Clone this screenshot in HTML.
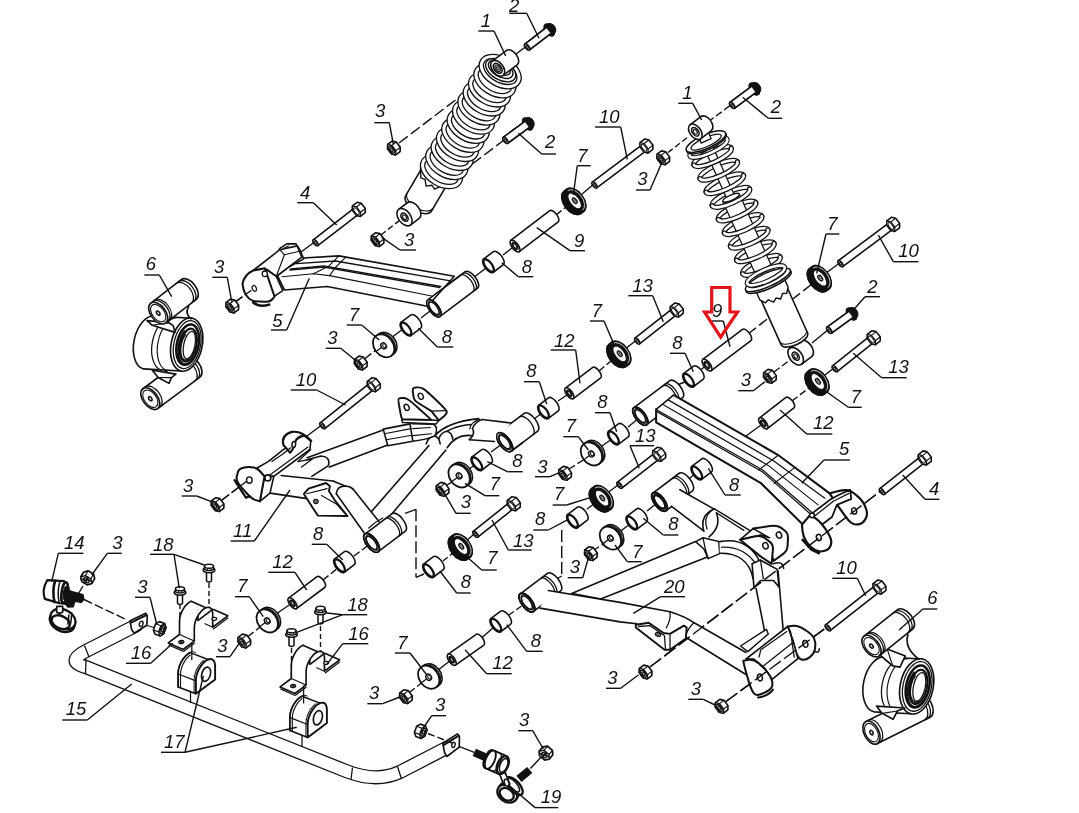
<!DOCTYPE html>
<html><head><meta charset="utf-8"><title>Suspension parts diagram</title>
<style>
html,body{margin:0;padding:0;background:#fff;}
svg{display:block;will-change:transform;}
text{font-family:"Liberation Sans",sans-serif;font-style:italic;fill:#111;}
</style></head><body>
<svg width="1079" height="813" viewBox="0 0 1079 813">
<rect width="1079" height="813" fill="#fff"/>
<line x1="399" y1="143" x2="462" y2="95" stroke="#111" stroke-width="1.4" stroke-dasharray="11 4"/>
<line x1="526" y1="46.5" x2="507" y2="61" stroke="#111" stroke-width="1.4"/>
<line x1="505" y1="139.3" x2="463" y2="171" stroke="#111" stroke-width="1.4" stroke-dasharray="11 4"/>
<line x1="381" y1="235" x2="400" y2="220" stroke="#111" stroke-width="1.4" stroke-dasharray="6 3"/>
<line x1="236" y1="301.5" x2="254" y2="288" stroke="#111" stroke-width="1.4" stroke-dasharray="8 3"/>
<line x1="297" y1="255" x2="315" y2="241.7" stroke="#111" stroke-width="1.4"/>
<line x1="365" y1="358.5" x2="376" y2="350" stroke="#111" stroke-width="1.4" stroke-dasharray="8 3"/>
<line x1="391" y1="338" x2="403" y2="329" stroke="#111" stroke-width="1.4"/>
<line x1="421" y1="318" x2="430" y2="311" stroke="#111" stroke-width="1.4"/>
<line x1="473" y1="278" x2="486" y2="268" stroke="#111" stroke-width="1.4"/>
<line x1="503" y1="255" x2="512" y2="248" stroke="#111" stroke-width="1.4"/>
<line x1="556" y1="215" x2="566" y2="207" stroke="#111" stroke-width="1.4" stroke-dasharray="7 3"/>
<line x1="582" y1="194" x2="594" y2="184" stroke="#111" stroke-width="1.4"/>
<line x1="222" y1="500" x2="247" y2="481" stroke="#111" stroke-width="1.4" stroke-dasharray="9 3"/>
<line x1="284" y1="453" x2="300" y2="441" stroke="#111" stroke-width="1.4" stroke-dasharray="9 3"/>
<line x1="305" y1="437.5" x2="322" y2="424.7" stroke="#111" stroke-width="1.4"/>
<line x1="248" y1="636.5" x2="262" y2="625.5" stroke="#111" stroke-width="1.4" stroke-dasharray="7 3"/>
<line x1="276" y1="614" x2="290" y2="604.5" stroke="#111" stroke-width="1.4"/>
<line x1="323" y1="580" x2="338" y2="568" stroke="#111" stroke-width="1.4" stroke-dasharray="7 3"/>
<line x1="354" y1="556" x2="368" y2="545.5" stroke="#111" stroke-width="1.4" stroke-dasharray="7 3"/>
<line x1="405" y1="513.3" x2="416" y2="509.3" stroke="#111" stroke-width="1.4"/>
<line x1="416" y1="509.3" x2="416" y2="577.3" stroke="#111" stroke-width="1.4" stroke-dasharray="12 4"/>
<line x1="416" y1="577.3" x2="424" y2="574" stroke="#111" stroke-width="1.4"/>
<line x1="443" y1="561" x2="453" y2="553" stroke="#111" stroke-width="1.4" stroke-dasharray="6 3"/>
<line x1="466" y1="541" x2="475" y2="533.3" stroke="#111" stroke-width="1.4"/>
<line x1="447" y1="485" x2="455" y2="480" stroke="#111" stroke-width="1.4" stroke-dasharray="6 3"/>
<line x1="466" y1="471" x2="475" y2="465" stroke="#111" stroke-width="1.4"/>
<line x1="491" y1="452" x2="502" y2="444" stroke="#111" stroke-width="1.4"/>
<line x1="534" y1="419" x2="542" y2="413" stroke="#111" stroke-width="1.4"/>
<line x1="558" y1="401" x2="567" y2="395" stroke="#111" stroke-width="1.4"/>
<line x1="599" y1="371" x2="611" y2="361" stroke="#111" stroke-width="1.4" stroke-dasharray="7 3"/>
<line x1="625" y1="349" x2="636.7" y2="340" stroke="#111" stroke-width="1.4"/>
<line x1="569" y1="469" x2="585" y2="459" stroke="#111" stroke-width="1.4" stroke-dasharray="7 3"/>
<line x1="599" y1="448" x2="612" y2="439" stroke="#111" stroke-width="1.4"/>
<line x1="628" y1="427" x2="636" y2="420.5" stroke="#111" stroke-width="1.4"/>
<line x1="676" y1="385.5" x2="686" y2="381.5" stroke="#111" stroke-width="1.4"/>
<line x1="701" y1="369.5" x2="705" y2="366.5" stroke="#111" stroke-width="1.4"/>
<line x1="748" y1="334" x2="812" y2="284" stroke="#111" stroke-width="1.4" stroke-dasharray="10 4"/>
<line x1="826" y1="273" x2="840" y2="262.7" stroke="#111" stroke-width="1.4"/>
<line x1="774" y1="372" x2="790" y2="360" stroke="#111" stroke-width="1.4" stroke-dasharray="7 3"/>
<line x1="812" y1="343" x2="829" y2="329" stroke="#111" stroke-width="1.4"/>
<line x1="746" y1="436" x2="761" y2="425" stroke="#111" stroke-width="1.4"/>
<line x1="792" y1="401" x2="809" y2="388" stroke="#111" stroke-width="1.4" stroke-dasharray="7 3"/>
<line x1="823" y1="376.5" x2="834.3" y2="367.7" stroke="#111" stroke-width="1.4"/>
<line x1="594" y1="550" x2="605" y2="543" stroke="#111" stroke-width="1.4" stroke-dasharray="6 3"/>
<line x1="618" y1="533" x2="630" y2="524" stroke="#111" stroke-width="1.4"/>
<line x1="647" y1="511" x2="657" y2="503" stroke="#111" stroke-width="1.4"/>
<line x1="687" y1="480" x2="695" y2="474" stroke="#111" stroke-width="1.4"/>
<line x1="587" y1="509" x2="596" y2="502.5" stroke="#111" stroke-width="1.4"/>
<line x1="608" y1="492.5" x2="619" y2="484.3" stroke="#111" stroke-width="1.4"/>
<line x1="561.7" y1="530" x2="561.7" y2="576" stroke="#111" stroke-width="1.4" stroke-dasharray="12 4"/>
<line x1="553" y1="581" x2="561.7" y2="576" stroke="#111" stroke-width="1.4"/>
<line x1="410" y1="692" x2="424" y2="681" stroke="#111" stroke-width="1.4" stroke-dasharray="6 3"/>
<line x1="437" y1="671" x2="449" y2="661.5" stroke="#111" stroke-width="1.4"/>
<line x1="481" y1="638.5" x2="494" y2="627" stroke="#111" stroke-width="1.4"/>
<line x1="509" y1="615" x2="523" y2="605" stroke="#111" stroke-width="1.4" stroke-dasharray="6 3"/>
<line x1="650" y1="667" x2="880" y2="491.5" stroke="#111" stroke-width="1.4" stroke-dasharray="14 4"/>
<line x1="726" y1="701.5" x2="827" y2="627" stroke="#111" stroke-width="1.4" stroke-dasharray="14 4"/>
<g transform="translate(488.4 265.7) rotate(-37)">
<path d="M0,-8.2 L12.5,-8.2 A3.8,8.2 0 0 1 12.5,8.2 L0,8.2 Z" fill="#fff" stroke="#111" stroke-width="1.59" stroke-linejoin="round" stroke-linecap="round" />
<ellipse cx="0" cy="0" rx="3.8" ry="8.2" fill="#fff" stroke="#111" stroke-width="1.65"/>
<ellipse cx="0.3" cy="0" rx="3.2" ry="7.2" fill="#fff" stroke="#111" stroke-width="1.91"/>
</g>
<g transform="translate(405.9 329) rotate(-37)">
<path d="M0,-8.2 L12.5,-8.2 A3.8,8.2 0 0 1 12.5,8.2 L0,8.2 Z" fill="#fff" stroke="#111" stroke-width="1.59" stroke-linejoin="round" stroke-linecap="round" />
<ellipse cx="0" cy="0" rx="3.8" ry="8.2" fill="#fff" stroke="#111" stroke-width="1.65"/>
<ellipse cx="0.3" cy="0" rx="3.2" ry="7.2" fill="#fff" stroke="#111" stroke-width="1.91"/>
</g>
<g transform="translate(543.4 411.9) rotate(-37)">
<path d="M0,-8.2 L12.5,-8.2 A3.8,8.2 0 0 1 12.5,8.2 L0,8.2 Z" fill="#fff" stroke="#111" stroke-width="1.59" stroke-linejoin="round" stroke-linecap="round" />
<ellipse cx="0" cy="0" rx="3.8" ry="8.2" fill="#fff" stroke="#111" stroke-width="1.65"/>
<ellipse cx="0.3" cy="0" rx="3.2" ry="7.2" fill="#fff" stroke="#111" stroke-width="1.91"/>
</g>
<g transform="translate(476.7 463.7) rotate(-37)">
<path d="M0,-8.2 L12.5,-8.2 A3.8,8.2 0 0 1 12.5,8.2 L0,8.2 Z" fill="#fff" stroke="#111" stroke-width="1.59" stroke-linejoin="round" stroke-linecap="round" />
<ellipse cx="0" cy="0" rx="3.8" ry="8.2" fill="#fff" stroke="#111" stroke-width="1.65"/>
<ellipse cx="0.3" cy="0" rx="3.2" ry="7.2" fill="#fff" stroke="#111" stroke-width="1.91"/>
</g>
<g transform="translate(613.4 437.9) rotate(-37)">
<path d="M0,-8.2 L12.5,-8.2 A3.8,8.2 0 0 1 12.5,8.2 L0,8.2 Z" fill="#fff" stroke="#111" stroke-width="1.59" stroke-linejoin="round" stroke-linecap="round" />
<ellipse cx="0" cy="0" rx="3.8" ry="8.2" fill="#fff" stroke="#111" stroke-width="1.65"/>
<ellipse cx="0.3" cy="0" rx="3.2" ry="7.2" fill="#fff" stroke="#111" stroke-width="1.91"/>
</g>
<g transform="translate(688.4 380.2) rotate(-37)">
<path d="M0,-8.2 L12.5,-8.2 A3.8,8.2 0 0 1 12.5,8.2 L0,8.2 Z" fill="#fff" stroke="#111" stroke-width="1.59" stroke-linejoin="round" stroke-linecap="round" />
<ellipse cx="0" cy="0" rx="3.8" ry="8.2" fill="#fff" stroke="#111" stroke-width="1.65"/>
<ellipse cx="0.3" cy="0" rx="3.2" ry="7.2" fill="#fff" stroke="#111" stroke-width="1.91"/>
</g>
<g transform="translate(696.7 472.9) rotate(-37)">
<path d="M0,-8.2 L12.5,-8.2 A3.8,8.2 0 0 1 12.5,8.2 L0,8.2 Z" fill="#fff" stroke="#111" stroke-width="1.59" stroke-linejoin="round" stroke-linecap="round" />
<ellipse cx="0" cy="0" rx="3.8" ry="8.2" fill="#fff" stroke="#111" stroke-width="1.65"/>
<ellipse cx="0.3" cy="0" rx="3.2" ry="7.2" fill="#fff" stroke="#111" stroke-width="1.91"/>
</g>
<g transform="translate(631.7 522.9) rotate(-37)">
<path d="M0,-8.2 L12.5,-8.2 A3.8,8.2 0 0 1 12.5,8.2 L0,8.2 Z" fill="#fff" stroke="#111" stroke-width="1.59" stroke-linejoin="round" stroke-linecap="round" />
<ellipse cx="0" cy="0" rx="3.8" ry="8.2" fill="#fff" stroke="#111" stroke-width="1.65"/>
<ellipse cx="0.3" cy="0" rx="3.2" ry="7.2" fill="#fff" stroke="#111" stroke-width="1.91"/>
</g>
<g transform="translate(572.4 521.2) rotate(-37)">
<path d="M0,-8.2 L12.5,-8.2 A3.8,8.2 0 0 1 12.5,8.2 L0,8.2 Z" fill="#fff" stroke="#111" stroke-width="1.59" stroke-linejoin="round" stroke-linecap="round" />
<ellipse cx="0" cy="0" rx="3.8" ry="8.2" fill="#fff" stroke="#111" stroke-width="1.65"/>
<ellipse cx="0.3" cy="0" rx="3.2" ry="7.2" fill="#fff" stroke="#111" stroke-width="1.91"/>
</g>
<g transform="translate(339.4 565.7) rotate(-37)">
<path d="M0,-8.2 L12.5,-8.2 A3.8,8.2 0 0 1 12.5,8.2 L0,8.2 Z" fill="#fff" stroke="#111" stroke-width="1.59" stroke-linejoin="round" stroke-linecap="round" />
<ellipse cx="0" cy="0" rx="3.8" ry="8.2" fill="#fff" stroke="#111" stroke-width="1.65"/>
<ellipse cx="0.3" cy="0" rx="3.2" ry="7.2" fill="#fff" stroke="#111" stroke-width="1.91"/>
</g>
<g transform="translate(428.4 570.7) rotate(-37)">
<path d="M0,-8.2 L12.5,-8.2 A3.8,8.2 0 0 1 12.5,8.2 L0,8.2 Z" fill="#fff" stroke="#111" stroke-width="1.59" stroke-linejoin="round" stroke-linecap="round" />
<ellipse cx="0" cy="0" rx="3.8" ry="8.2" fill="#fff" stroke="#111" stroke-width="1.65"/>
<ellipse cx="0.3" cy="0" rx="3.2" ry="7.2" fill="#fff" stroke="#111" stroke-width="1.91"/>
</g>
<g transform="translate(495.7 625.2) rotate(-37)">
<path d="M0,-8.2 L12.5,-8.2 A3.8,8.2 0 0 1 12.5,8.2 L0,8.2 Z" fill="#fff" stroke="#111" stroke-width="1.59" stroke-linejoin="round" stroke-linecap="round" />
<ellipse cx="0" cy="0" rx="3.8" ry="8.2" fill="#fff" stroke="#111" stroke-width="1.65"/>
<ellipse cx="0.3" cy="0" rx="3.2" ry="7.2" fill="#fff" stroke="#111" stroke-width="1.91"/>
</g>
<g transform="translate(292.5 603.3) rotate(-36.8)">
<path d="M0,-6.6 L35.6,-6.6 A3,6.6 0 0 1 35.6,6.6 L0,6.6 Z" fill="#fff" stroke="#111" stroke-width="1.59" stroke-linejoin="round" stroke-linecap="round" />
<ellipse cx="0" cy="0" rx="3" ry="6.6" fill="#fff" stroke="#111" stroke-width="1.59"/>
<ellipse cx="0" cy="0" rx="1.7" ry="3.6" fill="#fff" stroke="#111" stroke-width="1.59"/>
<ellipse cx="0" cy="0" rx="1.1" ry="2.4" fill="#fff" stroke="#111" stroke-width="1.14"/>
</g>
<g transform="translate(451.7 659.7) rotate(-35.2)">
<path d="M0,-6.6 L34.7,-6.6 A3,6.6 0 0 1 34.7,6.6 L0,6.6 Z" fill="#fff" stroke="#111" stroke-width="1.59" stroke-linejoin="round" stroke-linecap="round" />
<ellipse cx="0" cy="0" rx="3" ry="6.6" fill="#fff" stroke="#111" stroke-width="1.59"/>
<ellipse cx="0" cy="0" rx="1.7" ry="3.6" fill="#fff" stroke="#111" stroke-width="1.59"/>
<ellipse cx="0" cy="0" rx="1.1" ry="2.4" fill="#fff" stroke="#111" stroke-width="1.14"/>
</g>
<g transform="translate(569.3 393.3) rotate(-36.9)">
<path d="M0,-6.6 L34.3,-6.6 A3,6.6 0 0 1 34.3,6.6 L0,6.6 Z" fill="#fff" stroke="#111" stroke-width="1.59" stroke-linejoin="round" stroke-linecap="round" />
<ellipse cx="0" cy="0" rx="3" ry="6.6" fill="#fff" stroke="#111" stroke-width="1.59"/>
<ellipse cx="0" cy="0" rx="1.7" ry="3.6" fill="#fff" stroke="#111" stroke-width="1.59"/>
<ellipse cx="0" cy="0" rx="1.1" ry="2.4" fill="#fff" stroke="#111" stroke-width="1.14"/>
</g>
<g transform="translate(763.3 423.3) rotate(-37.7)">
<path d="M0,-6.6 L33.7,-6.6 A3,6.6 0 0 1 33.7,6.6 L0,6.6 Z" fill="#fff" stroke="#111" stroke-width="1.59" stroke-linejoin="round" stroke-linecap="round" />
<ellipse cx="0" cy="0" rx="3" ry="6.6" fill="#fff" stroke="#111" stroke-width="1.59"/>
<ellipse cx="0" cy="0" rx="1.7" ry="3.6" fill="#fff" stroke="#111" stroke-width="1.59"/>
<ellipse cx="0" cy="0" rx="1.1" ry="2.4" fill="#fff" stroke="#111" stroke-width="1.14"/>
</g>
<g transform="translate(515 246) rotate(-37.3)">
<path d="M0,-7 L49,-7 A3.2,7 0 0 1 49,7 L0,7 Z" fill="#fff" stroke="#111" stroke-width="1.59" stroke-linejoin="round" stroke-linecap="round" />
<ellipse cx="0" cy="0" rx="3.2" ry="7" fill="#fff" stroke="#111" stroke-width="1.59"/>
<ellipse cx="0" cy="0" rx="1.8" ry="4" fill="#fff" stroke="#111" stroke-width="1.59"/>
<ellipse cx="0" cy="0" rx="1.2" ry="2.6" fill="#fff" stroke="#111" stroke-width="1.14"/>
</g>
<g transform="translate(707 365) rotate(-37.1)">
<path d="M0,-7 L49.8,-7 A3.2,7 0 0 1 49.8,7 L0,7 Z" fill="#fff" stroke="#111" stroke-width="1.59" stroke-linejoin="round" stroke-linecap="round" />
<ellipse cx="0" cy="0" rx="3.2" ry="7" fill="#fff" stroke="#111" stroke-width="1.59"/>
<ellipse cx="0" cy="0" rx="1.8" ry="4" fill="#fff" stroke="#111" stroke-width="1.59"/>
<ellipse cx="0" cy="0" rx="1.2" ry="2.6" fill="#fff" stroke="#111" stroke-width="1.14"/>
</g>
<g transform="translate(574.9 200.6) rotate(-37)">
<path d="M-2.8,-13.9 L0,-13.9 A8.6,13.9 0 0 1 0,13.9 L-2.8,13.9 A8.6,13.9 0 0 1 -2.8,-13.9 Z" fill="#111" stroke="#111" stroke-width="1.59" stroke-linejoin="round" stroke-linecap="round" />
<ellipse cx="-2.8" cy="0" rx="8.6" ry="13.9" fill="#111" stroke="#111" stroke-width="1.59"/>
<ellipse cx="0" cy="0" rx="8.6" ry="13.9" fill="#111" stroke="#111" stroke-width="1.59"/>
<path d="M0.6,-12.3 A7.1,12.3 0 0 1 0.6,12.3" fill="none" stroke="#fff" stroke-width="0.7" stroke-linejoin="round" stroke-linecap="round" />
<ellipse cx="-0.4" cy="0" rx="4.7" ry="9.3" fill="#fff" stroke="#111" stroke-width="1.02"/>
<ellipse cx="-0.2" cy="0" rx="1.7" ry="3.2" fill="#fff" stroke="#111" stroke-width="1.4"/>
<ellipse cx="0.3" cy="0" rx="0.8" ry="1.5" fill="#fff" stroke="#111" stroke-width="0.89"/>
</g>
<g transform="translate(619.9 353.6) rotate(-37)">
<path d="M-2.8,-13.9 L0,-13.9 A8.6,13.9 0 0 1 0,13.9 L-2.8,13.9 A8.6,13.9 0 0 1 -2.8,-13.9 Z" fill="#111" stroke="#111" stroke-width="1.59" stroke-linejoin="round" stroke-linecap="round" />
<ellipse cx="-2.8" cy="0" rx="8.6" ry="13.9" fill="#111" stroke="#111" stroke-width="1.59"/>
<ellipse cx="0" cy="0" rx="8.6" ry="13.9" fill="#111" stroke="#111" stroke-width="1.59"/>
<path d="M0.6,-12.3 A7.1,12.3 0 0 1 0.6,12.3" fill="none" stroke="#fff" stroke-width="0.7" stroke-linejoin="round" stroke-linecap="round" />
<ellipse cx="-0.4" cy="0" rx="4.7" ry="9.3" fill="#fff" stroke="#111" stroke-width="1.02"/>
<ellipse cx="-0.2" cy="0" rx="1.7" ry="3.2" fill="#fff" stroke="#111" stroke-width="1.4"/>
<ellipse cx="0.3" cy="0" rx="0.8" ry="1.5" fill="#fff" stroke="#111" stroke-width="0.89"/>
</g>
<g transform="translate(602.4 497.9) rotate(-37)">
<path d="M-2.8,-13.9 L0,-13.9 A8.6,13.9 0 0 1 0,13.9 L-2.8,13.9 A8.6,13.9 0 0 1 -2.8,-13.9 Z" fill="#111" stroke="#111" stroke-width="1.59" stroke-linejoin="round" stroke-linecap="round" />
<ellipse cx="-2.8" cy="0" rx="8.6" ry="13.9" fill="#111" stroke="#111" stroke-width="1.59"/>
<ellipse cx="0" cy="0" rx="8.6" ry="13.9" fill="#111" stroke="#111" stroke-width="1.59"/>
<path d="M0.6,-12.3 A7.1,12.3 0 0 1 0.6,12.3" fill="none" stroke="#fff" stroke-width="0.7" stroke-linejoin="round" stroke-linecap="round" />
<ellipse cx="-0.4" cy="0" rx="4.7" ry="9.3" fill="#fff" stroke="#111" stroke-width="1.02"/>
<ellipse cx="-0.2" cy="0" rx="1.7" ry="3.2" fill="#fff" stroke="#111" stroke-width="1.4"/>
<ellipse cx="0.3" cy="0" rx="0.8" ry="1.5" fill="#fff" stroke="#111" stroke-width="0.89"/>
</g>
<g transform="translate(461.4 546.3) rotate(-37)">
<path d="M-2.8,-13.9 L0,-13.9 A8.6,13.9 0 0 1 0,13.9 L-2.8,13.9 A8.6,13.9 0 0 1 -2.8,-13.9 Z" fill="#111" stroke="#111" stroke-width="1.59" stroke-linejoin="round" stroke-linecap="round" />
<ellipse cx="-2.8" cy="0" rx="8.6" ry="13.9" fill="#111" stroke="#111" stroke-width="1.59"/>
<ellipse cx="0" cy="0" rx="8.6" ry="13.9" fill="#111" stroke="#111" stroke-width="1.59"/>
<path d="M0.6,-12.3 A7.1,12.3 0 0 1 0.6,12.3" fill="none" stroke="#fff" stroke-width="0.7" stroke-linejoin="round" stroke-linecap="round" />
<ellipse cx="-0.4" cy="0" rx="4.7" ry="9.3" fill="#fff" stroke="#111" stroke-width="1.02"/>
<ellipse cx="-0.2" cy="0" rx="1.7" ry="3.2" fill="#fff" stroke="#111" stroke-width="1.4"/>
<ellipse cx="0.3" cy="0" rx="0.8" ry="1.5" fill="#fff" stroke="#111" stroke-width="0.89"/>
</g>
<g transform="translate(820.4 277.9) rotate(-37)">
<path d="M-2.8,-13.9 L0,-13.9 A8.6,13.9 0 0 1 0,13.9 L-2.8,13.9 A8.6,13.9 0 0 1 -2.8,-13.9 Z" fill="#111" stroke="#111" stroke-width="1.59" stroke-linejoin="round" stroke-linecap="round" />
<ellipse cx="-2.8" cy="0" rx="8.6" ry="13.9" fill="#111" stroke="#111" stroke-width="1.59"/>
<ellipse cx="0" cy="0" rx="8.6" ry="13.9" fill="#111" stroke="#111" stroke-width="1.59"/>
<path d="M0.6,-12.3 A7.1,12.3 0 0 1 0.6,12.3" fill="none" stroke="#fff" stroke-width="0.7" stroke-linejoin="round" stroke-linecap="round" />
<ellipse cx="-0.4" cy="0" rx="4.7" ry="9.3" fill="#fff" stroke="#111" stroke-width="1.02"/>
<ellipse cx="-0.2" cy="0" rx="1.7" ry="3.2" fill="#fff" stroke="#111" stroke-width="1.4"/>
<ellipse cx="0.3" cy="0" rx="0.8" ry="1.5" fill="#fff" stroke="#111" stroke-width="0.89"/>
</g>
<g transform="translate(818.1 381.3) rotate(-37)">
<path d="M-2.8,-13.9 L0,-13.9 A8.6,13.9 0 0 1 0,13.9 L-2.8,13.9 A8.6,13.9 0 0 1 -2.8,-13.9 Z" fill="#111" stroke="#111" stroke-width="1.59" stroke-linejoin="round" stroke-linecap="round" />
<ellipse cx="-2.8" cy="0" rx="8.6" ry="13.9" fill="#111" stroke="#111" stroke-width="1.59"/>
<ellipse cx="0" cy="0" rx="8.6" ry="13.9" fill="#111" stroke="#111" stroke-width="1.59"/>
<path d="M0.6,-12.3 A7.1,12.3 0 0 1 0.6,12.3" fill="none" stroke="#fff" stroke-width="0.7" stroke-linejoin="round" stroke-linecap="round" />
<ellipse cx="-0.4" cy="0" rx="4.7" ry="9.3" fill="#fff" stroke="#111" stroke-width="1.02"/>
<ellipse cx="-0.2" cy="0" rx="1.7" ry="3.2" fill="#fff" stroke="#111" stroke-width="1.4"/>
<ellipse cx="0.3" cy="0" rx="0.8" ry="1.5" fill="#fff" stroke="#111" stroke-width="0.89"/>
</g>
<g transform="translate(384.9 344.9) rotate(-37)">
<g transform="translate(-1.6 0) rotate(0)">
<path d="M0,-12.5 L3.4,-12.5 A9.5,12.5 0 0 1 3.4,12.5 L0,12.5 Z" fill="#fff" stroke="#111" stroke-width="1.59" stroke-linejoin="round" stroke-linecap="round" />
<path d="M1.7,-12.5 A9.5,12.5 0 0 1 1.7,12.5" fill="none" stroke="#111" stroke-width="1.02" stroke-linejoin="round" stroke-linecap="round" />
<ellipse cx="1" cy="0" rx="9.5" ry="12.5" fill="#fff" stroke="#111" stroke-width="1.02"/>
<ellipse cx="0" cy="0" rx="9.5" ry="12.5" fill="#fff" stroke="#111" stroke-width="1.78"/>
<line x1="-9.5" y1="0" x2="-2" y2="0" stroke="#111" stroke-width="1.27"/>
<ellipse cx="0" cy="0" rx="2.6" ry="3.2" fill="#fff" stroke="#111" stroke-width="1.4"/>
<ellipse cx="0.7" cy="0.2" rx="1.5" ry="2" fill="#fff" stroke="#111" stroke-width="1.02"/>
</g>
</g>
<g transform="translate(460.4 475) rotate(-37)">
<g transform="translate(-1.6 0) rotate(0)">
<path d="M0,-12.5 L3.4,-12.5 A9.5,12.5 0 0 1 3.4,12.5 L0,12.5 Z" fill="#fff" stroke="#111" stroke-width="1.59" stroke-linejoin="round" stroke-linecap="round" />
<path d="M1.7,-12.5 A9.5,12.5 0 0 1 1.7,12.5" fill="none" stroke="#111" stroke-width="1.02" stroke-linejoin="round" stroke-linecap="round" />
<ellipse cx="1" cy="0" rx="9.5" ry="12.5" fill="#fff" stroke="#111" stroke-width="1.02"/>
<ellipse cx="0" cy="0" rx="9.5" ry="12.5" fill="#fff" stroke="#111" stroke-width="1.78"/>
<line x1="-9.5" y1="0" x2="-2" y2="0" stroke="#111" stroke-width="1.27"/>
<ellipse cx="0" cy="0" rx="2.6" ry="3.2" fill="#fff" stroke="#111" stroke-width="1.4"/>
<ellipse cx="0.7" cy="0.2" rx="1.5" ry="2" fill="#fff" stroke="#111" stroke-width="1.02"/>
</g>
</g>
<g transform="translate(592.7 453) rotate(-37)">
<g transform="translate(-1.6 0) rotate(0)">
<path d="M0,-12.5 L3.4,-12.5 A9.5,12.5 0 0 1 3.4,12.5 L0,12.5 Z" fill="#fff" stroke="#111" stroke-width="1.59" stroke-linejoin="round" stroke-linecap="round" />
<path d="M1.7,-12.5 A9.5,12.5 0 0 1 1.7,12.5" fill="none" stroke="#111" stroke-width="1.02" stroke-linejoin="round" stroke-linecap="round" />
<ellipse cx="1" cy="0" rx="9.5" ry="12.5" fill="#fff" stroke="#111" stroke-width="1.02"/>
<ellipse cx="0" cy="0" rx="9.5" ry="12.5" fill="#fff" stroke="#111" stroke-width="1.78"/>
<line x1="-9.5" y1="0" x2="-2" y2="0" stroke="#111" stroke-width="1.27"/>
<ellipse cx="0" cy="0" rx="2.6" ry="3.2" fill="#fff" stroke="#111" stroke-width="1.4"/>
<ellipse cx="0.7" cy="0.2" rx="1.5" ry="2" fill="#fff" stroke="#111" stroke-width="1.02"/>
</g>
</g>
<g transform="translate(611.7 537.2) rotate(-37)">
<g transform="translate(-1.6 0) rotate(0)">
<path d="M0,-12.5 L3.4,-12.5 A9.5,12.5 0 0 1 3.4,12.5 L0,12.5 Z" fill="#fff" stroke="#111" stroke-width="1.59" stroke-linejoin="round" stroke-linecap="round" />
<path d="M1.7,-12.5 A9.5,12.5 0 0 1 1.7,12.5" fill="none" stroke="#111" stroke-width="1.02" stroke-linejoin="round" stroke-linecap="round" />
<ellipse cx="1" cy="0" rx="9.5" ry="12.5" fill="#fff" stroke="#111" stroke-width="1.02"/>
<ellipse cx="0" cy="0" rx="9.5" ry="12.5" fill="#fff" stroke="#111" stroke-width="1.78"/>
<line x1="-9.5" y1="0" x2="-2" y2="0" stroke="#111" stroke-width="1.27"/>
<ellipse cx="0" cy="0" rx="2.6" ry="3.2" fill="#fff" stroke="#111" stroke-width="1.4"/>
<ellipse cx="0.7" cy="0.2" rx="1.5" ry="2" fill="#fff" stroke="#111" stroke-width="1.02"/>
</g>
</g>
<g transform="translate(268.5 620) rotate(-37)">
<g transform="translate(-1.6 0) rotate(0)">
<path d="M0,-12.5 L3.4,-12.5 A9.5,12.5 0 0 1 3.4,12.5 L0,12.5 Z" fill="#fff" stroke="#111" stroke-width="1.59" stroke-linejoin="round" stroke-linecap="round" />
<path d="M1.7,-12.5 A9.5,12.5 0 0 1 1.7,12.5" fill="none" stroke="#111" stroke-width="1.02" stroke-linejoin="round" stroke-linecap="round" />
<ellipse cx="1" cy="0" rx="9.5" ry="12.5" fill="#fff" stroke="#111" stroke-width="1.02"/>
<ellipse cx="0" cy="0" rx="9.5" ry="12.5" fill="#fff" stroke="#111" stroke-width="1.78"/>
<line x1="-9.5" y1="0" x2="-2" y2="0" stroke="#111" stroke-width="1.27"/>
<ellipse cx="0" cy="0" rx="2.6" ry="3.2" fill="#fff" stroke="#111" stroke-width="1.4"/>
<ellipse cx="0.7" cy="0.2" rx="1.5" ry="2" fill="#fff" stroke="#111" stroke-width="1.02"/>
</g>
</g>
<g transform="translate(430 676.3) rotate(-37)">
<g transform="translate(-1.6 0) rotate(0)">
<path d="M0,-12.5 L3.4,-12.5 A9.5,12.5 0 0 1 3.4,12.5 L0,12.5 Z" fill="#fff" stroke="#111" stroke-width="1.59" stroke-linejoin="round" stroke-linecap="round" />
<path d="M1.7,-12.5 A9.5,12.5 0 0 1 1.7,12.5" fill="none" stroke="#111" stroke-width="1.02" stroke-linejoin="round" stroke-linecap="round" />
<ellipse cx="1" cy="0" rx="9.5" ry="12.5" fill="#fff" stroke="#111" stroke-width="1.02"/>
<ellipse cx="0" cy="0" rx="9.5" ry="12.5" fill="#fff" stroke="#111" stroke-width="1.78"/>
<line x1="-9.5" y1="0" x2="-2" y2="0" stroke="#111" stroke-width="1.27"/>
<ellipse cx="0" cy="0" rx="2.6" ry="3.2" fill="#fff" stroke="#111" stroke-width="1.4"/>
<ellipse cx="0.7" cy="0.2" rx="1.5" ry="2" fill="#fff" stroke="#111" stroke-width="1.02"/>
</g>
</g>
<g transform="translate(393.9 148) rotate(-37)">
<path d="M-2.8,6.6 L-5.5,3.3 L-5.5,-3.3 L-2.8,-6.6 L2.7,-6.6 L5.5,-3.3 L5.5,3.3 L2.8,6.6 Z" fill="#fff" stroke="#111" stroke-width="1.65" stroke-linejoin="round" stroke-linecap="round"/>
<path d="M0,3.3 L-2.8,6.6 L-5.5,3.3 L-5.5,-3.3 L-2.8,-6.6 L0,-3.3 Z" fill="#fff" stroke="#111" stroke-width="1.27" stroke-linejoin="round" stroke-linecap="round"/>
<line x1="0" y1="3.3" x2="5.5" y2="3.3" stroke="#111" stroke-width="1.14"/>
<line x1="0" y1="-3.3" x2="5.5" y2="-3.3" stroke="#111" stroke-width="1.14"/>
<ellipse cx="-2.8" cy="0" rx="2" ry="4.1" fill="#fff" stroke="#111" stroke-width="1.52"/>
<ellipse cx="-2.8" cy="0" rx="1" ry="2.1" fill="#fff" stroke="#111" stroke-width="1.27"/>
</g>
<g transform="translate(377.6 239.6) rotate(-37)">
<path d="M-2.8,6.6 L-5.5,3.3 L-5.5,-3.3 L-2.8,-6.6 L2.7,-6.6 L5.5,-3.3 L5.5,3.3 L2.8,6.6 Z" fill="#fff" stroke="#111" stroke-width="1.65" stroke-linejoin="round" stroke-linecap="round"/>
<path d="M0,3.3 L-2.8,6.6 L-5.5,3.3 L-5.5,-3.3 L-2.8,-6.6 L0,-3.3 Z" fill="#fff" stroke="#111" stroke-width="1.27" stroke-linejoin="round" stroke-linecap="round"/>
<line x1="0" y1="3.3" x2="5.5" y2="3.3" stroke="#111" stroke-width="1.14"/>
<line x1="0" y1="-3.3" x2="5.5" y2="-3.3" stroke="#111" stroke-width="1.14"/>
<ellipse cx="-2.8" cy="0" rx="2" ry="4.1" fill="#fff" stroke="#111" stroke-width="1.52"/>
<ellipse cx="-2.8" cy="0" rx="1" ry="2.1" fill="#fff" stroke="#111" stroke-width="1.27"/>
</g>
<g transform="translate(663.3 157.8) rotate(-37)">
<path d="M-2.8,6.6 L-5.5,3.3 L-5.5,-3.3 L-2.8,-6.6 L2.7,-6.6 L5.5,-3.3 L5.5,3.3 L2.8,6.6 Z" fill="#fff" stroke="#111" stroke-width="1.65" stroke-linejoin="round" stroke-linecap="round"/>
<path d="M0,3.3 L-2.8,6.6 L-5.5,3.3 L-5.5,-3.3 L-2.8,-6.6 L0,-3.3 Z" fill="#fff" stroke="#111" stroke-width="1.27" stroke-linejoin="round" stroke-linecap="round"/>
<line x1="0" y1="3.3" x2="5.5" y2="3.3" stroke="#111" stroke-width="1.14"/>
<line x1="0" y1="-3.3" x2="5.5" y2="-3.3" stroke="#111" stroke-width="1.14"/>
<ellipse cx="-2.8" cy="0" rx="2" ry="4.1" fill="#fff" stroke="#111" stroke-width="1.52"/>
<ellipse cx="-2.8" cy="0" rx="1" ry="2.1" fill="#fff" stroke="#111" stroke-width="1.27"/>
</g>
<g transform="translate(232.3 306) rotate(-37)">
<path d="M-2.8,6.6 L-5.5,3.3 L-5.5,-3.3 L-2.8,-6.6 L2.7,-6.6 L5.5,-3.3 L5.5,3.3 L2.8,6.6 Z" fill="#fff" stroke="#111" stroke-width="1.65" stroke-linejoin="round" stroke-linecap="round"/>
<path d="M0,3.3 L-2.8,6.6 L-5.5,3.3 L-5.5,-3.3 L-2.8,-6.6 L0,-3.3 Z" fill="#fff" stroke="#111" stroke-width="1.27" stroke-linejoin="round" stroke-linecap="round"/>
<line x1="0" y1="3.3" x2="5.5" y2="3.3" stroke="#111" stroke-width="1.14"/>
<line x1="0" y1="-3.3" x2="5.5" y2="-3.3" stroke="#111" stroke-width="1.14"/>
<ellipse cx="-2.8" cy="0" rx="2" ry="4.1" fill="#fff" stroke="#111" stroke-width="1.52"/>
<ellipse cx="-2.8" cy="0" rx="1" ry="2.1" fill="#fff" stroke="#111" stroke-width="1.27"/>
</g>
<g transform="translate(360.8 363) rotate(-37)">
<path d="M-2.8,6.6 L-5.5,3.3 L-5.5,-3.3 L-2.8,-6.6 L2.7,-6.6 L5.5,-3.3 L5.5,3.3 L2.8,6.6 Z" fill="#fff" stroke="#111" stroke-width="1.65" stroke-linejoin="round" stroke-linecap="round"/>
<path d="M0,3.3 L-2.8,6.6 L-5.5,3.3 L-5.5,-3.3 L-2.8,-6.6 L0,-3.3 Z" fill="#fff" stroke="#111" stroke-width="1.27" stroke-linejoin="round" stroke-linecap="round"/>
<line x1="0" y1="3.3" x2="5.5" y2="3.3" stroke="#111" stroke-width="1.14"/>
<line x1="0" y1="-3.3" x2="5.5" y2="-3.3" stroke="#111" stroke-width="1.14"/>
<ellipse cx="-2.8" cy="0" rx="2" ry="4.1" fill="#fff" stroke="#111" stroke-width="1.52"/>
<ellipse cx="-2.8" cy="0" rx="1" ry="2.1" fill="#fff" stroke="#111" stroke-width="1.27"/>
</g>
<g transform="translate(217.6 504.6) rotate(-37)">
<path d="M-2.8,6.6 L-5.5,3.3 L-5.5,-3.3 L-2.8,-6.6 L2.7,-6.6 L5.5,-3.3 L5.5,3.3 L2.8,6.6 Z" fill="#fff" stroke="#111" stroke-width="1.65" stroke-linejoin="round" stroke-linecap="round"/>
<path d="M0,3.3 L-2.8,6.6 L-5.5,3.3 L-5.5,-3.3 L-2.8,-6.6 L0,-3.3 Z" fill="#fff" stroke="#111" stroke-width="1.27" stroke-linejoin="round" stroke-linecap="round"/>
<line x1="0" y1="3.3" x2="5.5" y2="3.3" stroke="#111" stroke-width="1.14"/>
<line x1="0" y1="-3.3" x2="5.5" y2="-3.3" stroke="#111" stroke-width="1.14"/>
<ellipse cx="-2.8" cy="0" rx="2" ry="4.1" fill="#fff" stroke="#111" stroke-width="1.52"/>
<ellipse cx="-2.8" cy="0" rx="1" ry="2.1" fill="#fff" stroke="#111" stroke-width="1.27"/>
</g>
<g transform="translate(442.6 489.3) rotate(-37)">
<path d="M-2.8,6.6 L-5.5,3.3 L-5.5,-3.3 L-2.8,-6.6 L2.7,-6.6 L5.5,-3.3 L5.5,3.3 L2.8,6.6 Z" fill="#fff" stroke="#111" stroke-width="1.65" stroke-linejoin="round" stroke-linecap="round"/>
<path d="M0,3.3 L-2.8,6.6 L-5.5,3.3 L-5.5,-3.3 L-2.8,-6.6 L0,-3.3 Z" fill="#fff" stroke="#111" stroke-width="1.27" stroke-linejoin="round" stroke-linecap="round"/>
<line x1="0" y1="3.3" x2="5.5" y2="3.3" stroke="#111" stroke-width="1.14"/>
<line x1="0" y1="-3.3" x2="5.5" y2="-3.3" stroke="#111" stroke-width="1.14"/>
<ellipse cx="-2.8" cy="0" rx="2" ry="4.1" fill="#fff" stroke="#111" stroke-width="1.52"/>
<ellipse cx="-2.8" cy="0" rx="1" ry="2.1" fill="#fff" stroke="#111" stroke-width="1.27"/>
</g>
<g transform="translate(565.1 473.3) rotate(-37)">
<path d="M-2.8,6.6 L-5.5,3.3 L-5.5,-3.3 L-2.8,-6.6 L2.7,-6.6 L5.5,-3.3 L5.5,3.3 L2.8,6.6 Z" fill="#fff" stroke="#111" stroke-width="1.65" stroke-linejoin="round" stroke-linecap="round"/>
<path d="M0,3.3 L-2.8,6.6 L-5.5,3.3 L-5.5,-3.3 L-2.8,-6.6 L0,-3.3 Z" fill="#fff" stroke="#111" stroke-width="1.27" stroke-linejoin="round" stroke-linecap="round"/>
<line x1="0" y1="3.3" x2="5.5" y2="3.3" stroke="#111" stroke-width="1.14"/>
<line x1="0" y1="-3.3" x2="5.5" y2="-3.3" stroke="#111" stroke-width="1.14"/>
<ellipse cx="-2.8" cy="0" rx="2" ry="4.1" fill="#fff" stroke="#111" stroke-width="1.52"/>
<ellipse cx="-2.8" cy="0" rx="1" ry="2.1" fill="#fff" stroke="#111" stroke-width="1.27"/>
</g>
<g transform="translate(590.9 553.6) rotate(-37)">
<path d="M-2.8,6.6 L-5.5,3.3 L-5.5,-3.3 L-2.8,-6.6 L2.7,-6.6 L5.5,-3.3 L5.5,3.3 L2.8,6.6 Z" fill="#fff" stroke="#111" stroke-width="1.65" stroke-linejoin="round" stroke-linecap="round"/>
<path d="M0,3.3 L-2.8,6.6 L-5.5,3.3 L-5.5,-3.3 L-2.8,-6.6 L0,-3.3 Z" fill="#fff" stroke="#111" stroke-width="1.27" stroke-linejoin="round" stroke-linecap="round"/>
<line x1="0" y1="3.3" x2="5.5" y2="3.3" stroke="#111" stroke-width="1.14"/>
<line x1="0" y1="-3.3" x2="5.5" y2="-3.3" stroke="#111" stroke-width="1.14"/>
<ellipse cx="-2.8" cy="0" rx="2" ry="4.1" fill="#fff" stroke="#111" stroke-width="1.52"/>
<ellipse cx="-2.8" cy="0" rx="1" ry="2.1" fill="#fff" stroke="#111" stroke-width="1.27"/>
</g>
<g transform="translate(769.9 376.3) rotate(-37)">
<path d="M-2.8,6.6 L-5.5,3.3 L-5.5,-3.3 L-2.8,-6.6 L2.7,-6.6 L5.5,-3.3 L5.5,3.3 L2.8,6.6 Z" fill="#fff" stroke="#111" stroke-width="1.65" stroke-linejoin="round" stroke-linecap="round"/>
<path d="M0,3.3 L-2.8,6.6 L-5.5,3.3 L-5.5,-3.3 L-2.8,-6.6 L0,-3.3 Z" fill="#fff" stroke="#111" stroke-width="1.27" stroke-linejoin="round" stroke-linecap="round"/>
<line x1="0" y1="3.3" x2="5.5" y2="3.3" stroke="#111" stroke-width="1.14"/>
<line x1="0" y1="-3.3" x2="5.5" y2="-3.3" stroke="#111" stroke-width="1.14"/>
<ellipse cx="-2.8" cy="0" rx="2" ry="4.1" fill="#fff" stroke="#111" stroke-width="1.52"/>
<ellipse cx="-2.8" cy="0" rx="1" ry="2.1" fill="#fff" stroke="#111" stroke-width="1.27"/>
</g>
<g transform="translate(244.3 641) rotate(-37)">
<path d="M-2.8,6.6 L-5.5,3.3 L-5.5,-3.3 L-2.8,-6.6 L2.7,-6.6 L5.5,-3.3 L5.5,3.3 L2.8,6.6 Z" fill="#fff" stroke="#111" stroke-width="1.65" stroke-linejoin="round" stroke-linecap="round"/>
<path d="M0,3.3 L-2.8,6.6 L-5.5,3.3 L-5.5,-3.3 L-2.8,-6.6 L0,-3.3 Z" fill="#fff" stroke="#111" stroke-width="1.27" stroke-linejoin="round" stroke-linecap="round"/>
<line x1="0" y1="3.3" x2="5.5" y2="3.3" stroke="#111" stroke-width="1.14"/>
<line x1="0" y1="-3.3" x2="5.5" y2="-3.3" stroke="#111" stroke-width="1.14"/>
<ellipse cx="-2.8" cy="0" rx="2" ry="4.1" fill="#fff" stroke="#111" stroke-width="1.52"/>
<ellipse cx="-2.8" cy="0" rx="1" ry="2.1" fill="#fff" stroke="#111" stroke-width="1.27"/>
</g>
<g transform="translate(405.9 696.6) rotate(-37)">
<path d="M-2.8,6.6 L-5.5,3.3 L-5.5,-3.3 L-2.8,-6.6 L2.7,-6.6 L5.5,-3.3 L5.5,3.3 L2.8,6.6 Z" fill="#fff" stroke="#111" stroke-width="1.65" stroke-linejoin="round" stroke-linecap="round"/>
<path d="M0,3.3 L-2.8,6.6 L-5.5,3.3 L-5.5,-3.3 L-2.8,-6.6 L0,-3.3 Z" fill="#fff" stroke="#111" stroke-width="1.27" stroke-linejoin="round" stroke-linecap="round"/>
<line x1="0" y1="3.3" x2="5.5" y2="3.3" stroke="#111" stroke-width="1.14"/>
<line x1="0" y1="-3.3" x2="5.5" y2="-3.3" stroke="#111" stroke-width="1.14"/>
<ellipse cx="-2.8" cy="0" rx="2" ry="4.1" fill="#fff" stroke="#111" stroke-width="1.52"/>
<ellipse cx="-2.8" cy="0" rx="1" ry="2.1" fill="#fff" stroke="#111" stroke-width="1.27"/>
</g>
<g transform="translate(645.6 672) rotate(-37)">
<path d="M-2.8,6.6 L-5.5,3.3 L-5.5,-3.3 L-2.8,-6.6 L2.7,-6.6 L5.5,-3.3 L5.5,3.3 L2.8,6.6 Z" fill="#fff" stroke="#111" stroke-width="1.65" stroke-linejoin="round" stroke-linecap="round"/>
<path d="M0,3.3 L-2.8,6.6 L-5.5,3.3 L-5.5,-3.3 L-2.8,-6.6 L0,-3.3 Z" fill="#fff" stroke="#111" stroke-width="1.27" stroke-linejoin="round" stroke-linecap="round"/>
<line x1="0" y1="3.3" x2="5.5" y2="3.3" stroke="#111" stroke-width="1.14"/>
<line x1="0" y1="-3.3" x2="5.5" y2="-3.3" stroke="#111" stroke-width="1.14"/>
<ellipse cx="-2.8" cy="0" rx="2" ry="4.1" fill="#fff" stroke="#111" stroke-width="1.52"/>
<ellipse cx="-2.8" cy="0" rx="1" ry="2.1" fill="#fff" stroke="#111" stroke-width="1.27"/>
</g>
<g transform="translate(721.6 706.3) rotate(-37)">
<path d="M-2.8,6.6 L-5.5,3.3 L-5.5,-3.3 L-2.8,-6.6 L2.7,-6.6 L5.5,-3.3 L5.5,3.3 L2.8,6.6 Z" fill="#fff" stroke="#111" stroke-width="1.65" stroke-linejoin="round" stroke-linecap="round"/>
<path d="M0,3.3 L-2.8,6.6 L-5.5,3.3 L-5.5,-3.3 L-2.8,-6.6 L0,-3.3 Z" fill="#fff" stroke="#111" stroke-width="1.27" stroke-linejoin="round" stroke-linecap="round"/>
<line x1="0" y1="3.3" x2="5.5" y2="3.3" stroke="#111" stroke-width="1.14"/>
<line x1="0" y1="-3.3" x2="5.5" y2="-3.3" stroke="#111" stroke-width="1.14"/>
<ellipse cx="-2.8" cy="0" rx="2" ry="4.1" fill="#fff" stroke="#111" stroke-width="1.52"/>
<ellipse cx="-2.8" cy="0" rx="1" ry="2.1" fill="#fff" stroke="#111" stroke-width="1.27"/>
</g>
<g transform="translate(527.2 47) rotate(-37.7)">
<path d="M0,-3.7 L24.3,-3.7 L24.3,3.7 L0,3.7 Z" fill="#fff" stroke="#111" stroke-width="1.59" stroke-linejoin="round" stroke-linecap="round" />
<ellipse cx="0" cy="0" rx="1.7" ry="3.7" fill="#fff" stroke="#111" stroke-width="1.59"/>
<ellipse cx="0" cy="0" rx="0.8" ry="1.7" fill="#fff" stroke="#111" stroke-width="1.02"/>
<ellipse cx="30.5" cy="0" rx="3.6" ry="5.4" fill="#111" stroke="#111" stroke-width="1.27"/>
<path d="M27.3,-5.4 L30.5,-5.4 L30.5,5.4 L27.3,5.4 Z" fill="#111" stroke="#111" stroke-width="1.27" stroke-linejoin="round" stroke-linecap="round" />
<ellipse cx="27.9" cy="0" rx="4.1" ry="7" fill="#111" stroke="#111" stroke-width="1.27"/>
<path d="M0,-3.7 L26.8,-3.7 L26.8,3.7 L0,3.7 Z" fill="#fff" stroke="#111" stroke-width="0.0" stroke-linejoin="round" stroke-linecap="round" />
<path d="M26.8,-3.7 L0,-3.7 M0,3.7 L26.8,3.7" fill="none" stroke="#111" stroke-width="1.59" stroke-linejoin="round" stroke-linecap="round" />
<ellipse cx="0" cy="0" rx="1.7" ry="3.7" fill="#fff" stroke="#111" stroke-width="1.59"/>
<ellipse cx="0" cy="0" rx="0.8" ry="1.7" fill="#fff" stroke="#111" stroke-width="1.02"/>
</g>
<g transform="translate(505.5 140.3) rotate(-36.4)">
<path d="M0,-3.7 L24,-3.7 L24,3.7 L0,3.7 Z" fill="#fff" stroke="#111" stroke-width="1.59" stroke-linejoin="round" stroke-linecap="round" />
<ellipse cx="0" cy="0" rx="1.7" ry="3.7" fill="#fff" stroke="#111" stroke-width="1.59"/>
<ellipse cx="0" cy="0" rx="0.8" ry="1.7" fill="#fff" stroke="#111" stroke-width="1.02"/>
<ellipse cx="30.2" cy="0" rx="3.6" ry="5.4" fill="#111" stroke="#111" stroke-width="1.27"/>
<path d="M27,-5.4 L30.2,-5.4 L30.2,5.4 L27,5.4 Z" fill="#111" stroke="#111" stroke-width="1.27" stroke-linejoin="round" stroke-linecap="round" />
<ellipse cx="27.6" cy="0" rx="4.1" ry="7" fill="#111" stroke="#111" stroke-width="1.27"/>
<path d="M0,-3.7 L26.5,-3.7 L26.5,3.7 L0,3.7 Z" fill="#fff" stroke="#111" stroke-width="0.0" stroke-linejoin="round" stroke-linecap="round" />
<path d="M26.5,-3.7 L0,-3.7 M0,3.7 L26.5,3.7" fill="none" stroke="#111" stroke-width="1.59" stroke-linejoin="round" stroke-linecap="round" />
<ellipse cx="0" cy="0" rx="1.7" ry="3.7" fill="#fff" stroke="#111" stroke-width="1.59"/>
<ellipse cx="0" cy="0" rx="0.8" ry="1.7" fill="#fff" stroke="#111" stroke-width="1.02"/>
</g>
<g transform="translate(594.5 185) rotate(-36.9)">
<path d="M0,-3.7 L62,-3.7 L62,3.7 L0,3.7 Z" fill="#fff" stroke="#111" stroke-width="1.59" stroke-linejoin="round" stroke-linecap="round" />
<ellipse cx="0" cy="0" rx="1.7" ry="3.7" fill="#fff" stroke="#111" stroke-width="1.59"/>
<ellipse cx="0" cy="0" rx="0.8" ry="1.7" fill="#fff" stroke="#111" stroke-width="1.02"/>
<path d="M62,6.6 L59.4,3.3 L59.4,-3.3 L62,-6.6 L68,-6.6 L70.6,-3.3 L70.6,3.3 L68,6.6 Z" fill="#fff" stroke="#111" stroke-width="1.59" stroke-linejoin="round" stroke-linecap="round"/>
<path d="M64.6,3.3 L62,6.6 L59.4,3.3 L59.4,-3.3 L62,-6.6 L64.6,-3.3 Z" fill="#fff" stroke="#111" stroke-width="1.27" stroke-linejoin="round" stroke-linecap="round"/>
<line x1="64.6" y1="3.3" x2="70.6" y2="3.3" stroke="#111" stroke-width="1.14"/>
<line x1="64.6" y1="-3.3" x2="70.6" y2="-3.3" stroke="#111" stroke-width="1.14"/>
<ellipse cx="62" cy="0" rx="1.7" ry="4.1" fill="none" stroke="#111" stroke-width="1.02"/>
</g>
<g transform="translate(315.5 242.7) rotate(-37.6)">
<path d="M0,-3.7 L51.7,-3.7 L51.7,3.7 L0,3.7 Z" fill="#fff" stroke="#111" stroke-width="1.59" stroke-linejoin="round" stroke-linecap="round" />
<ellipse cx="0" cy="0" rx="1.7" ry="3.7" fill="#fff" stroke="#111" stroke-width="1.59"/>
<ellipse cx="0" cy="0" rx="0.8" ry="1.7" fill="#fff" stroke="#111" stroke-width="1.02"/>
<path d="M51.7,6.6 L49.1,3.3 L49.1,-3.3 L51.7,-6.6 L57.7,-6.6 L60.3,-3.3 L60.3,3.3 L57.7,6.6 Z" fill="#fff" stroke="#111" stroke-width="1.59" stroke-linejoin="round" stroke-linecap="round"/>
<path d="M54.3,3.3 L51.7,6.6 L49.1,3.3 L49.1,-3.3 L51.7,-6.6 L54.3,-3.3 Z" fill="#fff" stroke="#111" stroke-width="1.27" stroke-linejoin="round" stroke-linecap="round"/>
<line x1="54.3" y1="3.3" x2="60.3" y2="3.3" stroke="#111" stroke-width="1.14"/>
<line x1="54.3" y1="-3.3" x2="60.3" y2="-3.3" stroke="#111" stroke-width="1.14"/>
<ellipse cx="51.7" cy="0" rx="1.7" ry="4.1" fill="none" stroke="#111" stroke-width="1.02"/>
</g>
<g transform="translate(322.5 425.7) rotate(-38.6)">
<path d="M0,-3.7 L62.7,-3.7 L62.7,3.7 L0,3.7 Z" fill="#fff" stroke="#111" stroke-width="1.59" stroke-linejoin="round" stroke-linecap="round" />
<ellipse cx="0" cy="0" rx="1.7" ry="3.7" fill="#fff" stroke="#111" stroke-width="1.59"/>
<ellipse cx="0" cy="0" rx="0.8" ry="1.7" fill="#fff" stroke="#111" stroke-width="1.02"/>
<path d="M62.7,6.6 L60,3.3 L60,-3.3 L62.7,-6.6 L68.7,-6.6 L71.3,-3.3 L71.3,3.3 L68.7,6.6 Z" fill="#fff" stroke="#111" stroke-width="1.59" stroke-linejoin="round" stroke-linecap="round"/>
<path d="M65.3,3.3 L62.7,6.6 L60,3.3 L60,-3.3 L62.7,-6.6 L65.3,-3.3 Z" fill="#fff" stroke="#111" stroke-width="1.27" stroke-linejoin="round" stroke-linecap="round"/>
<line x1="65.3" y1="3.3" x2="71.3" y2="3.3" stroke="#111" stroke-width="1.14"/>
<line x1="65.3" y1="-3.3" x2="71.3" y2="-3.3" stroke="#111" stroke-width="1.14"/>
<ellipse cx="62.7" cy="0" rx="1.7" ry="4.1" fill="none" stroke="#111" stroke-width="1.02"/>
</g>
<g transform="translate(475.5 534.3) rotate(-38.6)">
<path d="M0,-3.7 L46,-3.7 L46,3.7 L0,3.7 Z" fill="#fff" stroke="#111" stroke-width="1.59" stroke-linejoin="round" stroke-linecap="round" />
<ellipse cx="0" cy="0" rx="1.7" ry="3.7" fill="#fff" stroke="#111" stroke-width="1.59"/>
<ellipse cx="0" cy="0" rx="0.8" ry="1.7" fill="#fff" stroke="#111" stroke-width="1.02"/>
<path d="M46,6.6 L43.4,3.3 L43.4,-3.3 L46,-6.6 L52,-6.6 L54.7,-3.3 L54.7,3.3 L52,6.6 Z" fill="#fff" stroke="#111" stroke-width="1.59" stroke-linejoin="round" stroke-linecap="round"/>
<path d="M48.7,3.3 L46,6.6 L43.4,3.3 L43.4,-3.3 L46,-6.6 L48.7,-3.3 Z" fill="#fff" stroke="#111" stroke-width="1.27" stroke-linejoin="round" stroke-linecap="round"/>
<line x1="48.7" y1="3.3" x2="54.7" y2="3.3" stroke="#111" stroke-width="1.14"/>
<line x1="48.7" y1="-3.3" x2="54.7" y2="-3.3" stroke="#111" stroke-width="1.14"/>
<ellipse cx="46" cy="0" rx="1.7" ry="4.1" fill="none" stroke="#111" stroke-width="1.02"/>
</g>
<g transform="translate(637.2 341) rotate(-38.1)">
<path d="M0,-3.7 L47.3,-3.7 L47.3,3.7 L0,3.7 Z" fill="#fff" stroke="#111" stroke-width="1.59" stroke-linejoin="round" stroke-linecap="round" />
<ellipse cx="0" cy="0" rx="1.7" ry="3.7" fill="#fff" stroke="#111" stroke-width="1.59"/>
<ellipse cx="0" cy="0" rx="0.8" ry="1.7" fill="#fff" stroke="#111" stroke-width="1.02"/>
<path d="M47.3,6.6 L44.7,3.3 L44.7,-3.3 L47.3,-6.6 L53.3,-6.6 L55.9,-3.3 L55.9,3.3 L53.3,6.6 Z" fill="#fff" stroke="#111" stroke-width="1.59" stroke-linejoin="round" stroke-linecap="round"/>
<path d="M49.9,3.3 L47.3,6.6 L44.7,3.3 L44.7,-3.3 L47.3,-6.6 L49.9,-3.3 Z" fill="#fff" stroke="#111" stroke-width="1.27" stroke-linejoin="round" stroke-linecap="round"/>
<line x1="49.9" y1="3.3" x2="55.9" y2="3.3" stroke="#111" stroke-width="1.14"/>
<line x1="49.9" y1="-3.3" x2="55.9" y2="-3.3" stroke="#111" stroke-width="1.14"/>
<ellipse cx="47.3" cy="0" rx="1.7" ry="4.1" fill="none" stroke="#111" stroke-width="1.02"/>
</g>
<g transform="translate(619.5 485.3) rotate(-38)">
<path d="M0,-3.7 L47.4,-3.7 L47.4,3.7 L0,3.7 Z" fill="#fff" stroke="#111" stroke-width="1.59" stroke-linejoin="round" stroke-linecap="round" />
<ellipse cx="0" cy="0" rx="1.7" ry="3.7" fill="#fff" stroke="#111" stroke-width="1.59"/>
<ellipse cx="0" cy="0" rx="0.8" ry="1.7" fill="#fff" stroke="#111" stroke-width="1.02"/>
<path d="M47.4,6.6 L44.7,3.3 L44.7,-3.3 L47.4,-6.6 L53.4,-6.6 L56,-3.3 L56,3.3 L53.4,6.6 Z" fill="#fff" stroke="#111" stroke-width="1.59" stroke-linejoin="round" stroke-linecap="round"/>
<path d="M50,3.3 L47.4,6.6 L44.7,3.3 L44.7,-3.3 L47.4,-6.6 L50,-3.3 Z" fill="#fff" stroke="#111" stroke-width="1.27" stroke-linejoin="round" stroke-linecap="round"/>
<line x1="50" y1="3.3" x2="56" y2="3.3" stroke="#111" stroke-width="1.14"/>
<line x1="50" y1="-3.3" x2="56" y2="-3.3" stroke="#111" stroke-width="1.14"/>
<ellipse cx="47.4" cy="0" rx="1.7" ry="4.1" fill="none" stroke="#111" stroke-width="1.02"/>
</g>
<g transform="translate(732.2 105.3) rotate(-36.5)">
<path d="M0,-3.7 L23.9,-3.7 L23.9,3.7 L0,3.7 Z" fill="#fff" stroke="#111" stroke-width="1.59" stroke-linejoin="round" stroke-linecap="round" />
<ellipse cx="0" cy="0" rx="1.7" ry="3.7" fill="#fff" stroke="#111" stroke-width="1.59"/>
<ellipse cx="0" cy="0" rx="0.8" ry="1.7" fill="#fff" stroke="#111" stroke-width="1.02"/>
<ellipse cx="30.1" cy="0" rx="3.6" ry="5.4" fill="#111" stroke="#111" stroke-width="1.27"/>
<path d="M26.9,-5.4 L30.1,-5.4 L30.1,5.4 L26.9,5.4 Z" fill="#111" stroke="#111" stroke-width="1.27" stroke-linejoin="round" stroke-linecap="round" />
<ellipse cx="27.5" cy="0" rx="4.1" ry="7" fill="#111" stroke="#111" stroke-width="1.27"/>
<path d="M0,-3.7 L26.4,-3.7 L26.4,3.7 L0,3.7 Z" fill="#fff" stroke="#111" stroke-width="0.0" stroke-linejoin="round" stroke-linecap="round" />
<path d="M26.4,-3.7 L0,-3.7 M0,3.7 L26.4,3.7" fill="none" stroke="#111" stroke-width="1.59" stroke-linejoin="round" stroke-linecap="round" />
<ellipse cx="0" cy="0" rx="1.7" ry="3.7" fill="#fff" stroke="#111" stroke-width="1.59"/>
<ellipse cx="0" cy="0" rx="0.8" ry="1.7" fill="#fff" stroke="#111" stroke-width="1.02"/>
</g>
<g transform="translate(840.5 263.7) rotate(-36.8)">
<path d="M0,-3.7 L62.8,-3.7 L62.8,3.7 L0,3.7 Z" fill="#fff" stroke="#111" stroke-width="1.59" stroke-linejoin="round" stroke-linecap="round" />
<ellipse cx="0" cy="0" rx="1.7" ry="3.7" fill="#fff" stroke="#111" stroke-width="1.59"/>
<ellipse cx="0" cy="0" rx="0.8" ry="1.7" fill="#fff" stroke="#111" stroke-width="1.02"/>
<path d="M62.8,6.6 L60.2,3.3 L60.2,-3.3 L62.8,-6.6 L68.8,-6.6 L71.4,-3.3 L71.4,3.3 L68.8,6.6 Z" fill="#fff" stroke="#111" stroke-width="1.59" stroke-linejoin="round" stroke-linecap="round"/>
<path d="M65.4,3.3 L62.8,6.6 L60.2,3.3 L60.2,-3.3 L62.8,-6.6 L65.4,-3.3 Z" fill="#fff" stroke="#111" stroke-width="1.27" stroke-linejoin="round" stroke-linecap="round"/>
<line x1="65.4" y1="3.3" x2="71.4" y2="3.3" stroke="#111" stroke-width="1.14"/>
<line x1="65.4" y1="-3.3" x2="71.4" y2="-3.3" stroke="#111" stroke-width="1.14"/>
<ellipse cx="62.8" cy="0" rx="1.7" ry="4.1" fill="none" stroke="#111" stroke-width="1.02"/>
</g>
<g transform="translate(829.3 330.2) rotate(-36.2)">
<path d="M0,-3.7 L23.9,-3.7 L23.9,3.7 L0,3.7 Z" fill="#fff" stroke="#111" stroke-width="1.59" stroke-linejoin="round" stroke-linecap="round" />
<ellipse cx="0" cy="0" rx="1.7" ry="3.7" fill="#fff" stroke="#111" stroke-width="1.59"/>
<ellipse cx="0" cy="0" rx="0.8" ry="1.7" fill="#fff" stroke="#111" stroke-width="1.02"/>
<ellipse cx="30.1" cy="0" rx="3.6" ry="5.4" fill="#111" stroke="#111" stroke-width="1.27"/>
<path d="M26.9,-5.4 L30.1,-5.4 L30.1,5.4 L26.9,5.4 Z" fill="#111" stroke="#111" stroke-width="1.27" stroke-linejoin="round" stroke-linecap="round" />
<ellipse cx="27.5" cy="0" rx="4.1" ry="7" fill="#111" stroke="#111" stroke-width="1.27"/>
<path d="M0,-3.7 L26.4,-3.7 L26.4,3.7 L0,3.7 Z" fill="#fff" stroke="#111" stroke-width="0.0" stroke-linejoin="round" stroke-linecap="round" />
<path d="M26.4,-3.7 L0,-3.7 M0,3.7 L26.4,3.7" fill="none" stroke="#111" stroke-width="1.59" stroke-linejoin="round" stroke-linecap="round" />
<ellipse cx="0" cy="0" rx="1.7" ry="3.7" fill="#fff" stroke="#111" stroke-width="1.59"/>
<ellipse cx="0" cy="0" rx="0.8" ry="1.7" fill="#fff" stroke="#111" stroke-width="1.02"/>
</g>
<g transform="translate(834.8 368.7) rotate(-38.5)">
<path d="M0,-3.7 L46.8,-3.7 L46.8,3.7 L0,3.7 Z" fill="#fff" stroke="#111" stroke-width="1.59" stroke-linejoin="round" stroke-linecap="round" />
<ellipse cx="0" cy="0" rx="1.7" ry="3.7" fill="#fff" stroke="#111" stroke-width="1.59"/>
<ellipse cx="0" cy="0" rx="0.8" ry="1.7" fill="#fff" stroke="#111" stroke-width="1.02"/>
<path d="M46.8,6.6 L44.2,3.3 L44.2,-3.3 L46.8,-6.6 L52.8,-6.6 L55.4,-3.3 L55.4,3.3 L52.8,6.6 Z" fill="#fff" stroke="#111" stroke-width="1.59" stroke-linejoin="round" stroke-linecap="round"/>
<path d="M49.4,3.3 L46.8,6.6 L44.2,3.3 L44.2,-3.3 L46.8,-6.6 L49.4,-3.3 Z" fill="#fff" stroke="#111" stroke-width="1.27" stroke-linejoin="round" stroke-linecap="round"/>
<line x1="49.4" y1="3.3" x2="55.4" y2="3.3" stroke="#111" stroke-width="1.14"/>
<line x1="49.4" y1="-3.3" x2="55.4" y2="-3.3" stroke="#111" stroke-width="1.14"/>
<ellipse cx="46.8" cy="0" rx="1.7" ry="4.1" fill="none" stroke="#111" stroke-width="1.02"/>
</g>
<g transform="translate(882 491.5) rotate(-38.1)">
<path d="M0,-3.7 L51.4,-3.7 L51.4,3.7 L0,3.7 Z" fill="#fff" stroke="#111" stroke-width="1.59" stroke-linejoin="round" stroke-linecap="round" />
<ellipse cx="0" cy="0" rx="1.7" ry="3.7" fill="#fff" stroke="#111" stroke-width="1.59"/>
<ellipse cx="0" cy="0" rx="0.8" ry="1.7" fill="#fff" stroke="#111" stroke-width="1.02"/>
<path d="M51.4,6.6 L48.7,3.3 L48.7,-3.3 L51.4,-6.6 L57.4,-6.6 L60,-3.3 L60,3.3 L57.4,6.6 Z" fill="#fff" stroke="#111" stroke-width="1.59" stroke-linejoin="round" stroke-linecap="round"/>
<path d="M54,3.3 L51.4,6.6 L48.7,3.3 L48.7,-3.3 L51.4,-6.6 L54,-3.3 Z" fill="#fff" stroke="#111" stroke-width="1.27" stroke-linejoin="round" stroke-linecap="round"/>
<line x1="54" y1="3.3" x2="60" y2="3.3" stroke="#111" stroke-width="1.14"/>
<line x1="54" y1="-3.3" x2="60" y2="-3.3" stroke="#111" stroke-width="1.14"/>
<ellipse cx="51.4" cy="0" rx="1.7" ry="4.1" fill="none" stroke="#111" stroke-width="1.02"/>
</g>
<g transform="translate(827.8 627.7) rotate(-38.2)">
<path d="M0,-3.7 L62.8,-3.7 L62.8,3.7 L0,3.7 Z" fill="#fff" stroke="#111" stroke-width="1.59" stroke-linejoin="round" stroke-linecap="round" />
<ellipse cx="0" cy="0" rx="1.7" ry="3.7" fill="#fff" stroke="#111" stroke-width="1.59"/>
<ellipse cx="0" cy="0" rx="0.8" ry="1.7" fill="#fff" stroke="#111" stroke-width="1.02"/>
<path d="M62.8,6.6 L60.2,3.3 L60.2,-3.3 L62.8,-6.6 L68.8,-6.6 L71.4,-3.3 L71.4,3.3 L68.8,6.6 Z" fill="#fff" stroke="#111" stroke-width="1.59" stroke-linejoin="round" stroke-linecap="round"/>
<path d="M65.4,3.3 L62.8,6.6 L60.2,3.3 L60.2,-3.3 L62.8,-6.6 L65.4,-3.3 Z" fill="#fff" stroke="#111" stroke-width="1.27" stroke-linejoin="round" stroke-linecap="round"/>
<line x1="65.4" y1="3.3" x2="71.4" y2="3.3" stroke="#111" stroke-width="1.14"/>
<line x1="65.4" y1="-3.3" x2="71.4" y2="-3.3" stroke="#111" stroke-width="1.14"/>
<ellipse cx="62.8" cy="0" rx="1.7" ry="4.1" fill="none" stroke="#111" stroke-width="1.02"/>
</g>
<path d="M428.5,156.9 L405.7,195.7 A15,8.2 -149.6 0 0 431.6,210.9 L454.4,172.1 Z" fill="#fff" stroke="#111" stroke-width="1.59" stroke-linejoin="round" stroke-linecap="round" />
<path d="M407,193.5 A15,8.2 -149.6 0 0 432.8,208.7" fill="none" stroke="#111" stroke-width="1.14" stroke-linejoin="round" stroke-linecap="round" />
<g transform="translate(404.5 217.2) rotate(-37)">
<path d="M0,-9.8 L11,-9.8 A6.1,9.8 0 0 1 11,9.8 L0,9.8 Z" fill="#fff" stroke="#111" stroke-width="1.59" stroke-linejoin="round" stroke-linecap="round" />
<ellipse cx="0" cy="0" rx="6.1" ry="9.8" fill="#fff" stroke="#111" stroke-width="1.59"/>
<ellipse cx="0" cy="0" rx="2.9" ry="4.6" fill="#fff" stroke="#111" stroke-width="1.59"/>
<ellipse cx="0" cy="0" rx="1.6" ry="2.6" fill="#fff" stroke="#111" stroke-width="1.14"/>
</g>
<path d="M427.1,158.4 L420.6,169.4 L420.8,177.8 L425,179.4 L426.2,186.1 L431.8,185.2 L434.6,189.2 L441.7,185.9 L445.5,188.2 L453.8,174.1 Z" fill="#fff" stroke="#111" stroke-width="1.4" stroke-linejoin="round" stroke-linecap="round"/>
<path d="M423,165.3 l-2.5,1 l0,5 l3,-2" fill="#fff" stroke="#111" stroke-width="1.27" stroke-linejoin="round" stroke-linecap="round" />
<ellipse cx="441.5" cy="171.5" rx="20.6" ry="12.6" fill="#fff" stroke="#111" stroke-width="5.6" transform="rotate(-149.6 441.5 171.5)"/>
<ellipse cx="441.5" cy="171.5" rx="20.6" ry="12.6" fill="none" stroke="#fff" stroke-width="3.0" transform="rotate(-149.6 441.5 171.5)"/>
<ellipse cx="446.8" cy="162.4" rx="20.6" ry="12.6" fill="#fff" stroke="#111" stroke-width="5.6" transform="rotate(-149.6 446.8 162.4)"/>
<ellipse cx="446.8" cy="162.4" rx="20.6" ry="12.6" fill="none" stroke="#fff" stroke-width="3.0" transform="rotate(-149.6 446.8 162.4)"/>
<ellipse cx="452.2" cy="153.3" rx="20.6" ry="12.6" fill="#fff" stroke="#111" stroke-width="5.6" transform="rotate(-149.6 452.2 153.3)"/>
<ellipse cx="452.2" cy="153.3" rx="20.6" ry="12.6" fill="none" stroke="#fff" stroke-width="3.0" transform="rotate(-149.6 452.2 153.3)"/>
<ellipse cx="457.5" cy="144.3" rx="20.6" ry="12.6" fill="#fff" stroke="#111" stroke-width="5.6" transform="rotate(-149.6 457.5 144.3)"/>
<ellipse cx="457.5" cy="144.3" rx="20.6" ry="12.6" fill="none" stroke="#fff" stroke-width="3.0" transform="rotate(-149.6 457.5 144.3)"/>
<ellipse cx="462.8" cy="135.2" rx="20.6" ry="12.6" fill="#fff" stroke="#111" stroke-width="5.6" transform="rotate(-149.6 462.8 135.2)"/>
<ellipse cx="462.8" cy="135.2" rx="20.6" ry="12.6" fill="none" stroke="#fff" stroke-width="3.0" transform="rotate(-149.6 462.8 135.2)"/>
<ellipse cx="468.2" cy="126.1" rx="20.6" ry="12.6" fill="#fff" stroke="#111" stroke-width="5.6" transform="rotate(-149.6 468.2 126.1)"/>
<ellipse cx="468.2" cy="126.1" rx="20.6" ry="12.6" fill="none" stroke="#fff" stroke-width="3.0" transform="rotate(-149.6 468.2 126.1)"/>
<ellipse cx="473.5" cy="117" rx="20.6" ry="12.6" fill="#fff" stroke="#111" stroke-width="5.6" transform="rotate(-149.6 473.5 117)"/>
<ellipse cx="473.5" cy="117" rx="20.6" ry="12.6" fill="none" stroke="#fff" stroke-width="3.0" transform="rotate(-149.6 473.5 117)"/>
<ellipse cx="478.9" cy="107.9" rx="20.6" ry="12.6" fill="#fff" stroke="#111" stroke-width="5.6" transform="rotate(-149.6 478.9 107.9)"/>
<ellipse cx="478.9" cy="107.9" rx="20.6" ry="12.6" fill="none" stroke="#fff" stroke-width="3.0" transform="rotate(-149.6 478.9 107.9)"/>
<ellipse cx="484.2" cy="98.8" rx="20.6" ry="12.6" fill="#fff" stroke="#111" stroke-width="5.6" transform="rotate(-149.6 484.2 98.8)"/>
<ellipse cx="484.2" cy="98.8" rx="20.6" ry="12.6" fill="none" stroke="#fff" stroke-width="3.0" transform="rotate(-149.6 484.2 98.8)"/>
<ellipse cx="489.5" cy="89.8" rx="20.6" ry="12.6" fill="#fff" stroke="#111" stroke-width="5.6" transform="rotate(-149.6 489.5 89.8)"/>
<ellipse cx="489.5" cy="89.8" rx="20.6" ry="12.6" fill="none" stroke="#fff" stroke-width="3.0" transform="rotate(-149.6 489.5 89.8)"/>
<ellipse cx="494.9" cy="80.7" rx="20.6" ry="12.6" fill="#fff" stroke="#111" stroke-width="5.6" transform="rotate(-149.6 494.9 80.7)"/>
<ellipse cx="494.9" cy="80.7" rx="20.6" ry="12.6" fill="none" stroke="#fff" stroke-width="3.0" transform="rotate(-149.6 494.9 80.7)"/>
<ellipse cx="500.2" cy="71.6" rx="20.6" ry="12.6" fill="#fff" stroke="#111" stroke-width="5.6" transform="rotate(-149.6 500.2 71.6)"/>
<ellipse cx="500.2" cy="71.6" rx="20.6" ry="12.6" fill="none" stroke="#fff" stroke-width="3.0" transform="rotate(-149.6 500.2 71.6)"/>
<ellipse cx="500.7" cy="70.1" rx="16.5" ry="9.6" fill="#fff" stroke="#111" stroke-width="1.4" transform="rotate(-149.6 500.7 70.1)"/>
<ellipse cx="500.7" cy="69.1" rx="13.5" ry="7.6" fill="#fff" stroke="#111" stroke-width="1.4" transform="rotate(-149.6 500.7 69.1)"/>
<ellipse cx="500.7" cy="68.1" rx="10.5" ry="5.8" fill="#fff" stroke="#111" stroke-width="1.4" transform="rotate(-149.6 500.7 68.1)"/>
<g transform="translate(497.7 68.3) rotate(-37)">
<path d="M0,-9 L17.5,-9 A5.6,9 0 0 1 17.5,9 L0,9 Z" fill="#fff" stroke="#111" stroke-width="1.59" stroke-linejoin="round" stroke-linecap="round" />
<ellipse cx="0" cy="0" rx="5.6" ry="9" fill="#fff" stroke="#111" stroke-width="1.59"/>
<ellipse cx="0" cy="0" rx="3.5" ry="5.6" fill="#fff" stroke="#111" stroke-width="1.59"/>
<ellipse cx="0" cy="0" rx="2.2" ry="3.6" fill="#fff" stroke="#111" stroke-width="1.14"/>
</g>
<g transform="translate(497.7 68.3) rotate(-37)">
<ellipse cx="0" cy="0" rx="0.9" ry="1.8" fill="#fff" stroke="#111" stroke-width="1.02"/>
</g>
<line x1="668" y1="152.5" x2="688" y2="137" stroke="#111" stroke-width="1.4" stroke-dasharray="6 3"/>
<line x1="708" y1="122" x2="731" y2="104.8" stroke="#111" stroke-width="1.4" stroke-dasharray="7 3"/>
<path d="M693.9,165 A20.5,5.8 -24.2 0 1 731.3,148.2" fill="none" stroke="#111" stroke-width="5.2" stroke-linejoin="round" stroke-linecap="round" />
<path d="M693.9,165 A20.5,5.8 -24.2 0 1 731.3,148.2" fill="none" stroke="#fff" stroke-width="2.7" stroke-linejoin="round" stroke-linecap="round" />
<path d="M700,178.6 A20.5,5.8 -24.2 0 1 737.4,161.8" fill="none" stroke="#111" stroke-width="5.2" stroke-linejoin="round" stroke-linecap="round" />
<path d="M700,178.6 A20.5,5.8 -24.2 0 1 737.4,161.8" fill="none" stroke="#fff" stroke-width="2.7" stroke-linejoin="round" stroke-linecap="round" />
<path d="M706.1,192.2 A20.5,5.8 -24.2 0 1 743.5,175.4" fill="none" stroke="#111" stroke-width="5.2" stroke-linejoin="round" stroke-linecap="round" />
<path d="M706.1,192.2 A20.5,5.8 -24.2 0 1 743.5,175.4" fill="none" stroke="#fff" stroke-width="2.7" stroke-linejoin="round" stroke-linecap="round" />
<path d="M712.2,205.8 A20.5,5.8 -24.2 0 1 749.6,189" fill="none" stroke="#111" stroke-width="5.2" stroke-linejoin="round" stroke-linecap="round" />
<path d="M712.2,205.8 A20.5,5.8 -24.2 0 1 749.6,189" fill="none" stroke="#fff" stroke-width="2.7" stroke-linejoin="round" stroke-linecap="round" />
<path d="M718.3,219.4 A20.5,5.8 -24.2 0 1 755.7,202.6" fill="none" stroke="#111" stroke-width="5.2" stroke-linejoin="round" stroke-linecap="round" />
<path d="M718.3,219.4 A20.5,5.8 -24.2 0 1 755.7,202.6" fill="none" stroke="#fff" stroke-width="2.7" stroke-linejoin="round" stroke-linecap="round" />
<path d="M724.4,233 A20.5,5.8 -24.2 0 1 761.8,216.2" fill="none" stroke="#111" stroke-width="5.2" stroke-linejoin="round" stroke-linecap="round" />
<path d="M724.4,233 A20.5,5.8 -24.2 0 1 761.8,216.2" fill="none" stroke="#fff" stroke-width="2.7" stroke-linejoin="round" stroke-linecap="round" />
<path d="M730.5,246.6 A20.5,5.8 -24.2 0 1 767.9,229.8" fill="none" stroke="#111" stroke-width="5.2" stroke-linejoin="round" stroke-linecap="round" />
<path d="M730.5,246.6 A20.5,5.8 -24.2 0 1 767.9,229.8" fill="none" stroke="#fff" stroke-width="2.7" stroke-linejoin="round" stroke-linecap="round" />
<path d="M736.6,260.2 A20.5,5.8 -24.2 0 1 774,243.4" fill="none" stroke="#111" stroke-width="5.2" stroke-linejoin="round" stroke-linecap="round" />
<path d="M736.6,260.2 A20.5,5.8 -24.2 0 1 774,243.4" fill="none" stroke="#fff" stroke-width="2.7" stroke-linejoin="round" stroke-linecap="round" />
<path d="M742.7,273.8 A20.5,5.8 -24.2 0 1 780.1,257" fill="none" stroke="#111" stroke-width="5.2" stroke-linejoin="round" stroke-linecap="round" />
<path d="M742.7,273.8 A20.5,5.8 -24.2 0 1 780.1,257" fill="none" stroke="#fff" stroke-width="2.7" stroke-linejoin="round" stroke-linecap="round" />
<g transform="translate(795.7 356.2) rotate(-37)">
<path d="M0,-10 L12.5,-10 A6.2,10 0 0 1 12.5,10 L0,10 Z" fill="#fff" stroke="#111" stroke-width="1.59" stroke-linejoin="round" stroke-linecap="round" />
<ellipse cx="0" cy="0" rx="6.2" ry="10" fill="#fff" stroke="#111" stroke-width="1.59"/>
<ellipse cx="0" cy="0" rx="2.9" ry="4.6" fill="#fff" stroke="#111" stroke-width="1.59"/>
<ellipse cx="0" cy="0" rx="1.5" ry="2.4" fill="#fff" stroke="#111" stroke-width="1.14"/>
</g>
<path d="M755.9,288.6 L781.3,345.2 A14.5,6.1 -24.2 0 0 807.7,333.3 L782.4,276.7 Z" fill="#fff" stroke="#111" stroke-width="1.59" stroke-linejoin="round" stroke-linecap="round" />
<path d="M780.1,342.4 A14.5,6.1 -24.2 0 0 806.5,330.5" fill="none" stroke="#111" stroke-width="1.14" stroke-linejoin="round" stroke-linecap="round" />
<path d="M754.2,287.2 L759.8,299.8 L765.5,302.8 L768.3,299.8 L773.6,302.1 L776,298 L780.7,299 L782.5,293.5 L786.7,293.3 L788.1,287.1 L782.5,274.5 Z" fill="#fff" stroke="#111" stroke-width="1.4" stroke-linejoin="round" stroke-linecap="round"/>
<path d="M703.5,146.5 L728,201.3 L735.7,197.9 L711.2,143.1 Z" fill="#fff" stroke="#111" stroke-width="1.27" stroke-linejoin="round" stroke-linecap="round"/>
<path d="M722.8,201.4 L760.1,284.5 L776.5,277.1 L739.3,194.1 Z" fill="#fff" stroke="#111" stroke-width="1.27" stroke-linejoin="round" stroke-linecap="round"/>
<ellipse cx="731.1" cy="197.7" rx="9" ry="2.6" fill="#fff" stroke="#111" stroke-width="1.27" transform="rotate(-24.2 731.1 197.7)"/>
<ellipse cx="768.7" cy="281.7" rx="24.5" ry="6.6" fill="#fff" stroke="#111" stroke-width="1.52" transform="rotate(-24.2 768.7 281.7)"/>
<ellipse cx="767.9" cy="279.9" rx="24.5" ry="6.6" fill="#fff" stroke="#111" stroke-width="1.52" transform="rotate(-24.2 767.9 279.9)"/>
<ellipse cx="767.1" cy="278.1" rx="20.5" ry="5" fill="#fff" stroke="#111" stroke-width="1.27" transform="rotate(-24.2 767.1 278.1)"/>
<path d="M693.9,165 A20.5,5.8 -24.2 0 0 731.3,148.2" fill="none" stroke="#111" stroke-width="5.2" stroke-linejoin="round" stroke-linecap="round" />
<path d="M693.9,165 A20.5,5.8 -24.2 0 0 731.3,148.2" fill="none" stroke="#fff" stroke-width="2.7" stroke-linejoin="round" stroke-linecap="round" />
<path d="M700,178.6 A20.5,5.8 -24.2 0 0 737.4,161.8" fill="none" stroke="#111" stroke-width="5.2" stroke-linejoin="round" stroke-linecap="round" />
<path d="M700,178.6 A20.5,5.8 -24.2 0 0 737.4,161.8" fill="none" stroke="#fff" stroke-width="2.7" stroke-linejoin="round" stroke-linecap="round" />
<path d="M706.1,192.2 A20.5,5.8 -24.2 0 0 743.5,175.4" fill="none" stroke="#111" stroke-width="5.2" stroke-linejoin="round" stroke-linecap="round" />
<path d="M706.1,192.2 A20.5,5.8 -24.2 0 0 743.5,175.4" fill="none" stroke="#fff" stroke-width="2.7" stroke-linejoin="round" stroke-linecap="round" />
<path d="M712.2,205.8 A20.5,5.8 -24.2 0 0 749.6,189" fill="none" stroke="#111" stroke-width="5.2" stroke-linejoin="round" stroke-linecap="round" />
<path d="M712.2,205.8 A20.5,5.8 -24.2 0 0 749.6,189" fill="none" stroke="#fff" stroke-width="2.7" stroke-linejoin="round" stroke-linecap="round" />
<path d="M718.3,219.4 A20.5,5.8 -24.2 0 0 755.7,202.6" fill="none" stroke="#111" stroke-width="5.2" stroke-linejoin="round" stroke-linecap="round" />
<path d="M718.3,219.4 A20.5,5.8 -24.2 0 0 755.7,202.6" fill="none" stroke="#fff" stroke-width="2.7" stroke-linejoin="round" stroke-linecap="round" />
<path d="M724.4,233 A20.5,5.8 -24.2 0 0 761.8,216.2" fill="none" stroke="#111" stroke-width="5.2" stroke-linejoin="round" stroke-linecap="round" />
<path d="M724.4,233 A20.5,5.8 -24.2 0 0 761.8,216.2" fill="none" stroke="#fff" stroke-width="2.7" stroke-linejoin="round" stroke-linecap="round" />
<path d="M730.5,246.6 A20.5,5.8 -24.2 0 0 767.9,229.8" fill="none" stroke="#111" stroke-width="5.2" stroke-linejoin="round" stroke-linecap="round" />
<path d="M730.5,246.6 A20.5,5.8 -24.2 0 0 767.9,229.8" fill="none" stroke="#fff" stroke-width="2.7" stroke-linejoin="round" stroke-linecap="round" />
<path d="M736.6,260.2 A20.5,5.8 -24.2 0 0 774,243.4" fill="none" stroke="#111" stroke-width="5.2" stroke-linejoin="round" stroke-linecap="round" />
<path d="M736.6,260.2 A20.5,5.8 -24.2 0 0 774,243.4" fill="none" stroke="#fff" stroke-width="2.7" stroke-linejoin="round" stroke-linecap="round" />
<path d="M742.7,273.8 A20.5,5.8 -24.2 0 0 780.1,257" fill="none" stroke="#111" stroke-width="5.2" stroke-linejoin="round" stroke-linecap="round" />
<path d="M742.7,273.8 A20.5,5.8 -24.2 0 0 780.1,257" fill="none" stroke="#fff" stroke-width="2.7" stroke-linejoin="round" stroke-linecap="round" />
<ellipse cx="765.9" cy="275.4" rx="20.5" ry="5.8" fill="none" stroke="#111" stroke-width="4.8" transform="rotate(-24.2 765.9 275.4)"/>
<ellipse cx="765.9" cy="275.4" rx="20.5" ry="5.8" fill="none" stroke="#fff" stroke-width="2.6" transform="rotate(-24.2 765.9 275.4)"/>
<ellipse cx="708.5" cy="147.6" rx="20.5" ry="5.8" fill="none" stroke="#111" stroke-width="4.8" transform="rotate(-24.2 708.5 147.6)"/>
<ellipse cx="708.5" cy="147.6" rx="20.5" ry="5.8" fill="none" stroke="#fff" stroke-width="2.6" transform="rotate(-24.2 708.5 147.6)"/>
<ellipse cx="706.5" cy="143" rx="21.5" ry="7" fill="#fff" stroke="#111" stroke-width="1.52" transform="rotate(-24.2 706.5 143)"/>
<ellipse cx="705.9" cy="141.6" rx="21.5" ry="7" fill="#fff" stroke="#111" stroke-width="1.52" transform="rotate(-24.2 705.9 141.6)"/>
<ellipse cx="706.1" cy="142.1" rx="16.5" ry="4.6" fill="#fff" stroke="#111" stroke-width="1.27" transform="rotate(-24.2 706.1 142.1)"/>
<path d="M701.1,143.2 L699.2,136.4 L708.3,132.3 L711.2,138.7 Z" fill="#fff" stroke="#111" stroke-width="1.27" stroke-linejoin="round" stroke-linecap="round"/>
<g transform="translate(695.3 131.8) rotate(-37)">
<path d="M0,-8.8 L13.5,-8.8 A5.5,8.8 0 0 1 13.5,8.8 L0,8.8 Z" fill="#fff" stroke="#111" stroke-width="1.59" stroke-linejoin="round" stroke-linecap="round" />
<ellipse cx="0" cy="0" rx="5.5" ry="8.8" fill="#fff" stroke="#111" stroke-width="1.59"/>
<ellipse cx="0" cy="0" rx="3" ry="4.8" fill="#fff" stroke="#111" stroke-width="1.59"/>
<ellipse cx="0" cy="0" rx="1.6" ry="2.6" fill="#fff" stroke="#111" stroke-width="1.14"/>
</g>
<g transform="translate(433.9 308.2) rotate(-37)">
<path d="M0,-10.3 L47,-10.3 A4.7,10.3 0 0 1 47,10.3 L0,10.3 Z" fill="#fff" stroke="#111" stroke-width="1.59" stroke-linejoin="round" stroke-linecap="round" />
<ellipse cx="0" cy="0" rx="4.7" ry="10.3" fill="#fff" stroke="#111" stroke-width="1.59"/>
<ellipse cx="0" cy="0" rx="3.4" ry="7.4" fill="#fff" stroke="#111" stroke-width="1.59"/>
</g>
<g transform="translate(433.9 308.2) rotate(-37)">
<path d="M41,-10.3 A5.2,10.3 0 0 1 41,10.3" fill="none" stroke="#111" stroke-width="1.27" stroke-linejoin="round" stroke-linecap="round" />
<path d="M44,-10.3 A5.2,10.3 0 0 1 44,10.3" fill="none" stroke="#111" stroke-width="1.27" stroke-linejoin="round" stroke-linecap="round" />
</g>
<path d="M277.5,275.6 L299.5,258.2 L338.9,255.9 L454.3,276.3 L427.4,306.2 L327.3,286.5 L284.4,290 Z" fill="#fff" stroke="#111" stroke-width="1.59" stroke-linejoin="round" stroke-linecap="round"/>
<path d="M296.3,263.6 L335.4,261 L450.6,280.9" fill="none" stroke="#111" stroke-width="1.27" stroke-linejoin="round" stroke-linecap="round"/>
<path d="M290.7,268.9 L323.8,265.9 L440.8,286.5" fill="none" stroke="#111" stroke-width="1.27" stroke-linejoin="round" stroke-linecap="round"/>
<path d="M289.8,270 L323.8,267 L439.7,287.7" fill="none" stroke="#111" stroke-width="1.27" stroke-linejoin="round" stroke-linecap="round"/>
<path d="M282.1,276.8 L313.4,273.8 L329.6,275.6 L431.6,296" fill="none" stroke="#111" stroke-width="1.14" stroke-linejoin="round" stroke-linecap="round"/>
<path d="M338.9,255.9 L328.5,266.3 L313.4,273.8" fill="none" stroke="#111" stroke-width="1.14" stroke-linejoin="round" stroke-linecap="round"/>
<path d="M345.8,257.1 L335.4,267.5 L329.6,275.6" fill="none" stroke="#111" stroke-width="1.14" stroke-linejoin="round" stroke-linecap="round"/>
<g transform="translate(433.9 308.2) rotate(-37)">
<line x1="0" y1="-10.3" x2="41" y2="-10.3" stroke="#111" stroke-width="1.59"/>
</g>
<g transform="translate(433.9 308.2) rotate(-37)">
<ellipse cx="0" cy="0" rx="4.7" ry="10.3" fill="#fff" stroke="#111" stroke-width="1.59"/>
<ellipse cx="0" cy="0" rx="3.4" ry="7.4" fill="#fff" stroke="#111" stroke-width="1.59"/>
<ellipse cx="0.6" cy="0" rx="4" ry="8.6" fill="none" stroke="#111" stroke-width="1.14"/>
</g>
<path d="M277.5,254.8 L279.8,248.3 L286.8,243.9 L296,243.9 L300,250.1 L303.7,258.9 L287.9,267.5 Z" fill="#fff" stroke="#111" stroke-width="1.59" stroke-linejoin="round" stroke-linecap="round"/>
<path d="M281.4,252.4 L283.8,248.3 L288.4,245.9" fill="none" stroke="#111" stroke-width="1.14" stroke-linejoin="round" stroke-linecap="round"/>
<path d="M253.2,270.5 L279.8,249.7 L297.2,245.9 L301.8,257.1 L276.3,276.3 L264.8,268.7 Z" fill="#fff" stroke="#111" stroke-width="1.59" stroke-linejoin="round" stroke-linecap="round"/>
<path d="M264.8,268.7 L276.3,276.3 L282.8,290.7 L272.2,297.6 Z" fill="#fff" stroke="#111" stroke-width="1.59" stroke-linejoin="round" stroke-linecap="round"/>
<path d="M267.1,269.1 L278,277.5 L284.4,289.5" fill="none" stroke="#111" stroke-width="1.14" stroke-linejoin="round" stroke-linecap="round"/>
<path d="M279.8,249.7 L284.4,254.8 L276.3,276.3" fill="none" stroke="#111" stroke-width="1.14" stroke-linejoin="round" stroke-linecap="round"/>
<path d="M284.4,254.8 L299.5,251.3" fill="none" stroke="#111" stroke-width="1.14" stroke-linejoin="round" stroke-linecap="round"/>
<path d="M253.2,270.5 L264.8,268.2 L274.5,296.5 Q271.2,302.3 264.8,301.8 L253.2,301.1 Q243.4,296.5 242.5,283.7 Q244.4,274.4 253.2,270.5 Z" fill="#fff" stroke="#111" stroke-width="2.03" stroke-linejoin="round" stroke-linecap="round" />
<ellipse cx="254.3" cy="288.4" rx="2" ry="3" fill="#fff" stroke="#111" stroke-width="1.27" transform="rotate(-20 254.3 288.4)"/>
<ellipse cx="264.8" cy="273.8" rx="2.6" ry="2.8" fill="#fff" stroke="#111" stroke-width="1.27"/>
<path d="M253.2,302.6 q6,5 16,2" fill="none" stroke="#111" stroke-width="2.54" stroke-linejoin="round" stroke-linecap="round" />
<g transform="translate(150.3 398.7) rotate(-36.7)">
<path d="M0,-12.4 L52.7,-12.4 A7.4,12.4 0 0 1 52.7,12.4 L0,12.4 Z" fill="#fff" stroke="#111" stroke-width="1.59" stroke-linejoin="round" stroke-linecap="round" />
<ellipse cx="0" cy="0" rx="7.4" ry="12.4" fill="#fff" stroke="#111" stroke-width="1.59"/>
<ellipse cx="0" cy="0" rx="1.4" ry="2.4" fill="#fff" stroke="#111" stroke-width="1.59"/>
</g>
<g transform="translate(150.3 398.7) rotate(-36.7)">
<path d="M49.7,-12.4 A7.4,12.4 0 0 1 49.7,12.4" fill="none" stroke="#111" stroke-width="1.27" stroke-linejoin="round" stroke-linecap="round" />
<path d="M46.7,-12.4 A7.4,12.4 0 0 1 46.7,12.4" fill="none" stroke="#111" stroke-width="1.27" stroke-linejoin="round" stroke-linecap="round" />
<path d="M3,-12.4 A7.4,12.4 0 0 1 3,12.4" fill="none" stroke="#111" stroke-width="1.27" stroke-linejoin="round" stroke-linecap="round" />
<ellipse cx="0" cy="0" rx="6" ry="9.9" fill="none" stroke="#111" stroke-width="1.14"/>
</g>
<path d="M192.3,318.2 L154.6,316.1 A15.5,27 12 0 0 143.4,368.9 L181.1,371 Z" fill="#fff" stroke="#111" stroke-width="1.59" stroke-linejoin="round" stroke-linecap="round" />
<path d="M171.9,317.4 A15.5,27 12 0 0 160.8,370" fill="none" stroke="#111" stroke-width="1.27" stroke-linejoin="round" stroke-linecap="round" />
<path d="M176.7,317.8 A15.5,27 12 0 0 165.5,370" fill="none" stroke="#111" stroke-width="1.14" stroke-linejoin="round" stroke-linecap="round" />
<ellipse cx="186.7" cy="344.6" rx="15.5" ry="27" fill="#fff" stroke="#111" stroke-width="1.65" transform="rotate(12 186.7 344.6)"/>
<ellipse cx="187.2" cy="344.6" rx="13.3" ry="24.3" fill="#fff" stroke="#111" stroke-width="1.27" transform="rotate(12 187.2 344.6)"/>
<ellipse cx="187.7" cy="344.6" rx="10.8" ry="20.5" fill="#fff" stroke="#111" stroke-width="2.54" transform="rotate(12 187.7 344.6)"/>
<ellipse cx="188.3" cy="345.1" rx="8.1" ry="16.7" fill="#fff" stroke="#111" stroke-width="2.16" transform="rotate(12 188.3 345.1)"/>
<ellipse cx="189.3" cy="345.1" rx="5.6" ry="14" fill="#fff" stroke="#111" stroke-width="1.27" transform="rotate(12 189.3 345.1)"/>
<path d="M188.6,362.9 A9.3,18.9 12 0 1 184.3,331.2" fill="none" stroke="#111" stroke-width="1.78" stroke-linejoin="round" stroke-linecap="round" />
<path d="M188.3,359 A6.8,14.6 12 0 1 185.4,334.5" fill="none" stroke="#111" stroke-width="1.52" stroke-linejoin="round" stroke-linecap="round" />
<path d="M147,320.6 L152.3,325.3 L174.9,332.4 L173.3,325.9 L169,322.6 Z" fill="#fff" stroke="#111" stroke-width="1.65" stroke-linejoin="round" stroke-linecap="round"/>
<line x1="152.3" y1="325.3" x2="169" y2="322.6" stroke="#111" stroke-width="1.14"/>
<path d="M188.7,306.6 Q184.4,313.5 191.1,318.8" fill="none" stroke="#111" stroke-width="1.65" stroke-linejoin="round" stroke-linecap="round" />
<g transform="translate(158.2 313.1) rotate(-37.7)">
<path d="M0,-12.4 L38.6,-12.4 A7.4,12.4 0 0 1 38.6,12.4 L0,12.4 Z" fill="#fff" stroke="#111" stroke-width="1.59" stroke-linejoin="round" stroke-linecap="round" />
<ellipse cx="0" cy="0" rx="7.4" ry="12.4" fill="#fff" stroke="#111" stroke-width="1.59"/>
<ellipse cx="0" cy="0" rx="1.4" ry="2.4" fill="#fff" stroke="#111" stroke-width="1.59"/>
</g>
<g transform="translate(158.2 313.1) rotate(-37.7)">
<path d="M35.6,-12.4 A7.4,12.4 0 0 1 35.6,12.4" fill="none" stroke="#111" stroke-width="1.27" stroke-linejoin="round" stroke-linecap="round" />
<path d="M32.6,-12.4 A7.4,12.4 0 0 1 32.6,12.4" fill="none" stroke="#111" stroke-width="1.27" stroke-linejoin="round" stroke-linecap="round" />
<path d="M3,-12.4 A7.4,12.4 0 0 1 3,12.4" fill="none" stroke="#111" stroke-width="1.27" stroke-linejoin="round" stroke-linecap="round" />
<path d="M5,-12.4 A7.4,12.4 0 0 1 5,12.4" fill="none" stroke="#111" stroke-width="1.14" stroke-linejoin="round" stroke-linecap="round" />
<ellipse cx="0" cy="0" rx="6" ry="9.9" fill="none" stroke="#111" stroke-width="1.14"/>
</g>
<path d="M152.3,370.2 L158.2,377.5 L169,383.4 L171.4,377.6 L175.9,374.1 Z" fill="#fff" stroke="#111" stroke-width="1.65" stroke-linejoin="round" stroke-linecap="round"/>
<line x1="158.2" y1="377.5" x2="171.4" y2="377.6" stroke="#111" stroke-width="1.14"/>
<g transform="translate(871.5 732.6) rotate(-26.5)">
<path d="M0,-12.4 L59.3,-12.4 A7.4,12.4 0 0 1 59.3,12.4 L0,12.4 Z" fill="#fff" stroke="#111" stroke-width="1.59" stroke-linejoin="round" stroke-linecap="round" />
<ellipse cx="0" cy="0" rx="7.4" ry="12.4" fill="#fff" stroke="#111" stroke-width="1.59"/>
<ellipse cx="0" cy="0" rx="1.4" ry="2.4" fill="#fff" stroke="#111" stroke-width="1.59"/>
</g>
<g transform="translate(871.5 732.6) rotate(-26.5)">
<path d="M56.3,-12.4 A7.4,12.4 0 0 1 56.3,12.4" fill="none" stroke="#111" stroke-width="1.27" stroke-linejoin="round" stroke-linecap="round" />
<path d="M53.3,-12.4 A7.4,12.4 0 0 1 53.3,12.4" fill="none" stroke="#111" stroke-width="1.27" stroke-linejoin="round" stroke-linecap="round" />
<path d="M3,-12.4 A7.4,12.4 0 0 1 3,12.4" fill="none" stroke="#111" stroke-width="1.27" stroke-linejoin="round" stroke-linecap="round" />
<ellipse cx="0" cy="0" rx="6" ry="9.9" fill="none" stroke="#111" stroke-width="1.14"/>
</g>
<path d="M922.5,659 L885.8,657.1 A16.5,28 12 0 0 874.2,711.9 L910.9,713.8 Z" fill="#fff" stroke="#111" stroke-width="1.59" stroke-linejoin="round" stroke-linecap="round" />
<path d="M902.8,658.4 A16.5,28 12 0 0 891.2,712.9" fill="none" stroke="#111" stroke-width="1.27" stroke-linejoin="round" stroke-linecap="round" />
<path d="M907.6,658.7 A16.5,28 12 0 0 896.1,712.9" fill="none" stroke="#111" stroke-width="1.14" stroke-linejoin="round" stroke-linecap="round" />
<ellipse cx="916.7" cy="686.4" rx="16.5" ry="28" fill="#fff" stroke="#111" stroke-width="1.65" transform="rotate(12 916.7 686.4)"/>
<ellipse cx="917.2" cy="686.4" rx="14.2" ry="25.2" fill="#fff" stroke="#111" stroke-width="1.27" transform="rotate(12 917.2 686.4)"/>
<ellipse cx="917.7" cy="686.4" rx="11.5" ry="21.3" fill="#fff" stroke="#111" stroke-width="2.54" transform="rotate(12 917.7 686.4)"/>
<ellipse cx="918.3" cy="686.9" rx="8.6" ry="17.4" fill="#fff" stroke="#111" stroke-width="2.16" transform="rotate(12 918.3 686.9)"/>
<ellipse cx="919.3" cy="686.9" rx="5.9" ry="14.6" fill="#fff" stroke="#111" stroke-width="1.27" transform="rotate(12 919.3 686.9)"/>
<path d="M918.8,705.4 A9.9,19.6 12 0 1 914,672.4" fill="none" stroke="#111" stroke-width="1.78" stroke-linejoin="round" stroke-linecap="round" />
<path d="M918.4,701.3 A7.3,15.1 12 0 1 915.2,675.9" fill="none" stroke="#111" stroke-width="1.52" stroke-linejoin="round" stroke-linecap="round" />
<path d="M879.3,654.5 L887.2,649 L905.3,655.9 L900,667.1 L892.7,665.9 Z" fill="#fff" stroke="#111" stroke-width="1.65" stroke-linejoin="round" stroke-linecap="round"/>
<line x1="887.2" y1="649" x2="892.7" y2="665.9" stroke="#111" stroke-width="1.14"/>
<path d="M907.9,634.7 Q903.9,648 919.1,659.3" fill="none" stroke="#111" stroke-width="1.65" stroke-linejoin="round" stroke-linecap="round" />
<g transform="translate(871.5 646.1) rotate(-38.5)">
<path d="M0,-12.4 L42.7,-12.4 A7.4,12.4 0 0 1 42.7,12.4 L0,12.4 Z" fill="#fff" stroke="#111" stroke-width="1.59" stroke-linejoin="round" stroke-linecap="round" />
<ellipse cx="0" cy="0" rx="7.4" ry="12.4" fill="#fff" stroke="#111" stroke-width="1.59"/>
<ellipse cx="0" cy="0" rx="1.4" ry="2.4" fill="#fff" stroke="#111" stroke-width="1.59"/>
</g>
<g transform="translate(871.5 646.1) rotate(-38.5)">
<path d="M39.7,-12.4 A7.4,12.4 0 0 1 39.7,12.4" fill="none" stroke="#111" stroke-width="1.27" stroke-linejoin="round" stroke-linecap="round" />
<path d="M36.7,-12.4 A7.4,12.4 0 0 1 36.7,12.4" fill="none" stroke="#111" stroke-width="1.27" stroke-linejoin="round" stroke-linecap="round" />
<path d="M3,-12.4 A7.4,12.4 0 0 1 3,12.4" fill="none" stroke="#111" stroke-width="1.27" stroke-linejoin="round" stroke-linecap="round" />
<path d="M5,-12.4 A7.4,12.4 0 0 1 5,12.4" fill="none" stroke="#111" stroke-width="1.14" stroke-linejoin="round" stroke-linecap="round" />
<ellipse cx="0" cy="0" rx="6" ry="9.9" fill="none" stroke="#111" stroke-width="1.14"/>
</g>
<path d="M876.4,706.1 L882.3,713.4 L893.1,719.3 L897.4,711 L904.9,708 Z" fill="#fff" stroke="#111" stroke-width="1.65" stroke-linejoin="round" stroke-linecap="round"/>
<line x1="882.3" y1="713.4" x2="897.4" y2="711" stroke="#111" stroke-width="1.14"/>
<g transform="translate(504.6 442.1) rotate(-37)">
<path d="M0,-11.2 L33,-11.2 A5.2,11.2 0 0 1 33,11.2 L0,11.2 Z" fill="#fff" stroke="#111" stroke-width="1.59" stroke-linejoin="round" stroke-linecap="round" />
<ellipse cx="0" cy="0" rx="5.2" ry="11.2" fill="#fff" stroke="#111" stroke-width="1.59"/>
<ellipse cx="0" cy="0" rx="3.7" ry="8" fill="#fff" stroke="#111" stroke-width="1.59"/>
</g>
<g transform="translate(504.6 442.1) rotate(-37)">
<ellipse cx="0" cy="0" rx="5.2" ry="11.2" fill="none" stroke="#111" stroke-width="2.03"/>
<ellipse cx="0" cy="0" rx="3.7" ry="8" fill="none" stroke="#111" stroke-width="1.91"/>
<ellipse cx="0.6" cy="0" rx="4.2" ry="9.2" fill="none" stroke="#111" stroke-width="1.14"/>
</g>
<g transform="translate(504.6 442.1) rotate(-37)">
<path d="M27,-11.2 A5.6,11.2 0 0 1 27,11.2" fill="none" stroke="#111" stroke-width="1.27" stroke-linejoin="round" stroke-linecap="round" />
</g>
<path d="M511.1,423 L482.3,419.5 L471.2,421.1 L456.4,426.3 L447.1,435.6 L441.6,443.9 L447.1,448.2 L456.4,439.3 L469.4,439.7 L494.4,441.5 Z" fill="#fff" stroke="none"/>
<path d="M511.1,423 L482.3,419.5" fill="none" stroke="#111" stroke-width="1.59" stroke-linejoin="round" stroke-linecap="round"/>
<path d="M469.4,439.7 L494.4,441.5" fill="none" stroke="#111" stroke-width="1.59" stroke-linejoin="round" stroke-linecap="round"/>
<path d="M482.3,419.5 Q474.9,421.7 472.5,428.6" fill="none" stroke="#111" stroke-width="1.59" stroke-linejoin="round" stroke-linecap="round" />
<path d="M472.5,428.6 Q475.8,433.8 469.4,439.7" fill="none" stroke="#111" stroke-width="1.59" stroke-linejoin="round" stroke-linecap="round" />
<path d="M479.6,419.3 Q471.2,421.7 469.7,428.6" fill="none" stroke="#111" stroke-width="1.27" stroke-linejoin="round" stroke-linecap="round" />
<g transform="translate(504.6 442.1) rotate(-37)">
<ellipse cx="0" cy="0" rx="5.2" ry="11.2" fill="#fff" stroke="#111" stroke-width="1.59"/>
<ellipse cx="0" cy="0" rx="3.7" ry="8" fill="#fff" stroke="#111" stroke-width="1.59"/>
<ellipse cx="0.6" cy="0" rx="4.2" ry="9.2" fill="none" stroke="#111" stroke-width="1.14"/>
</g>
<g transform="translate(504.6 442.1) rotate(-37)">
<path d="M0,11.2 L14,11.2" fill="none" stroke="#111" stroke-width="1.59" stroke-linejoin="round" stroke-linecap="round" />
</g>
<path d="M478.6,418.6 Q447.1,421.7 435.1,435.6" fill="none" stroke="#111" stroke-width="1.59" stroke-linejoin="round" stroke-linecap="round" />
<path d="M471.2,424.5 Q449,426.3 439.7,437.5" fill="none" stroke="#111" stroke-width="1.27" stroke-linejoin="round" stroke-linecap="round" />
<path d="M471.2,435.6 Q456.4,433.8 447.1,447.7" fill="none" stroke="#111" stroke-width="1.59" stroke-linejoin="round" stroke-linecap="round" />
<path d="M429,445.6 L371.6,511.4 L390.1,516 L445.7,450.2 Z" fill="#fff" stroke="none"/>
<path d="M429,445.6 L371.6,511.4" fill="none" stroke="#111" stroke-width="1.59" stroke-linejoin="round" stroke-linecap="round"/>
<path d="M390.1,516 L445.7,450.2" fill="none" stroke="#111" stroke-width="1.59" stroke-linejoin="round" stroke-linecap="round"/>
<path d="M426.2,443.9 q2,-7 8,-8 q5,1 6,8" fill="#fff" stroke="#111" stroke-width="1.59" stroke-linejoin="round" stroke-linecap="round" />
<path d="M438.8,439.2 q2,-7 8,-8 q5,1 6,8" fill="#fff" stroke="#111" stroke-width="1.59" stroke-linejoin="round" stroke-linecap="round" />
<path d="M307.1,457.8 L383.1,430 L387.7,444.9 L329.4,467.1 Z" fill="#fff" stroke="none"/>
<path d="M307.1,457.8 L383.1,430" fill="none" stroke="#111" stroke-width="1.59" stroke-linejoin="round" stroke-linecap="round"/>
<path d="M329.4,467.1 L387.7,444.9" fill="none" stroke="#111" stroke-width="1.59" stroke-linejoin="round" stroke-linecap="round"/>
<path d="M411.9,423.6 L434.1,424.1 L437.8,428.6 L435.1,435.6 L412.8,441.2 Z" fill="#fff" stroke="none"/>
<path d="M411.9,423.6 L433.2,424.1" fill="none" stroke="#111" stroke-width="1.59" stroke-linejoin="round" stroke-linecap="round"/>
<path d="M412.8,441.2 Q428.6,439.3 435.1,435.6" fill="none" stroke="#111" stroke-width="1.59" stroke-linejoin="round" stroke-linecap="round" />
<path d="M433.2,424.1 Q438.8,427.3 435.1,435.6" fill="none" stroke="#111" stroke-width="1.59" stroke-linejoin="round" stroke-linecap="round" />
<path d="M412.8,428.6 L430.4,427.5" fill="none" stroke="#111" stroke-width="1.14" stroke-linejoin="round" stroke-linecap="round"/>
<path d="M412.8,435.6 L431.4,433.8" fill="none" stroke="#111" stroke-width="1.14" stroke-linejoin="round" stroke-linecap="round"/>
<path d="M383.2,429.1 L410,423.9 L412.8,441.2 L387.8,445.8 Z" fill="#fff" stroke="#111" stroke-width="1.59" stroke-linejoin="round" stroke-linecap="round"/>
<path d="M384.5,433.8 L411,428.6" fill="none" stroke="#111" stroke-width="1.14" stroke-linejoin="round" stroke-linecap="round"/>
<path d="M386.3,439.7 L411.9,435.2" fill="none" stroke="#111" stroke-width="1.14" stroke-linejoin="round" stroke-linecap="round"/>
<path d="M413,393 Q412.5,389.3 413.2,388.5 L413.6,388.2 Q414.3,387.4 417.1,387.4 L418.4,387.4 Q421.2,387.4 423.4,388.9 L424.5,389.6 Q426.7,391.1 434.5,398.5 L438.4,402.2 Q446.2,409.7 446.6,411.3 L446.7,412.1 Q447.1,413.7 443.8,416.4 L438.8,420.4 L431.4,411.1 L421.9,405.2 Q415.6,401.3 414.9,400.2 L414.5,399.6 Q413.8,398.5 413.2,394.8 Z" fill="#fff" stroke="#111" stroke-width="1.91" stroke-linejoin="round" stroke-linecap="round" />
<ellipse cx="420.8" cy="396.3" rx="2.4" ry="3.2" fill="#fff" stroke="#111" stroke-width="1.4" transform="rotate(-25 420.8 396.3)"/>
<path d="M431.4,411.1 L445.6,410.6" fill="none" stroke="#111" stroke-width="1.27" stroke-linejoin="round" stroke-linecap="round"/>
<path d="M401.7,419.3 L431.4,419.9 L438.8,420.4 L436,424.1 L402.6,422.6 Z" fill="#fff" stroke="#111" stroke-width="1.52" stroke-linejoin="round" stroke-linecap="round"/>
<path d="M399.3,406.5 Q398,399.5 398.7,398.9 L399.1,398.6 Q399.9,398 402.1,398 L403.2,398 Q405.4,398 407.6,399.3 L408.7,400 Q411,401.3 419.1,408.7 L431.4,419.9 L402.6,419.3 L401.7,418 Q401.1,417.1 399.9,410 Z" fill="#fff" stroke="#111" stroke-width="1.91" stroke-linejoin="round" stroke-linecap="round" />
<ellipse cx="406.7" cy="407.4" rx="2.4" ry="3.2" fill="#fff" stroke="#111" stroke-width="1.4" transform="rotate(-25 406.7 407.4)"/>
<path d="M281.2,475.5 L333.1,481 L338.6,483.8 L331.2,501.4 L270,493.1 Z" fill="#fff" stroke="none"/>
<path d="M281.2,475.5 L333.1,481" fill="none" stroke="#111" stroke-width="1.59" stroke-linejoin="round" stroke-linecap="round"/>
<path d="M270,493.1 L307.1,498.6" fill="none" stroke="#111" stroke-width="1.59" stroke-linejoin="round" stroke-linecap="round"/>
<g transform="translate(371.6 542.9) rotate(-37)">
<path d="M0,-11 L34,-11 A5.1,11 0 0 1 34,11 L0,11 Z" fill="#fff" stroke="#111" stroke-width="1.59" stroke-linejoin="round" stroke-linecap="round" />
<ellipse cx="0" cy="0" rx="5.1" ry="11" fill="#fff" stroke="#111" stroke-width="1.59"/>
<ellipse cx="0" cy="0" rx="3.6" ry="7.8" fill="#fff" stroke="#111" stroke-width="1.59"/>
</g>
<g transform="translate(371.6 542.9) rotate(-37)">
<ellipse cx="0" cy="0" rx="5.1" ry="11" fill="none" stroke="#111" stroke-width="2.03"/>
<ellipse cx="0" cy="0" rx="3.6" ry="7.8" fill="none" stroke="#111" stroke-width="1.91"/>
<ellipse cx="0.6" cy="0" rx="4.1" ry="9" fill="none" stroke="#111" stroke-width="1.14"/>
<path d="M28,-11 A5.1,11 0 0 1 28,11" fill="none" stroke="#111" stroke-width="1.27" stroke-linejoin="round" stroke-linecap="round" />
<path d="M25.5,-11 A5.1,11 0 0 1 25.5,11" fill="none" stroke="#111" stroke-width="1.27" stroke-linejoin="round" stroke-linecap="round" />
</g>
<path d="M336.3,493.8 L364.1,532.7 L379,521.6 L353,489.1 L345.6,486.3 Z" fill="#fff" stroke="none"/>
<path d="M336.3,493.8 L364.1,532.7" fill="none" stroke="#111" stroke-width="1.59" stroke-linejoin="round" stroke-linecap="round"/>
<path d="M379,521.6 L353,489.1" fill="none" stroke="#111" stroke-width="1.59" stroke-linejoin="round" stroke-linecap="round"/>
<path d="M336.3,493.8 Q337.3,485.4 345.6,486.3" fill="none" stroke="#111" stroke-width="1.59" stroke-linejoin="round" stroke-linecap="round" />
<path d="M345.6,486.3 Q350.2,486 353,489.1" fill="none" stroke="#111" stroke-width="1.59" stroke-linejoin="round" stroke-linecap="round" />
<path d="M345.6,486.3 L333.1,481" fill="none" stroke="#111" stroke-width="1.59" stroke-linejoin="round" stroke-linecap="round"/>
<g transform="translate(371.6 542.9) rotate(-37)">
<ellipse cx="0" cy="0" rx="5.1" ry="11" fill="#fff" stroke="#111" stroke-width="1.59"/>
<ellipse cx="0" cy="0" rx="3.6" ry="7.8" fill="#fff" stroke="#111" stroke-width="1.59"/>
<ellipse cx="0.6" cy="0" rx="4.1" ry="9" fill="none" stroke="#111" stroke-width="1.14"/>
</g>
<path d="M368.8,528 q6,-6 14,-10" fill="none" stroke="#111" stroke-width="1.27" stroke-linejoin="round" stroke-linecap="round" />
<path d="M303.9,493.8 L308.5,488.6 L326.1,483 L329.9,486.3 L328.9,491 L335.4,501.2 L347.5,516 L317.8,515.6 L304.8,495.6 Z" fill="#fff" stroke="#111" stroke-width="1.91" stroke-linejoin="round" stroke-linecap="round"/>
<path d="M306.7,493.8 L327.1,488.6" fill="none" stroke="#111" stroke-width="1.14" stroke-linejoin="round" stroke-linecap="round"/>
<path d="M321.5,495.6 L336.3,503.9 L345.6,514.1" fill="none" stroke="#111" stroke-width="1.14" stroke-linejoin="round" stroke-linecap="round"/>
<ellipse cx="315.9" cy="501.5" rx="2.2" ry="2" fill="#fff" stroke="#111" stroke-width="1.27"/>
<ellipse cx="315.9" cy="501.5" rx="1" ry="0.9" fill="#fff" stroke="#111" stroke-width="0.89"/>
<path d="M257.1,468 L268.2,461.6 L294.1,441.2 L304.3,434.7 L310.8,441.2 L309.9,449.5 L273.8,476.4 L264.5,476.4 Z" fill="#fff" stroke="#111" stroke-width="1.59" stroke-linejoin="round" stroke-linecap="round"/>
<path d="M269.1,475.5 L308,447.1" fill="none" stroke="#111" stroke-width="1.27" stroke-linejoin="round" stroke-linecap="round"/>
<path d="M271.9,461.6 L283.9,453.2" fill="none" stroke="#111" stroke-width="1.27" stroke-linejoin="round" stroke-linecap="round"/>
<path d="M290.1,452.7 L283.4,444.9 Q280.8,435.2 291.9,431.9 Q301.6,430.4 311.2,440.8 L304.3,435.6 Q296.9,436.5 295.1,442.1 Q294.1,448.6 290.1,452.7 Z" fill="#fff" stroke="#111" stroke-width="2.16" stroke-linejoin="round" stroke-linecap="round" />
<ellipse cx="293.8" cy="444.5" rx="1.8" ry="3" fill="#fff" stroke="#111" stroke-width="1.52" transform="rotate(10 293.8 444.5)"/>
<path d="M298.8,462.5 L321,456 Q330.8,456.9 328.4,465.6 L311.8,476.4 L299.7,472.7 Z" fill="#fff" stroke="#111" stroke-width="0.0" stroke-linejoin="round" stroke-linecap="round" />
<path d="M307.1,459.7 L321,456 Q330.8,456.9 328.4,465.6 L311.8,476.4" fill="none" stroke="#111" stroke-width="1.59" stroke-linejoin="round" stroke-linecap="round" />
<path d="M310.8,449.5 L297.8,461.6 L312.7,458.8 L301.6,467.1" fill="none" stroke="#111" stroke-width="1.27" stroke-linejoin="round" stroke-linecap="round"/>
<path d="M264.5,476.4 L273.8,476.4 L270,493.1 L259.9,501.4 Z" fill="#fff" stroke="#111" stroke-width="1.59" stroke-linejoin="round" stroke-linecap="round"/>
<path d="M237.6,473.2 Q238.5,469 241.8,468.2 L244.6,467.5 Q247.8,466.7 251,467.2 L253.8,467.6 Q257.1,468 259.7,471 L264.5,476.4 L259.9,501.4 L254.4,499.6 Q251.5,498.6 246,492.5 L241.3,487.2 Q235.8,481 236.7,476.8 Z" fill="#fff" stroke="#111" stroke-width="2.03" stroke-linejoin="round" stroke-linecap="round" />
<ellipse cx="249.3" cy="480.1" rx="2.8" ry="3.2" fill="#fff" stroke="#111" stroke-width="1.4"/>
<ellipse cx="267.8" cy="477.9" rx="3" ry="3" fill="#fff" stroke="#111" stroke-width="1.65"/>
<path d="M234.5,480.1 L245.9,497.7 L249.7,496.4" fill="none" stroke="#111" stroke-width="2.29" stroke-linejoin="round" stroke-linecap="round"/>
<path d="M136,625.5 L86,651 Q65,661.5 86,667.2 L346,771 Q376,783 400,772 L446,748.2" fill="none" stroke="#111" stroke-width="14.2" stroke-linejoin="round" stroke-linecap="round" stroke-linecap="butt"/>
<path d="M136,625.5 L86,651 Q65,661.5 86,667.2 L346,771 Q376,783 400,772 L446,748.2" fill="none" stroke="#fff" stroke-width="11.6" stroke-linejoin="round" stroke-linecap="round" stroke-linecap="butt"/>
<line x1="84.5" y1="645.5" x2="89" y2="657" stroke="#111" stroke-width="1.27"/>
<line x1="86" y1="659.5" x2="85.5" y2="674" stroke="#111" stroke-width="1.27"/>
<line x1="352.5" y1="767.5" x2="351" y2="779.5" stroke="#111" stroke-width="1.27"/>
<line x1="397.5" y1="766.5" x2="401.5" y2="779" stroke="#111" stroke-width="1.27"/>
<path d="M130.1,620.8 L145.8,613.2 L147.3,615.6 L146.8,625.2 L134.2,633.2 L131.6,629.5 Z" fill="#fff" stroke="#111" stroke-width="1.65" stroke-linejoin="round" stroke-linecap="round"/>
<path d="M131,622.7 L146.4,615.1" fill="none" stroke="#111" stroke-width="2.03" stroke-linejoin="round" stroke-linecap="round"/>
<ellipse cx="141.2" cy="623.9" rx="1.8" ry="2.8" fill="#fff" stroke="#111" stroke-width="1.4" transform="rotate(15 141.2 623.9)"/>
<path d="M442.8,743.2 L457.5,733.9 L459.5,736.5 L459.2,747.2 L446.9,756.5 L444.5,752.5 Z" fill="#fff" stroke="#111" stroke-width="1.65" stroke-linejoin="round" stroke-linecap="round"/>
<path d="M443.5,745.2 L458.5,735.9" fill="none" stroke="#111" stroke-width="2.03" stroke-linejoin="round" stroke-linecap="round"/>
<ellipse cx="453.5" cy="744.9" rx="1.6" ry="2.6" fill="#fff" stroke="#111" stroke-width="1.4" transform="rotate(15 453.5 744.9)"/>
<line x1="209" y1="583" x2="209" y2="612" stroke="#111" stroke-width="1.4" stroke-dasharray="5 3"/>
<line x1="180" y1="604" x2="180" y2="640" stroke="#111" stroke-width="1.4" stroke-dasharray="5 3"/>
<line x1="320.5" y1="626" x2="320.5" y2="656" stroke="#111" stroke-width="1.4" stroke-dasharray="5 3"/>
<line x1="291.5" y1="648" x2="291.5" y2="684" stroke="#111" stroke-width="1.4" stroke-dasharray="5 3"/>
<line x1="190.5" y1="679" x2="190.5" y2="703" stroke="#111" stroke-width="1.27"/>
<line x1="302" y1="722" x2="302" y2="747" stroke="#111" stroke-width="1.27"/>
<path d="M213,609.2 L197.9,620.7 L212.7,627.2 L227.8,615.8 Z" fill="#fff" stroke="none"/>
<line x1="213" y1="609.2" x2="197.9" y2="620.7" stroke="#111" stroke-width="1.65"/>
<path d="M197.9,620.7 L197.9,607.2 L212.7,613.7 L212.7,627.2 Z" fill="#fff" stroke="none"/>
<line x1="197.9" y1="620.7" x2="197.9" y2="607.2" stroke="#111" stroke-width="1.65"/>
<path d="M197.9,607.2 L197.6,604.4 L212.4,611 L212.7,613.7 Z" fill="#fff" stroke="none"/>
<line x1="197.9" y1="607.2" x2="197.6" y2="604.4" stroke="#111" stroke-width="1.65"/>
<path d="M197.6,604.4 L196.6,602.3 L211.4,608.9 L212.4,611 Z" fill="#fff" stroke="none"/>
<path d="M196.6,602.3 L195.2,601.1 L210,607.6 L211.4,608.9 Z" fill="#fff" stroke="none"/>
<path d="M195.2,601.1 L193.3,600.7 L208.1,607.2 L210,607.6 Z" fill="#fff" stroke="none"/>
<path d="M193.3,600.7 L191.1,601.2 L205.9,607.8 L208.1,607.2 Z" fill="#fff" stroke="none"/>
<path d="M191.1,601.2 L188.7,602.6 L203.5,609.2 L205.9,607.8 Z" fill="#fff" stroke="none"/>
<path d="M188.7,602.6 L186.3,604.8 L201.1,611.4 L203.5,609.2 Z" fill="#fff" stroke="none"/>
<path d="M186.3,604.8 L184.1,607.6 L198.9,614.2 L201.1,611.4 Z" fill="#fff" stroke="none"/>
<path d="M184.1,607.6 L182.2,610.8 L197,617.4 L198.9,614.2 Z" fill="#fff" stroke="none"/>
<path d="M182.2,610.8 L180.7,614.3 L195.5,620.9 L197,617.4 Z" fill="#fff" stroke="none"/>
<path d="M180.7,614.3 L179.8,617.8 L194.6,624.4 L195.5,620.9 Z" fill="#fff" stroke="none"/>
<path d="M179.8,617.8 L179.5,621 L194.3,627.6 L194.6,624.4 Z" fill="#fff" stroke="none"/>
<path d="M179.5,621 L179.5,634.5 L194.3,641.1 L194.3,627.6 Z" fill="#fff" stroke="none"/>
<path d="M179.5,634.5 L168.3,642.9 L183.1,649.5 L194.3,641.1 Z" fill="#fff" stroke="none"/>
<path d="M168.3,642.9 L179.5,634.5 L179.5,621 L179.8,617.8 L180.7,614.3 L182.2,610.8 L184.1,607.6 L186.3,604.8 L188.7,602.6 L191.1,601.2" fill="none" stroke="#111" stroke-width="1.65" stroke-linejoin="round" stroke-linecap="round"/>
<path d="M183.1,649.5 L194.3,641.1 L194.3,627.6 L194.6,624.4 L195.5,620.9 L197,617.4 L198.9,614.2 L201.1,611.4 L203.5,609.2 L205.9,607.8 L208.1,607.2 L210,607.6 L211.4,608.9 L212.4,611 L212.7,613.7 L212.7,627.2 L227.8,615.8" fill="none" stroke="#111" stroke-width="1.65" stroke-linejoin="round" stroke-linecap="round"/>
<line x1="168.3" y1="642.9" x2="183.1" y2="649.5" stroke="#111" stroke-width="1.65"/>
<line x1="213" y1="609.2" x2="227.8" y2="615.8" stroke="#111" stroke-width="1.65"/>
<line x1="213" y1="609.2" x2="197.9" y2="620.7" stroke="#111" stroke-width="1.65"/>
<line x1="191.1" y1="601.2" x2="205.9" y2="607.8" stroke="#111" stroke-width="1.65"/>
<line x1="179.5" y1="634.5" x2="194.3" y2="641.1" stroke="#111" stroke-width="1.14"/>
<line x1="204.5" y1="623.6" x2="212.7" y2="627.2" stroke="#111" stroke-width="1.14"/>
<line x1="168.6" y1="644.9" x2="183.4" y2="651.5" stroke="#111" stroke-width="1.27"/>
<line x1="183.4" y1="651.5" x2="194.6" y2="643.1" stroke="#111" stroke-width="1.27"/>
<line x1="228.1" y1="617.8" x2="213" y2="629.2" stroke="#111" stroke-width="1.27"/>
<ellipse cx="181.3" cy="642" rx="2.6" ry="1.6" fill="#fff" stroke="#111" stroke-width="1.27" transform="rotate(-10 181.3 642)"/>
<ellipse cx="181.3" cy="642" rx="1.2" ry="0.8" fill="#fff" stroke="#111" stroke-width="1.02" transform="rotate(-10 181.3 642)"/>
<ellipse cx="214.3" cy="618.9" rx="2.4" ry="1.5" fill="#fff" stroke="#111" stroke-width="1.27" transform="rotate(-10 214.3 618.9)"/>
<path d="M324.8,653.2 L309.7,664.7 L324.5,671.2 L339.6,659.8 Z" fill="#fff" stroke="none"/>
<line x1="324.8" y1="653.2" x2="309.7" y2="664.7" stroke="#111" stroke-width="1.65"/>
<path d="M309.7,664.7 L309.7,651.2 L324.5,657.7 L324.5,671.2 Z" fill="#fff" stroke="none"/>
<line x1="309.7" y1="664.7" x2="309.7" y2="651.2" stroke="#111" stroke-width="1.65"/>
<path d="M309.7,651.2 L309.4,648.4 L324.2,655 L324.5,657.7 Z" fill="#fff" stroke="none"/>
<line x1="309.7" y1="651.2" x2="309.4" y2="648.4" stroke="#111" stroke-width="1.65"/>
<path d="M309.4,648.4 L308.4,646.3 L323.2,652.9 L324.2,655 Z" fill="#fff" stroke="none"/>
<path d="M308.4,646.3 L307,645.1 L321.8,651.6 L323.2,652.9 Z" fill="#fff" stroke="none"/>
<path d="M307,645.1 L305.1,644.7 L319.9,651.2 L321.8,651.6 Z" fill="#fff" stroke="none"/>
<path d="M305.1,644.7 L302.9,645.2 L317.7,651.8 L319.9,651.2 Z" fill="#fff" stroke="none"/>
<path d="M302.9,645.2 L300.5,646.6 L315.3,653.2 L317.7,651.8 Z" fill="#fff" stroke="none"/>
<path d="M300.5,646.6 L298.1,648.8 L312.9,655.4 L315.3,653.2 Z" fill="#fff" stroke="none"/>
<path d="M298.1,648.8 L295.9,651.6 L310.7,658.2 L312.9,655.4 Z" fill="#fff" stroke="none"/>
<path d="M295.9,651.6 L294,654.8 L308.8,661.4 L310.7,658.2 Z" fill="#fff" stroke="none"/>
<path d="M294,654.8 L292.5,658.3 L307.3,664.9 L308.8,661.4 Z" fill="#fff" stroke="none"/>
<path d="M292.5,658.3 L291.6,661.8 L306.4,668.4 L307.3,664.9 Z" fill="#fff" stroke="none"/>
<path d="M291.6,661.8 L291.3,665 L306.1,671.6 L306.4,668.4 Z" fill="#fff" stroke="none"/>
<path d="M291.3,665 L291.3,678.5 L306.1,685.1 L306.1,671.6 Z" fill="#fff" stroke="none"/>
<path d="M291.3,678.5 L280.1,686.9 L294.9,693.5 L306.1,685.1 Z" fill="#fff" stroke="none"/>
<path d="M280.1,686.9 L291.3,678.5 L291.3,665 L291.6,661.8 L292.5,658.3 L294,654.8 L295.9,651.6 L298.1,648.8 L300.5,646.6 L302.9,645.2" fill="none" stroke="#111" stroke-width="1.65" stroke-linejoin="round" stroke-linecap="round"/>
<path d="M294.9,693.5 L306.1,685.1 L306.1,671.6 L306.4,668.4 L307.3,664.9 L308.8,661.4 L310.7,658.2 L312.9,655.4 L315.3,653.2 L317.7,651.8 L319.9,651.2 L321.8,651.6 L323.2,652.9 L324.2,655 L324.5,657.7 L324.5,671.2 L339.6,659.8" fill="none" stroke="#111" stroke-width="1.65" stroke-linejoin="round" stroke-linecap="round"/>
<line x1="280.1" y1="686.9" x2="294.9" y2="693.5" stroke="#111" stroke-width="1.65"/>
<line x1="324.8" y1="653.2" x2="339.6" y2="659.8" stroke="#111" stroke-width="1.65"/>
<line x1="324.8" y1="653.2" x2="309.7" y2="664.7" stroke="#111" stroke-width="1.65"/>
<line x1="302.9" y1="645.2" x2="317.7" y2="651.8" stroke="#111" stroke-width="1.65"/>
<line x1="291.3" y1="678.5" x2="306.1" y2="685.1" stroke="#111" stroke-width="1.14"/>
<line x1="316.3" y1="667.6" x2="324.5" y2="671.2" stroke="#111" stroke-width="1.14"/>
<line x1="280.4" y1="688.9" x2="295.2" y2="695.5" stroke="#111" stroke-width="1.27"/>
<line x1="295.2" y1="695.5" x2="306.4" y2="687.1" stroke="#111" stroke-width="1.27"/>
<line x1="339.9" y1="661.8" x2="324.8" y2="673.2" stroke="#111" stroke-width="1.27"/>
<ellipse cx="293.1" cy="686" rx="2.6" ry="1.6" fill="#fff" stroke="#111" stroke-width="1.27" transform="rotate(-10 293.1 686)"/>
<ellipse cx="293.1" cy="686" rx="1.2" ry="0.8" fill="#fff" stroke="#111" stroke-width="1.02" transform="rotate(-10 293.1 686)"/>
<ellipse cx="326.1" cy="662.9" rx="2.4" ry="1.5" fill="#fff" stroke="#111" stroke-width="1.27" transform="rotate(-10 326.1 662.9)"/>
<path d="M178.2,686.9 L178.2,673.3 L178.5,669.9 L179.5,666.3 L181,662.7 L183,659.3 L185.3,656.4 L187.8,654.1 L190.3,652.6 L192.6,652.1 L194.6,652.5 L196.1,653.8 L197,656 L197.4,658.9 L197.4,672.5 Z" fill="#fff" stroke="#111" stroke-width="1.78" stroke-linejoin="round" stroke-linecap="round"/>
<path d="M178.2,686.9 L178.2,673.3 L195.9,680.2 L195.9,693.8 Z" fill="#fff" stroke="none"/>
<path d="M178.2,673.3 L178.5,669.9 L196.2,676.8 L195.9,680.2 Z" fill="#fff" stroke="none"/>
<path d="M178.5,669.9 L179.5,666.3 L197.2,673.2 L196.2,676.8 Z" fill="#fff" stroke="none"/>
<path d="M179.5,666.3 L181,662.7 L198.7,669.6 L197.2,673.2 Z" fill="#fff" stroke="none"/>
<path d="M181,662.7 L183,659.3 L200.7,666.2 L198.7,669.6 Z" fill="#fff" stroke="none"/>
<path d="M183,659.3 L185.3,656.4 L203,663.3 L200.7,666.2 Z" fill="#fff" stroke="none"/>
<path d="M185.3,656.4 L187.8,654.1 L205.5,661 L203,663.3 Z" fill="#fff" stroke="none"/>
<path d="M187.8,654.1 L190.3,652.6 L208,659.5 L205.5,661 Z" fill="#fff" stroke="none"/>
<path d="M190.3,652.6 L192.6,652.1 L210.3,659 L208,659.5 Z" fill="#fff" stroke="none"/>
<path d="M192.6,652.1 L194.6,652.5 L212.3,659.4 L210.3,659 Z" fill="#fff" stroke="none"/>
<path d="M194.6,652.5 L196.1,653.8 L213.8,660.7 L212.3,659.4 Z" fill="#fff" stroke="none"/>
<path d="M196.1,653.8 L197,656 L214.7,662.9 L213.8,660.7 Z" fill="#fff" stroke="none"/>
<path d="M197,656 L197.4,658.9 L215.1,665.8 L214.7,662.9 Z" fill="#fff" stroke="none"/>
<line x1="178.2" y1="686.9" x2="195.9" y2="693.8" stroke="#111" stroke-width="1.65"/>
<line x1="190.3" y1="652.6" x2="208" y2="659.5" stroke="#111" stroke-width="1.52"/>
<line x1="178.2" y1="674" x2="195.9" y2="680.9" stroke="#111" stroke-width="1.27"/>
<path d="M178.2,686.9 L178.2,673.3 L178.5,669.9 L179.5,666.3 L181,662.7 L183,659.3 L185.3,656.4 L187.8,654.1 L190.3,652.6" fill="none" stroke="#111" stroke-width="1.59" stroke-linejoin="round" stroke-linecap="round"/>
<path d="M180.5,687.8 L180.5,674.2 L180.8,670.8 L181.8,667.2 L183.3,663.6 L185.3,660.2 L187.6,657.3 L190.1,655" fill="none" stroke="#111" stroke-width="1.14" stroke-linejoin="round" stroke-linecap="round"/>
<path d="M194.1,693.1 L194.1,679.5 L194.5,676.2 L195.4,672.5 L196.9,668.9 L198.9,665.5 L201.2,662.6 L203.7,660.3" fill="none" stroke="#111" stroke-width="1.02" stroke-linejoin="round" stroke-linecap="round"/>
<path d="M195.9,693.8 L195.9,680.2 L196.2,676.8 L197.2,673.2 L198.7,669.6 L200.7,666.2 L203,663.3 L205.5,661 L208,659.5 L210.3,659 L212.3,659.4 L213.8,660.7 L214.7,662.9 L215.1,665.8 L215.1,679.4 Z" fill="#fff" stroke="#111" stroke-width="1.91" stroke-linejoin="round" stroke-linecap="round"/>
<ellipse cx="206.1" cy="674.2" rx="4.3" ry="7.3" fill="#fff" stroke="#111" stroke-width="1.65" transform="rotate(16 206.1 674.2)"/>
<path d="M290,730.5 L290,716.9 L290.3,713.5 L291.3,709.9 L292.8,706.3 L294.8,702.9 L297.1,700 L299.6,697.7 L302.1,696.2 L304.4,695.7 L306.4,696.1 L307.9,697.4 L308.8,699.6 L309.2,702.5 L309.2,716.1 Z" fill="#fff" stroke="#111" stroke-width="1.78" stroke-linejoin="round" stroke-linecap="round"/>
<path d="M290,730.5 L290,716.9 L307.7,723.8 L307.7,737.4 Z" fill="#fff" stroke="none"/>
<path d="M290,716.9 L290.3,713.5 L308,720.4 L307.7,723.8 Z" fill="#fff" stroke="none"/>
<path d="M290.3,713.5 L291.3,709.9 L309,716.8 L308,720.4 Z" fill="#fff" stroke="none"/>
<path d="M291.3,709.9 L292.8,706.3 L310.5,713.2 L309,716.8 Z" fill="#fff" stroke="none"/>
<path d="M292.8,706.3 L294.8,702.9 L312.5,709.8 L310.5,713.2 Z" fill="#fff" stroke="none"/>
<path d="M294.8,702.9 L297.1,700 L314.8,706.9 L312.5,709.8 Z" fill="#fff" stroke="none"/>
<path d="M297.1,700 L299.6,697.7 L317.3,704.6 L314.8,706.9 Z" fill="#fff" stroke="none"/>
<path d="M299.6,697.7 L302.1,696.2 L319.8,703.1 L317.3,704.6 Z" fill="#fff" stroke="none"/>
<path d="M302.1,696.2 L304.4,695.7 L322.1,702.6 L319.8,703.1 Z" fill="#fff" stroke="none"/>
<path d="M304.4,695.7 L306.4,696.1 L324.1,703 L322.1,702.6 Z" fill="#fff" stroke="none"/>
<path d="M306.4,696.1 L307.9,697.4 L325.6,704.3 L324.1,703 Z" fill="#fff" stroke="none"/>
<path d="M307.9,697.4 L308.8,699.6 L326.5,706.5 L325.6,704.3 Z" fill="#fff" stroke="none"/>
<path d="M308.8,699.6 L309.2,702.5 L326.9,709.4 L326.5,706.5 Z" fill="#fff" stroke="none"/>
<line x1="290" y1="730.5" x2="307.7" y2="737.4" stroke="#111" stroke-width="1.65"/>
<line x1="302.1" y1="696.2" x2="319.8" y2="703.1" stroke="#111" stroke-width="1.52"/>
<line x1="290" y1="717.6" x2="307.7" y2="724.5" stroke="#111" stroke-width="1.27"/>
<path d="M290,730.5 L290,716.9 L290.3,713.5 L291.3,709.9 L292.8,706.3 L294.8,702.9 L297.1,700 L299.6,697.7 L302.1,696.2" fill="none" stroke="#111" stroke-width="1.59" stroke-linejoin="round" stroke-linecap="round"/>
<path d="M292.3,731.4 L292.3,717.8 L292.6,714.4 L293.6,710.8 L295.1,707.2 L297.1,703.8 L299.4,700.9 L301.9,698.6" fill="none" stroke="#111" stroke-width="1.14" stroke-linejoin="round" stroke-linecap="round"/>
<path d="M305.9,736.7 L305.9,723.1 L306.3,719.8 L307.2,716.1 L308.7,712.5 L310.7,709.1 L313,706.2 L315.5,703.9" fill="none" stroke="#111" stroke-width="1.02" stroke-linejoin="round" stroke-linecap="round"/>
<path d="M307.7,737.4 L307.7,723.8 L308,720.4 L309,716.8 L310.5,713.2 L312.5,709.8 L314.8,706.9 L317.3,704.6 L319.8,703.1 L322.1,702.6 L324.1,703 L325.6,704.3 L326.5,706.5 L326.9,709.4 L326.9,723 Z" fill="#fff" stroke="#111" stroke-width="1.91" stroke-linejoin="round" stroke-linecap="round"/>
<ellipse cx="317.9" cy="717.8" rx="4.3" ry="7.3" fill="#fff" stroke="#111" stroke-width="1.65" transform="rotate(16 317.9 717.8)"/>
<line x1="303.6" y1="685.5" x2="303.6" y2="703.5" stroke="#111" stroke-width="1.27"/>
<line x1="191.8" y1="642" x2="191.8" y2="660" stroke="#111" stroke-width="1.27"/>
<path d="M206.5,569.5 L206.5,581 Q209,583 211.5,581 L211.5,569.5 Z" fill="#fff" stroke="#111" stroke-width="1.52" stroke-linejoin="round" stroke-linecap="round" />
<ellipse cx="209" cy="570.1" rx="5.8" ry="2.6" fill="#fff" stroke="#111" stroke-width="1.65"/>
<path d="M204.5,566.5 L204.5,569.3 Q209,571.9 213.5,569.3 L213.5,566.5 Z" fill="#fff" stroke="#111" stroke-width="1.52" stroke-linejoin="round" stroke-linecap="round" />
<ellipse cx="209" cy="566.3" rx="4.5" ry="2" fill="#fff" stroke="#111" stroke-width="1.52"/>
<line x1="207.4" y1="568.3" x2="207.4" y2="570.5" stroke="#111" stroke-width="1.02"/>
<line x1="211" y1="568.3" x2="211" y2="570.5" stroke="#111" stroke-width="1.02"/>
<path d="M177.5,592 L177.5,603.5 Q180,605.5 182.5,603.5 L182.5,592 Z" fill="#fff" stroke="#111" stroke-width="1.52" stroke-linejoin="round" stroke-linecap="round" />
<ellipse cx="180" cy="592.6" rx="5.8" ry="2.6" fill="#fff" stroke="#111" stroke-width="1.65"/>
<path d="M175.5,589 L175.5,591.8 Q180,594.4 184.5,591.8 L184.5,589 Z" fill="#fff" stroke="#111" stroke-width="1.52" stroke-linejoin="round" stroke-linecap="round" />
<ellipse cx="180" cy="588.8" rx="4.5" ry="2" fill="#fff" stroke="#111" stroke-width="1.52"/>
<line x1="178.4" y1="590.8" x2="178.4" y2="593" stroke="#111" stroke-width="1.02"/>
<line x1="182" y1="590.8" x2="182" y2="593" stroke="#111" stroke-width="1.02"/>
<path d="M318,611.5 L318,623 Q320.5,625 323,623 L323,611.5 Z" fill="#fff" stroke="#111" stroke-width="1.52" stroke-linejoin="round" stroke-linecap="round" />
<ellipse cx="320.5" cy="612.1" rx="5.8" ry="2.6" fill="#fff" stroke="#111" stroke-width="1.65"/>
<path d="M316,608.5 L316,611.3 Q320.5,613.9 325,611.3 L325,608.5 Z" fill="#fff" stroke="#111" stroke-width="1.52" stroke-linejoin="round" stroke-linecap="round" />
<ellipse cx="320.5" cy="608.3" rx="4.5" ry="2" fill="#fff" stroke="#111" stroke-width="1.52"/>
<line x1="318.9" y1="610.3" x2="318.9" y2="612.5" stroke="#111" stroke-width="1.02"/>
<line x1="322.5" y1="610.3" x2="322.5" y2="612.5" stroke="#111" stroke-width="1.02"/>
<path d="M289,634 L289,645.5 Q291.5,647.5 294,645.5 L294,634 Z" fill="#fff" stroke="#111" stroke-width="1.52" stroke-linejoin="round" stroke-linecap="round" />
<ellipse cx="291.5" cy="634.6" rx="5.8" ry="2.6" fill="#fff" stroke="#111" stroke-width="1.65"/>
<path d="M287,631 L287,633.8 Q291.5,636.4 296,633.8 L296,631 Z" fill="#fff" stroke="#111" stroke-width="1.52" stroke-linejoin="round" stroke-linecap="round" />
<ellipse cx="291.5" cy="630.8" rx="4.5" ry="2" fill="#fff" stroke="#111" stroke-width="1.52"/>
<line x1="289.9" y1="632.8" x2="289.9" y2="635" stroke="#111" stroke-width="1.02"/>
<line x1="293.5" y1="632.8" x2="293.5" y2="635" stroke="#111" stroke-width="1.02"/>
<g transform="translate(159.7 628.8) rotate(200.5)">
<path d="M-2.8,6.6 L-5.5,3.3 L-5.5,-3.3 L-2.8,-6.6 L2.7,-6.6 L5.5,-3.3 L5.5,3.3 L2.8,6.6 Z" fill="#fff" stroke="#111" stroke-width="1.65" stroke-linejoin="round" stroke-linecap="round"/>
<path d="M0,3.3 L-2.8,6.6 L-5.5,3.3 L-5.5,-3.3 L-2.8,-6.6 L0,-3.3 Z" fill="#fff" stroke="#111" stroke-width="1.27" stroke-linejoin="round" stroke-linecap="round"/>
<line x1="0" y1="3.3" x2="5.5" y2="3.3" stroke="#111" stroke-width="1.14"/>
<line x1="0" y1="-3.3" x2="5.5" y2="-3.3" stroke="#111" stroke-width="1.14"/>
<ellipse cx="-2.8" cy="0" rx="2" ry="4.1" fill="#fff" stroke="#111" stroke-width="1.52"/>
<ellipse cx="-2.8" cy="0" rx="1" ry="2.1" fill="#fff" stroke="#111" stroke-width="1.27"/>
</g>
<ellipse cx="62.2" cy="621.7" rx="13.2" ry="9.4" fill="#fff" stroke="#111" stroke-width="2.29" transform="rotate(28 62.2 621.7)"/>
<ellipse cx="63" cy="619.1" rx="13.2" ry="9.4" fill="#fff" stroke="#111" stroke-width="2.29" transform="rotate(28 63 619.1)"/>
<ellipse cx="60.7" cy="622.2" rx="9.6" ry="6.2" fill="#fff" stroke="#111" stroke-width="2.41" transform="rotate(24 60.7 622.2)"/>
<path d="M68.9,615.1 L67.9,624" fill="none" stroke="#111" stroke-width="1.52" stroke-linejoin="round" stroke-linecap="round" />
<path d="M71.8,613.1 L70.8,623" fill="none" stroke="#111" stroke-width="1.52" stroke-linejoin="round" stroke-linecap="round" />
<path d="M56.8,606.3 L56.6,612.2 Q59.5,614.1 62.7,612 L62.7,606.3 Z" fill="#fff" stroke="#111" stroke-width="1.65" stroke-linejoin="round" stroke-linecap="round" />
<path d="M64,588.5 L72.3,591.7 L83,594.6 L83.9,599.4 L81.2,602.5 L74.8,601.3 L73.3,606.8 L67.9,607 L64,602.3 Z" fill="#111" stroke="#111" stroke-width="1.27" stroke-linejoin="round" stroke-linecap="round" />
<path d="M47.2,580.2 L64,581.2 Q68.9,583.6 68.9,592.5 Q68.6,601.3 64.4,603.8 L59.5,603.3 L44.8,598.9 Q41.6,589.5 47.2,580.2 Z" fill="#fff" stroke="#111" stroke-width="2.16" stroke-linejoin="round" stroke-linecap="round" />
<path d="M55.1,580.7 Q51.9,591.5 54.6,602.1" fill="none" stroke="#111" stroke-width="2.6" stroke-linejoin="round" stroke-linecap="round" />
<path d="M60,581 Q56.8,592 59.3,603.3" fill="none" stroke="#111" stroke-width="1.52" stroke-linejoin="round" stroke-linecap="round" />
<ellipse cx="64.6" cy="592.5" rx="3" ry="10.4" fill="#fff" stroke="#111" stroke-width="2.54" transform="rotate(8 64.6 592.5)"/>
<ellipse cx="65" cy="593" rx="1.5" ry="6.5" fill="#111" stroke="#111" stroke-width="1.27" transform="rotate(8 65 593)"/>
<line x1="84" y1="599.5" x2="127" y2="620" stroke="#111" stroke-width="1.4" stroke-dasharray="9 3"/>
<line x1="147" y1="625.5" x2="154" y2="627.5" stroke="#111" stroke-width="1.27"/>
<g transform="translate(87.7 577.8) rotate(-60)">
<path d="M-2.7,6.4 L-6.2,3.2 L-6.2,-3.2 L-2.8,-6.4 L2.7,-6.4 L6.2,-3.2 L6.2,3.2 L2.8,6.4 Z" fill="#fff" stroke="#111" stroke-width="1.78" stroke-linejoin="round" stroke-linecap="round"/>
<path d="M0.7,3.2 L-2.7,6.4 L-6.2,3.2 L-6.2,-3.2 L-2.8,-6.4 L0.7,-3.2 Z" fill="#fff" stroke="#111" stroke-width="1.4" stroke-linejoin="round" stroke-linecap="round"/>
<line x1="0.7" y1="3.2" x2="6.2" y2="3.2" stroke="#111" stroke-width="1.14"/>
<line x1="0.7" y1="-3.2" x2="6.2" y2="-3.2" stroke="#111" stroke-width="1.14"/>
<ellipse cx="-2.8" cy="0" rx="2" ry="3.2" fill="#fff" stroke="#111" stroke-width="1.27"/>
<line x1="-6.7" y1="0" x2="1.2" y2="0" stroke="#111" stroke-width="1.78"/>
<line x1="-4.7" y1="-5.1" x2="-0.8" y2="5.1" stroke="#111" stroke-width="1.52"/>
</g>
<line x1="83" y1="586" x2="77" y2="596" stroke="#111" stroke-width="1.4"/>
<line x1="458.9" y1="746.3" x2="474.3" y2="752.3" stroke="#111" stroke-width="1.27"/>
<line x1="474.3" y1="752.4" x2="488.6" y2="758.7" stroke="#111" stroke-width="8.0"/>
<ellipse cx="508.5" cy="791.9" rx="10.6" ry="8.4" fill="#fff" stroke="#111" stroke-width="2.29" transform="rotate(35 508.5 791.9)"/>
<ellipse cx="507.3" cy="793.5" rx="10.6" ry="8.4" fill="#fff" stroke="#111" stroke-width="2.29" transform="rotate(35 507.3 793.5)"/>
<ellipse cx="506.7" cy="794.3" rx="7.6" ry="5.6" fill="#fff" stroke="#111" stroke-width="2.29" transform="rotate(35 506.7 794.3)"/>
<ellipse cx="514.4" cy="786.1" rx="11" ry="5.2" fill="#fff" stroke="#111" stroke-width="2.29" transform="rotate(48 514.4 786.1)"/>
<ellipse cx="513.2" cy="785.1" rx="8.6" ry="3.6" fill="#fff" stroke="#111" stroke-width="1.52" transform="rotate(48 513.2 785.1)"/>
<line x1="518.9" y1="778.9" x2="529.8" y2="770" stroke="#111" stroke-width="8.0"/>
<line x1="530.4" y1="768.6" x2="542.4" y2="755.7" stroke="#111" stroke-width="1.4"/>
<path d="M499.5,773.8 L504.1,785.8 L509.8,784.1 L505.2,772.6 Z" fill="#fff" stroke="#111" stroke-width="1.65" stroke-linejoin="round" stroke-linecap="round" />
<ellipse cx="506.6" cy="782.7" rx="2.2" ry="3.6" fill="#fff" stroke="#111" stroke-width="1.52" transform="rotate(-20 506.6 782.7)"/>
<g transform="translate(490.3 759.7) rotate(23)">
<path d="M0,-9.8 L13,-9.8 A5,9.8 0 0 1 13,9.8 L0,9.8 Z" fill="#fff" stroke="#111" stroke-width="1.91" stroke-linejoin="round" stroke-linecap="round" />
<ellipse cx="0" cy="0" rx="4.4" ry="9.8" fill="#fff" stroke="#111" stroke-width="1.91"/>
<path d="M-2,-9.6 A4.4,9.8 0 0 0 -2,9.6" fill="none" stroke="#111" stroke-width="2.4" stroke-linejoin="round" stroke-linecap="round" />
<ellipse cx="13.5" cy="0" rx="5.2" ry="9.4" fill="#fff" stroke="#111" stroke-width="2.54"/>
<ellipse cx="14.5" cy="0" rx="3.6" ry="7.2" fill="#fff" stroke="#111" stroke-width="1.52"/>
<path d="M6,-9.8 A4.4,9.8 0 0 1 6,9.8" fill="none" stroke="#111" stroke-width="1.27" stroke-linejoin="round" stroke-linecap="round" />
</g>
<g transform="translate(546 753) rotate(-50)">
<path d="M-2.7,6.4 L-6.2,3.2 L-6.2,-3.2 L-2.8,-6.4 L2.7,-6.4 L6.2,-3.2 L6.2,3.2 L2.8,6.4 Z" fill="#fff" stroke="#111" stroke-width="1.78" stroke-linejoin="round" stroke-linecap="round"/>
<path d="M0.7,3.2 L-2.7,6.4 L-6.2,3.2 L-6.2,-3.2 L-2.8,-6.4 L0.7,-3.2 Z" fill="#fff" stroke="#111" stroke-width="1.4" stroke-linejoin="round" stroke-linecap="round"/>
<line x1="0.7" y1="3.2" x2="6.2" y2="3.2" stroke="#111" stroke-width="1.14"/>
<line x1="0.7" y1="-3.2" x2="6.2" y2="-3.2" stroke="#111" stroke-width="1.14"/>
<ellipse cx="-2.8" cy="0" rx="2" ry="3.2" fill="#fff" stroke="#111" stroke-width="1.27"/>
<line x1="-6.7" y1="0" x2="1.2" y2="0" stroke="#111" stroke-width="1.78"/>
<line x1="-4.7" y1="-5.1" x2="-0.8" y2="5.1" stroke="#111" stroke-width="1.52"/>
</g>
<g transform="translate(420.7 731.3) rotate(200.5)">
<path d="M-2.8,6.6 L-5.5,3.3 L-5.5,-3.3 L-2.8,-6.6 L2.7,-6.6 L5.5,-3.3 L5.5,3.3 L2.8,6.6 Z" fill="#fff" stroke="#111" stroke-width="1.65" stroke-linejoin="round" stroke-linecap="round"/>
<path d="M0,3.3 L-2.8,6.6 L-5.5,3.3 L-5.5,-3.3 L-2.8,-6.6 L0,-3.3 Z" fill="#fff" stroke="#111" stroke-width="1.27" stroke-linejoin="round" stroke-linecap="round"/>
<line x1="0" y1="3.3" x2="5.5" y2="3.3" stroke="#111" stroke-width="1.14"/>
<line x1="0" y1="-3.3" x2="5.5" y2="-3.3" stroke="#111" stroke-width="1.14"/>
<ellipse cx="-2.8" cy="0" rx="2" ry="4.1" fill="#fff" stroke="#111" stroke-width="1.52"/>
<ellipse cx="-2.8" cy="0" rx="1" ry="2.1" fill="#fff" stroke="#111" stroke-width="1.27"/>
</g>
<line x1="428" y1="733.5" x2="452" y2="743" stroke="#111" stroke-width="1.4" stroke-dasharray="7 3"/>
<g transform="translate(659.5 501.9) rotate(-37)">
<path d="M0,-11 L33,-11 A5.1,11 0 0 1 33,11 L0,11 Z" fill="#fff" stroke="#111" stroke-width="1.59" stroke-linejoin="round" stroke-linecap="round" />
<ellipse cx="0" cy="0" rx="5.1" ry="11" fill="#fff" stroke="#111" stroke-width="1.59"/>
<ellipse cx="0" cy="0" rx="3.6" ry="7.8" fill="#fff" stroke="#111" stroke-width="1.59"/>
</g>
<g transform="translate(659.5 501.9) rotate(-37)">
<ellipse cx="0" cy="0" rx="5.1" ry="11" fill="none" stroke="#111" stroke-width="2.03"/>
<ellipse cx="0" cy="0" rx="3.6" ry="7.8" fill="none" stroke="#111" stroke-width="1.91"/>
<ellipse cx="0.6" cy="0" rx="4.1" ry="9" fill="none" stroke="#111" stroke-width="1.14"/>
<path d="M27,-11 A5.1,11 0 0 1 27,11" fill="none" stroke="#111" stroke-width="1.27" stroke-linejoin="round" stroke-linecap="round" />
<path d="M24.5,-11 A5.1,11 0 0 1 24.5,11" fill="none" stroke="#111" stroke-width="1.27" stroke-linejoin="round" stroke-linecap="round" />
</g>
<path d="M679.9,489.7 L714.1,509.1 L716,515.6 L717.8,524.9 L708.6,536.9 L703,530.4 L671.5,506.3 Z" fill="#fff" stroke="none"/>
<path d="M679.9,489.7 L714.1,509.1" fill="none" stroke="#111" stroke-width="1.59" stroke-linejoin="round" stroke-linecap="round"/>
<path d="M671.5,506.3 L703,530.4" fill="none" stroke="#111" stroke-width="1.59" stroke-linejoin="round" stroke-linecap="round"/>
<path d="M714.1,509.1 Q699.3,515.6 703.9,531.4" fill="none" stroke="#111" stroke-width="1.59" stroke-linejoin="round" stroke-linecap="round" />
<path d="M716.4,512.8 Q721.6,526.7 709,536.9" fill="none" stroke="#111" stroke-width="1.59" stroke-linejoin="round" stroke-linecap="round" />
<path d="M711.4,510.4 Q703,517.5 707.1,529" fill="none" stroke="#111" stroke-width="1.27" stroke-linejoin="round" stroke-linecap="round" />
<path d="M714.1,508.6 L751.2,531.4" fill="none" stroke="#111" stroke-width="1.4" stroke-linejoin="round" stroke-linecap="round"/>
<path d="M716.4,512.8 L743.8,530.4" fill="none" stroke="#111" stroke-width="1.27" stroke-linejoin="round" stroke-linecap="round"/>
<path d="M751.2,563.8 L764.6,631.2 L783.1,629.3 L778.1,571.2 Z" fill="#fff" stroke="none"/>
<path d="M751.2,563.8 L764.6,631.2" fill="none" stroke="#111" stroke-width="1.59" stroke-linejoin="round" stroke-linecap="round"/>
<path d="M778.1,571.2 L783.1,629.3" fill="none" stroke="#111" stroke-width="1.59" stroke-linejoin="round" stroke-linecap="round"/>
<path d="M640,567.5 L695.6,541.6 L706.7,557.3 L640,583.3 Z" fill="#fff" stroke="none"/>
<path d="M571.7,593.5 L640,567.5 L640,583.3 L601.8,598.5 Z" fill="#fff" stroke="none"/>
<path d="M571.7,593.5 L695.6,541.6" fill="none" stroke="#111" stroke-width="1.59" stroke-linejoin="round" stroke-linecap="round"/>
<path d="M601.8,598.5 L706.7,557.3" fill="none" stroke="#111" stroke-width="1.59" stroke-linejoin="round" stroke-linecap="round"/>
<path d="M695.6,541.6 L703,537.8 L718.8,541.6 L719.7,553.6 L708.2,558.6 L703.9,549 Z" fill="#fff" stroke="#111" stroke-width="1.52" stroke-linejoin="round" stroke-linecap="round"/>
<path d="M703,537.8 Q704.9,549 708.2,558.6" fill="none" stroke="#111" stroke-width="1.27" stroke-linejoin="round" stroke-linecap="round" />
<path d="M719.7,541.6 L736.4,539.3 L751.2,547.1 L760.5,561 L777.2,571.2 L778.1,587.9 L754.9,587.9 L751.2,571.2 L743.8,560.1 L732.7,553.6 L719.7,553.2 Z" fill="#fff" stroke="none"/>
<path d="M719.7,541.6 C740.1,537.8 753.1,547.1 760.5,562.9" fill="none" stroke="#111" stroke-width="1.59" stroke-linejoin="round" stroke-linecap="round" />
<path d="M719.7,553.2 C736.4,552.7 749.4,560.1 753.1,578.6" fill="none" stroke="#111" stroke-width="1.59" stroke-linejoin="round" stroke-linecap="round" />
<path d="M721.6,547.1 Q743.8,546.2 755.8,563.8" fill="none" stroke="#111" stroke-width="1.27" stroke-linejoin="round" stroke-linecap="round" />
<path d="M752.1,563.8 L760.5,560.1 L777.2,569.4 L779,587 L773.5,580.5 L760.5,580.5 L754,587.9 Z" fill="#fff" stroke="#111" stroke-width="1.65" stroke-linejoin="round" stroke-linecap="round"/>
<path d="M760.5,560.1 L763.3,578.6" fill="none" stroke="#111" stroke-width="1.27" stroke-linejoin="round" stroke-linecap="round"/>
<path d="M753.1,528.6 L769.9,526 Q777.2,524.9 780.5,527.4 L784.9,530.7 Q788.3,533.2 788,538.5 L787.6,545.5 Q787.4,550.8 783.2,553.9 L773.5,561 L769.7,547.1 Z" fill="#fff" stroke="#111" stroke-width="2.03" stroke-linejoin="round" stroke-linecap="round" />
<ellipse cx="779" cy="535.1" rx="2.6" ry="3.2" fill="#fff" stroke="#111" stroke-width="1.52" transform="rotate(-20 779 535.1)"/>
<path d="M740.1,539.7 L753.1,528.6 L769.7,537.8 L760.5,535.1 Z" fill="#fff" stroke="#111" stroke-width="1.52" stroke-linejoin="round" stroke-linecap="round"/>
<path d="M740.1,539.7 L754.4,536.5 Q760.5,535.1 764.4,537.8 L769.6,541.6 Q773.5,544.3 772.9,550.2 L771.6,563.8 L760.5,556.4 Z" fill="#fff" stroke="#111" stroke-width="2.03" stroke-linejoin="round" stroke-linecap="round" />
<ellipse cx="765.5" cy="545.8" rx="2.6" ry="3.2" fill="#fff" stroke="#111" stroke-width="1.52" transform="rotate(-20 765.5 545.8)"/>
<path d="M773.5,563.8 Q782.7,560.1 783.7,568.4" fill="none" stroke="#111" stroke-width="1.52" stroke-linejoin="round" stroke-linecap="round" />
<g transform="translate(526.9 602.6) rotate(-37)">
<path d="M0,-11 L34,-11 A5.1,11 0 0 1 34,11 L0,11 Z" fill="#fff" stroke="#111" stroke-width="1.59" stroke-linejoin="round" stroke-linecap="round" />
<ellipse cx="0" cy="0" rx="5.1" ry="11" fill="#fff" stroke="#111" stroke-width="1.59"/>
<ellipse cx="0" cy="0" rx="3.6" ry="7.8" fill="#fff" stroke="#111" stroke-width="1.59"/>
</g>
<g transform="translate(526.9 602.6) rotate(-37)">
<ellipse cx="0" cy="0" rx="5.1" ry="11" fill="none" stroke="#111" stroke-width="2.03"/>
<ellipse cx="0" cy="0" rx="3.6" ry="7.8" fill="none" stroke="#111" stroke-width="1.91"/>
<ellipse cx="0.6" cy="0" rx="4.1" ry="9" fill="none" stroke="#111" stroke-width="1.14"/>
<path d="M28,-11 A5.1,11 0 0 1 28,11" fill="none" stroke="#111" stroke-width="1.27" stroke-linejoin="round" stroke-linecap="round" />
<path d="M25.5,-11 A5.1,11 0 0 1 25.5,11" fill="none" stroke="#111" stroke-width="1.27" stroke-linejoin="round" stroke-linecap="round" />
</g>
<path d="M548.2,590.5 L620,602.4 L670,611.7 L694.1,622.8 L746,652.5 L747.9,675.7 L684.9,636.7 L636.7,623.8 L620,621.9 L539.9,608.1 Z" fill="#fff" stroke="none"/>
<path d="M548.2,590.5 L620,602.4 L670,611.7" fill="none" stroke="#111" stroke-width="1.59" stroke-linejoin="round" stroke-linecap="round"/>
<path d="M670,611.7 Q684.9,616.3 694.1,622.8" fill="none" stroke="#111" stroke-width="1.59" stroke-linejoin="round" stroke-linecap="round" />
<path d="M694.1,622.8 L746,652.5" fill="none" stroke="#111" stroke-width="1.59" stroke-linejoin="round" stroke-linecap="round"/>
<path d="M539.9,608.1 L620,621.9 L636.7,623.8" fill="none" stroke="#111" stroke-width="1.59" stroke-linejoin="round" stroke-linecap="round"/>
<path d="M684.9,636.7 L747.9,675.7" fill="none" stroke="#111" stroke-width="1.59" stroke-linejoin="round" stroke-linecap="round"/>
<path d="M670,611.7 Q671,620 666.3,627.8" fill="none" stroke="#111" stroke-width="1.27" stroke-linejoin="round" stroke-linecap="round" />
<path d="M694.1,622.5 Q687.7,628.4 685.2,636.7" fill="none" stroke="#111" stroke-width="1.27" stroke-linejoin="round" stroke-linecap="round" />
<path d="M572.3,593.3 L601,598.8" fill="none" stroke="#111" stroke-width="1.27" stroke-linejoin="round" stroke-linecap="round"/>
<g transform="translate(526.9 602.6) rotate(-37)">
<ellipse cx="0" cy="0" rx="5.1" ry="11" fill="#fff" stroke="#111" stroke-width="1.59"/>
<ellipse cx="0" cy="0" rx="3.6" ry="7.8" fill="#fff" stroke="#111" stroke-width="1.59"/>
<ellipse cx="0.6" cy="0" rx="4.1" ry="9" fill="none" stroke="#111" stroke-width="1.14"/>
</g>
<path d="M635.8,624.7 L648.7,622.8 L663.6,633 L670,633.9 L683.9,625.6 L686.7,627.5 L685.8,638.6 L670,649.7 L664.5,649.7 L635.8,627.5 Z" fill="#fff" stroke="#111" stroke-width="1.91" stroke-linejoin="round" stroke-linecap="round"/>
<path d="M638.5,626.5 L649.7,625.6 L664.5,635.8 L665.4,648.8" fill="none" stroke="#111" stroke-width="1.27" stroke-linejoin="round" stroke-linecap="round"/>
<path d="M670,634.9 L670,648.8" fill="none" stroke="#111" stroke-width="1.27" stroke-linejoin="round" stroke-linecap="round"/>
<ellipse cx="658" cy="634.5" rx="2.6" ry="1.8" fill="#fff" stroke="#111" stroke-width="1.4" transform="rotate(20 658 634.5)"/>
<ellipse cx="658" cy="634.5" rx="1.2" ry="0.8" fill="#fff" stroke="#111" stroke-width="0.89" transform="rotate(20 658 634.5)"/>
<path d="M740.5,646 L766.4,629.3 L768.3,633.9 L747.9,651.6 Z" fill="#fff" stroke="#111" stroke-width="1.4" stroke-linejoin="round" stroke-linecap="round"/>
<path d="M787.7,626.5 L793.4,625.8 Q797.9,625.2 804.6,629.6 L806.1,630.5 Q812.8,634.9 814.3,639 L814.6,640 Q816.1,644.1 815,648.7 L814.8,649.7 Q813.7,654.3 809.9,657 L809.1,657.6 Q805.4,660.3 802,659.5 L801.3,659.4 Q797.9,658.6 795.4,650.4 L792.4,640.4 Z" fill="#fff" stroke="#111" stroke-width="2.03" stroke-linejoin="round" stroke-linecap="round" />
<ellipse cx="805.4" cy="643.8" rx="2.4" ry="3.4" fill="#fff" stroke="#111" stroke-width="1.52" transform="rotate(-15 805.4 643.8)"/>
<path d="M814.6,651.6 Q819.3,653.4 819.3,648.8" fill="none" stroke="#111" stroke-width="1.52" stroke-linejoin="round" stroke-linecap="round" />
<path d="M746,659 L787.7,626.5 L793.3,641.4 L797.9,658.6 L772,679.4 L764.6,668.2 L753.5,659 Z" fill="#fff" stroke="#111" stroke-width="1.65" stroke-linejoin="round" stroke-linecap="round"/>
<path d="M759,657.1 L760.9,649.7 L786.8,631.5" fill="none" stroke="#111" stroke-width="1.27" stroke-linejoin="round" stroke-linecap="round"/>
<path d="M762.7,666.4 L793.3,642.3" fill="none" stroke="#111" stroke-width="1.27" stroke-linejoin="round" stroke-linecap="round"/>
<path d="M787.7,626.5 L790.5,631.2 L794.2,657.1" fill="none" stroke="#111" stroke-width="1.27" stroke-linejoin="round" stroke-linecap="round"/>
<path d="M743.3,660.8 L748.9,659.8 Q753.5,659 758.5,663.1 L759.6,664.1 Q764.6,668.2 768.1,673.2 L768.9,674.4 Q772.4,679.4 772.4,683.5 L772.4,684.5 Q772.4,688.6 765.9,692 L764.5,692.7 Q758.1,696 755.3,694.4 L754.7,694 Q752,692.3 748.6,681.1 L747.9,678.6 Q744.6,667.3 744,664.4 Z" fill="#fff" stroke="#111" stroke-width="2.03" stroke-linejoin="round" stroke-linecap="round" />
<ellipse cx="759.9" cy="677.5" rx="2.4" ry="3.4" fill="#fff" stroke="#111" stroke-width="1.52" transform="rotate(-15 759.9 677.5)"/>
<path d="M758.1,697.5 Q768.3,696 772.9,689.6" fill="none" stroke="#111" stroke-width="2.03" stroke-linejoin="round" stroke-linecap="round" />
<g transform="translate(640.3 416.2) rotate(-37)">
<path d="M0,-10.6 L45,-10.6 A4.9,10.6 0 0 1 45,10.6 L0,10.6 Z" fill="#fff" stroke="#111" stroke-width="1.59" stroke-linejoin="round" stroke-linecap="round" />
<ellipse cx="0" cy="0" rx="4.9" ry="10.6" fill="#fff" stroke="#111" stroke-width="1.59"/>
<ellipse cx="0" cy="0" rx="3.5" ry="7.6" fill="#fff" stroke="#111" stroke-width="1.59"/>
</g>
<g transform="translate(640.3 416.2) rotate(-37)">
<ellipse cx="0" cy="0" rx="4.9" ry="10.6" fill="none" stroke="#111" stroke-width="2.03"/>
<ellipse cx="0" cy="0" rx="3.5" ry="7.6" fill="none" stroke="#111" stroke-width="1.91"/>
<ellipse cx="0.6" cy="0" rx="4" ry="8.8" fill="none" stroke="#111" stroke-width="1.14"/>
<path d="M39,-10.6 A4.9,10.6 0 0 1 39,10.6" fill="none" stroke="#111" stroke-width="1.27" stroke-linejoin="round" stroke-linecap="round" />
<path d="M36.5,-10.6 A4.9,10.6 0 0 1 36.5,10.6" fill="none" stroke="#111" stroke-width="1.27" stroke-linejoin="round" stroke-linecap="round" />
</g>
<path d="M674.2,395.3 L777.8,454.8 L829.6,493.4 L812.8,514.6 L803.1,524.7 L760.5,482.8 L656.1,422.3 L656.1,409.3 Z" fill="#fff" stroke="none"/>
<path d="M674.2,395.3 L777.8,454.8 L829.6,493.4" fill="none" stroke="#111" stroke-width="2.03" stroke-linejoin="round" stroke-linecap="round"/>
<path d="M803.1,524.7 L760.5,482.8 L656.1,422.3 L656.1,409.3" fill="none" stroke="#111" stroke-width="2.03" stroke-linejoin="round" stroke-linecap="round"/>
<path d="M656.1,409.3 L673.5,395.1" fill="none" stroke="#111" stroke-width="1.52" stroke-linejoin="round" stroke-linecap="round"/>
<path d="M668.2,399.9 L773.5,460.8 L824.8,498.2" fill="none" stroke="#111" stroke-width="1.27" stroke-linejoin="round" stroke-linecap="round"/>
<path d="M656.6,409.8 L762.7,470 L811.6,512.2" fill="none" stroke="#111" stroke-width="1.27" stroke-linejoin="round" stroke-linecap="round"/>
<path d="M656.6,411.4 L762.2,471.7 L810.4,513.9" fill="none" stroke="#111" stroke-width="1.27" stroke-linejoin="round" stroke-linecap="round"/>
<path d="M662.9,404.5 L768.2,465.4 L818.1,504.9" fill="none" stroke="#111" stroke-width="1.14" stroke-linejoin="round" stroke-linecap="round"/>
<path d="M758.6,470 L777.8,455.5" fill="none" stroke="#111" stroke-width="1.14" stroke-linejoin="round" stroke-linecap="round"/>
<path d="M774.2,483.3 L794.7,467.6" fill="none" stroke="#111" stroke-width="1.14" stroke-linejoin="round" stroke-linecap="round"/>
<g transform="translate(640.3 416.2) rotate(-37)">
<ellipse cx="0" cy="0" rx="4.9" ry="10.6" fill="#fff" stroke="#111" stroke-width="1.59"/>
<ellipse cx="0" cy="0" rx="3.5" ry="7.6" fill="#fff" stroke="#111" stroke-width="1.59"/>
<ellipse cx="0.6" cy="0" rx="4" ry="8.8" fill="none" stroke="#111" stroke-width="1.14"/>
</g>
<path d="M829.6,493.4 L835.6,491.8 Q840.5,490.5 844.8,490.2 L845.8,490.1 Q850.1,489.8 856.1,495 L857.4,496.1 Q863.4,501.3 865.5,507.3 L866,508.6 Q868.2,514.6 865.5,518.9 L864.9,519.9 Q862.2,524.2 857.3,524.4 L856.2,524.5 Q851.3,524.7 845.4,516.3 L838.1,506.1 Z" fill="#fff" stroke="#111" stroke-width="2.16" stroke-linejoin="round" stroke-linecap="round" />
<ellipse cx="854.2" cy="511" rx="2.4" ry="3.2" fill="#fff" stroke="#111" stroke-width="1.52" transform="rotate(-15 854.2 511)"/>
<path d="M810.4,514.6 L829.6,500.1 L838.1,495.3 L850.1,489.8 L851.3,498.9 L836.9,504.9 L832,517 L822.4,524.2 Z" fill="#fff" stroke="#111" stroke-width="1.78" stroke-linejoin="round" stroke-linecap="round"/>
<path d="M812.8,517.5 L833.3,501.3 L848.9,493.4" fill="none" stroke="#111" stroke-width="1.27" stroke-linejoin="round" stroke-linecap="round"/>
<path d="M801.9,524.7 L810.4,514.6 L815.9,518.6 Q820.5,521.8 825.7,529.4 L826.8,531.1 Q832,538.7 831.2,543.2 L831,544.2 Q830.1,548.8 825.6,550.4 L824.6,550.8 Q820,552.4 815.7,550.2 L814.7,549.8 Q810.4,547.6 807.1,542.7 L806.4,541.6 Q803.1,536.7 802.6,531.3 Z" fill="#fff" stroke="#111" stroke-width="2.16" stroke-linejoin="round" stroke-linecap="round" />
<ellipse cx="818.8" cy="537.5" rx="2.4" ry="3.2" fill="#fff" stroke="#111" stroke-width="1.52" transform="rotate(-15 818.8 537.5)"/>
<ellipse cx="812" cy="515.3" rx="2.4" ry="2.4" fill="#fff" stroke="#111" stroke-width="1.52"/>
<path d="M802.7,539.9 L811.6,549.5 L818.8,553.1" fill="none" stroke="#111" stroke-width="2.79" stroke-linejoin="round" stroke-linecap="round"/>
<line x1="650" y1="667" x2="880" y2="491.5" stroke="#111" stroke-width="1.4" stroke-dasharray="14 4"/>
<line x1="726" y1="701.5" x2="827" y2="627" stroke="#111" stroke-width="1.4" stroke-dasharray="14 4"/>
<text x="509" y="12" font-size="18.5">2</text>
<line x1="509.3" y1="13.3" x2="526.7" y2="13.3" stroke="#111" stroke-width="1.4"/>
<line x1="526.7" y1="13.3" x2="539" y2="38.3" stroke="#111" stroke-width="1.4"/>
<text x="480.7" y="26.7" font-size="18.5">1</text>
<line x1="478.3" y1="31" x2="494" y2="31" stroke="#111" stroke-width="1.4"/>
<line x1="494" y1="31" x2="505.7" y2="56" stroke="#111" stroke-width="1.4"/>
<text x="375" y="117.3" font-size="18.5">3</text>
<line x1="374.3" y1="122.7" x2="389.3" y2="122.7" stroke="#111" stroke-width="1.4"/>
<line x1="389.3" y1="122.7" x2="393.3" y2="144" stroke="#111" stroke-width="1.4"/>
<text x="545" y="148.3" font-size="18.5">2</text>
<line x1="541.7" y1="154" x2="556" y2="154" stroke="#111" stroke-width="1.4"/>
<line x1="541.7" y1="154" x2="518.3" y2="133.3" stroke="#111" stroke-width="1.4"/>
<text x="599" y="122.7" font-size="18.5">10</text>
<line x1="595" y1="127" x2="620.7" y2="127" stroke="#111" stroke-width="1.4"/>
<line x1="620.7" y1="127" x2="627.3" y2="159.3" stroke="#111" stroke-width="1.4"/>
<text x="577.3" y="162.3" font-size="18.5">7</text>
<line x1="577.3" y1="165.7" x2="590.7" y2="165.7" stroke="#111" stroke-width="1.4"/>
<line x1="577.3" y1="165.7" x2="573.3" y2="195" stroke="#111" stroke-width="1.4"/>
<text x="637.3" y="185" font-size="18.5">3</text>
<line x1="636" y1="190" x2="650" y2="190" stroke="#111" stroke-width="1.4"/>
<line x1="650" y1="190" x2="661.7" y2="163" stroke="#111" stroke-width="1.4"/>
<text x="574" y="246.7" font-size="18.5">9</text>
<line x1="570" y1="250.7" x2="585" y2="250.7" stroke="#111" stroke-width="1.4"/>
<line x1="570" y1="250.7" x2="536.7" y2="227.7" stroke="#111" stroke-width="1.4"/>
<text x="521.7" y="272.7" font-size="18.5">8</text>
<line x1="518.3" y1="276.7" x2="533.3" y2="276.7" stroke="#111" stroke-width="1.4"/>
<line x1="518.3" y1="276.7" x2="501.7" y2="262.7" stroke="#111" stroke-width="1.4"/>
<text x="404" y="245.7" font-size="18.5">3</text>
<line x1="400" y1="250" x2="416" y2="250" stroke="#111" stroke-width="1.4"/>
<line x1="400" y1="250" x2="381.7" y2="237.3" stroke="#111" stroke-width="1.4"/>
<text x="682.3" y="99.3" font-size="18.5">1</text>
<line x1="678.3" y1="103.3" x2="692.7" y2="103.3" stroke="#111" stroke-width="1.4"/>
<line x1="692.7" y1="103.3" x2="701.7" y2="120" stroke="#111" stroke-width="1.4"/>
<text x="770.7" y="113.3" font-size="18.5">2</text>
<line x1="768.3" y1="118.3" x2="782.3" y2="118.3" stroke="#111" stroke-width="1.4"/>
<line x1="768.3" y1="118.3" x2="742.7" y2="97.3" stroke="#111" stroke-width="1.4"/>
<text x="300" y="199.3" font-size="18.5">4</text>
<line x1="297.3" y1="202.7" x2="313.3" y2="202.7" stroke="#111" stroke-width="1.4"/>
<line x1="313.3" y1="202.7" x2="336.7" y2="225" stroke="#111" stroke-width="1.4"/>
<text x="145.7" y="270" font-size="18.5">6</text>
<line x1="144.3" y1="275" x2="159.3" y2="275" stroke="#111" stroke-width="1.4"/>
<line x1="159.3" y1="275" x2="171.7" y2="296.7" stroke="#111" stroke-width="1.4"/>
<text x="214" y="272.7" font-size="18.5">3</text>
<line x1="212.3" y1="277.3" x2="227.3" y2="277.3" stroke="#111" stroke-width="1.4"/>
<line x1="227.3" y1="277.3" x2="231.7" y2="301.7" stroke="#111" stroke-width="1.4"/>
<text x="272.3" y="326.7" font-size="18.5">5</text>
<line x1="271" y1="330" x2="286.7" y2="330" stroke="#111" stroke-width="1.4"/>
<line x1="286.7" y1="330" x2="309.3" y2="278.3" stroke="#111" stroke-width="1.4"/>
<text x="349" y="321" font-size="18.5">7</text>
<line x1="346.7" y1="325" x2="361.7" y2="325" stroke="#111" stroke-width="1.4"/>
<line x1="361.7" y1="325" x2="379.3" y2="340" stroke="#111" stroke-width="1.4"/>
<text x="441.7" y="343.3" font-size="18.5">8</text>
<line x1="437.3" y1="347" x2="453.3" y2="347" stroke="#111" stroke-width="1.4"/>
<line x1="437.3" y1="347" x2="418.3" y2="328.3" stroke="#111" stroke-width="1.4"/>
<text x="327.3" y="344" font-size="18.5">3</text>
<line x1="325.7" y1="348.3" x2="340.7" y2="348.3" stroke="#111" stroke-width="1.4"/>
<line x1="340.7" y1="348.3" x2="356" y2="360.7" stroke="#111" stroke-width="1.4"/>
<text x="295.7" y="386" font-size="18.5">10</text>
<line x1="290.7" y1="390" x2="316.7" y2="390" stroke="#111" stroke-width="1.4"/>
<line x1="316.7" y1="390" x2="345.7" y2="405" stroke="#111" stroke-width="1.4"/>
<text x="183" y="491.7" font-size="18.5">3</text>
<line x1="181.7" y1="496" x2="196.7" y2="496" stroke="#111" stroke-width="1.4"/>
<line x1="196.7" y1="496" x2="213.3" y2="502.3" stroke="#111" stroke-width="1.4"/>
<text x="233" y="536.7" font-size="18.5">11</text>
<line x1="230.7" y1="541" x2="254.3" y2="541" stroke="#111" stroke-width="1.4"/>
<line x1="254.3" y1="541" x2="290" y2="490" stroke="#111" stroke-width="1.4"/>
<text x="313" y="540" font-size="18.5">8</text>
<line x1="311.7" y1="544.3" x2="326.7" y2="544.3" stroke="#111" stroke-width="1.4"/>
<line x1="326.7" y1="544.3" x2="342.7" y2="560" stroke="#111" stroke-width="1.4"/>
<text x="272.3" y="568.3" font-size="18.5">12</text>
<line x1="268.3" y1="572.3" x2="295" y2="572.3" stroke="#111" stroke-width="1.4"/>
<line x1="295" y1="572.3" x2="306.7" y2="590" stroke="#111" stroke-width="1.4"/>
<text x="460.7" y="588" font-size="18.5">8</text>
<line x1="456.7" y1="593" x2="470.7" y2="593" stroke="#111" stroke-width="1.4"/>
<line x1="456.7" y1="593" x2="440" y2="571.3" stroke="#111" stroke-width="1.4"/>
<text x="487.3" y="564.3" font-size="18.5">7</text>
<line x1="481.7" y1="570" x2="496.7" y2="570" stroke="#111" stroke-width="1.4"/>
<line x1="481.7" y1="570" x2="466.7" y2="556.7" stroke="#111" stroke-width="1.4"/>
<text x="460.7" y="508.3" font-size="18.5">3</text>
<line x1="456" y1="513.3" x2="470.7" y2="513.3" stroke="#111" stroke-width="1.4"/>
<line x1="456" y1="513.3" x2="443.3" y2="491.7" stroke="#111" stroke-width="1.4"/>
<text x="489.7" y="490" font-size="18.5">7</text>
<line x1="485" y1="495.7" x2="499.3" y2="495.7" stroke="#111" stroke-width="1.4"/>
<line x1="485" y1="495.7" x2="465" y2="483.3" stroke="#111" stroke-width="1.4"/>
<text x="512.3" y="467.3" font-size="18.5">8</text>
<line x1="507.3" y1="471.7" x2="522.7" y2="471.7" stroke="#111" stroke-width="1.4"/>
<line x1="507.3" y1="471.7" x2="487.3" y2="461.7" stroke="#111" stroke-width="1.4"/>
<text x="64" y="549.3" font-size="18.5">14</text>
<line x1="58.3" y1="553.3" x2="83.3" y2="553.3" stroke="#111" stroke-width="1.4"/>
<line x1="58.3" y1="553.3" x2="51.7" y2="581.7" stroke="#111" stroke-width="1.4"/>
<text x="112.3" y="549.3" font-size="18.5">3</text>
<line x1="107.3" y1="553.3" x2="121.7" y2="553.3" stroke="#111" stroke-width="1.4"/>
<line x1="107.3" y1="553.3" x2="91.7" y2="575" stroke="#111" stroke-width="1.4"/>
<text x="153" y="550.7" font-size="18.5">18</text>
<line x1="150" y1="554.3" x2="174" y2="554.3" stroke="#111" stroke-width="1.4"/>
<line x1="174" y1="554.3" x2="204.3" y2="565" stroke="#111" stroke-width="1.4"/>
<line x1="174" y1="554.3" x2="179.3" y2="588.3" stroke="#111" stroke-width="1.4"/>
<text x="137.3" y="593.3" font-size="18.5">3</text>
<line x1="135" y1="597.3" x2="150" y2="597.3" stroke="#111" stroke-width="1.4"/>
<line x1="150" y1="597.3" x2="156.7" y2="624" stroke="#111" stroke-width="1.4"/>
<text x="130.7" y="659.3" font-size="18.5">16</text>
<line x1="126" y1="663.3" x2="150.7" y2="663.3" stroke="#111" stroke-width="1.4"/>
<line x1="150.7" y1="663.3" x2="172.7" y2="643.3" stroke="#111" stroke-width="1.4"/>
<text x="65.7" y="715" font-size="18.5">15</text>
<line x1="62.3" y1="720" x2="87.3" y2="720" stroke="#111" stroke-width="1.4"/>
<line x1="87.3" y1="720" x2="131.7" y2="684" stroke="#111" stroke-width="1.4"/>
<text x="164" y="748.3" font-size="18.5">17</text>
<line x1="161" y1="752.3" x2="185" y2="752.3" stroke="#111" stroke-width="1.4"/>
<line x1="185" y1="752.3" x2="203.3" y2="676" stroke="#111" stroke-width="1.4"/>
<line x1="185" y1="752.3" x2="296.7" y2="727.3" stroke="#111" stroke-width="1.4"/>
<text x="237.3" y="591.7" font-size="18.5">7</text>
<line x1="235" y1="596.7" x2="249.3" y2="596.7" stroke="#111" stroke-width="1.4"/>
<line x1="249.3" y1="596.7" x2="263.3" y2="616.7" stroke="#111" stroke-width="1.4"/>
<text x="217.3" y="651.7" font-size="18.5">3</text>
<line x1="216" y1="656.7" x2="230" y2="656.7" stroke="#111" stroke-width="1.4"/>
<line x1="230" y1="656.7" x2="239.3" y2="643.3" stroke="#111" stroke-width="1.4"/>
<text x="347.3" y="611.3" font-size="18.5">18</text>
<line x1="342.7" y1="614.7" x2="367.3" y2="614.7" stroke="#111" stroke-width="1.4"/>
<line x1="342.7" y1="614.7" x2="326.7" y2="613" stroke="#111" stroke-width="1.4"/>
<line x1="342.7" y1="614.7" x2="296.7" y2="632.3" stroke="#111" stroke-width="1.4"/>
<text x="348.3" y="639.7" font-size="18.5">16</text>
<line x1="342.7" y1="643.7" x2="368.3" y2="643.7" stroke="#111" stroke-width="1.4"/>
<line x1="342.7" y1="643.7" x2="326.7" y2="664.7" stroke="#111" stroke-width="1.4"/>
<text x="397.3" y="649" font-size="18.5">7</text>
<line x1="395" y1="653" x2="410" y2="653" stroke="#111" stroke-width="1.4"/>
<line x1="410" y1="653" x2="426.7" y2="674.7" stroke="#111" stroke-width="1.4"/>
<text x="492.3" y="669" font-size="18.5">12</text>
<line x1="486.7" y1="673.7" x2="511.7" y2="673.7" stroke="#111" stroke-width="1.4"/>
<line x1="486.7" y1="673.7" x2="465" y2="649.7" stroke="#111" stroke-width="1.4"/>
<text x="530.7" y="647" font-size="18.5">8</text>
<line x1="526.7" y1="651.3" x2="542.7" y2="651.3" stroke="#111" stroke-width="1.4"/>
<line x1="526.7" y1="651.3" x2="506.7" y2="624.7" stroke="#111" stroke-width="1.4"/>
<text x="369" y="698.7" font-size="18.5">3</text>
<line x1="367.3" y1="703.7" x2="382.7" y2="703.7" stroke="#111" stroke-width="1.4"/>
<line x1="382.7" y1="703.7" x2="400" y2="697" stroke="#111" stroke-width="1.4"/>
<text x="435" y="711.3" font-size="18.5">3</text>
<line x1="431.7" y1="715.7" x2="446" y2="715.7" stroke="#111" stroke-width="1.4"/>
<line x1="431.7" y1="715.7" x2="423.3" y2="728" stroke="#111" stroke-width="1.4"/>
<text x="519" y="726.3" font-size="18.5">3</text>
<line x1="518.3" y1="730.7" x2="532.7" y2="730.7" stroke="#111" stroke-width="1.4"/>
<line x1="532.7" y1="730.7" x2="543.3" y2="749" stroke="#111" stroke-width="1.4"/>
<text x="540.7" y="802.6" font-size="18.5">19</text>
<line x1="535" y1="807.6" x2="558.3" y2="807.6" stroke="#111" stroke-width="1.4"/>
<line x1="535" y1="807.6" x2="508.3" y2="784.7" stroke="#111" stroke-width="1.4"/>
<text x="632.3" y="291.7" font-size="18.5">13</text>
<line x1="628.3" y1="295.7" x2="652.7" y2="295.7" stroke="#111" stroke-width="1.4"/>
<line x1="652.7" y1="295.7" x2="663.3" y2="321.7" stroke="#111" stroke-width="1.4"/>
<text x="591.7" y="317.3" font-size="18.5">7</text>
<line x1="590" y1="321" x2="604" y2="321" stroke="#111" stroke-width="1.4"/>
<line x1="604" y1="321" x2="615" y2="346.7" stroke="#111" stroke-width="1.4"/>
<text x="554" y="346.7" font-size="18.5">12</text>
<line x1="550.7" y1="350" x2="575.7" y2="350" stroke="#111" stroke-width="1.4"/>
<line x1="575.7" y1="350" x2="580" y2="383.3" stroke="#111" stroke-width="1.4"/>
<text x="526.3" y="376.7" font-size="18.5">8</text>
<line x1="524" y1="381.7" x2="539.3" y2="381.7" stroke="#111" stroke-width="1.4"/>
<line x1="539.3" y1="381.7" x2="546.7" y2="404" stroke="#111" stroke-width="1.4"/>
<text x="597.3" y="408.3" font-size="18.5">8</text>
<line x1="595" y1="412.7" x2="610" y2="412.7" stroke="#111" stroke-width="1.4"/>
<line x1="610" y1="412.7" x2="616.7" y2="431.7" stroke="#111" stroke-width="1.4"/>
<text x="565.7" y="431.7" font-size="18.5">7</text>
<line x1="563.3" y1="436.7" x2="578.3" y2="436.7" stroke="#111" stroke-width="1.4"/>
<line x1="578.3" y1="436.7" x2="588.3" y2="450" stroke="#111" stroke-width="1.4"/>
<text x="537.3" y="472.7" font-size="18.5">3</text>
<line x1="535" y1="476.7" x2="550" y2="476.7" stroke="#111" stroke-width="1.4"/>
<line x1="550" y1="476.7" x2="559.3" y2="472.7" stroke="#111" stroke-width="1.4"/>
<text x="635" y="441.7" font-size="18.5">13</text>
<line x1="630" y1="445.7" x2="654" y2="445.7" stroke="#111" stroke-width="1.4"/>
<line x1="630" y1="445.7" x2="639.3" y2="468.3" stroke="#111" stroke-width="1.4"/>
<text x="554" y="500" font-size="18.5">7</text>
<line x1="552.7" y1="505" x2="566.7" y2="505" stroke="#111" stroke-width="1.4"/>
<line x1="566.7" y1="505" x2="593.3" y2="496.7" stroke="#111" stroke-width="1.4"/>
<text x="672.3" y="349.3" font-size="18.5">8</text>
<line x1="670" y1="353.3" x2="685" y2="353.3" stroke="#111" stroke-width="1.4"/>
<line x1="685" y1="353.3" x2="693.3" y2="371.7" stroke="#111" stroke-width="1.4"/>
<text x="712" y="317" font-size="18.5">9</text>
<line x1="711.7" y1="321" x2="723.3" y2="321" stroke="#111" stroke-width="1.4"/>
<line x1="723.3" y1="321" x2="730" y2="346.7" stroke="#111" stroke-width="1.4"/>
<text x="740.7" y="386" font-size="18.5">3</text>
<line x1="738.3" y1="390.7" x2="753.3" y2="390.7" stroke="#111" stroke-width="1.4"/>
<line x1="753.3" y1="390.7" x2="765" y2="381.7" stroke="#111" stroke-width="1.4"/>
<text x="729" y="491" font-size="18.5">8</text>
<line x1="725" y1="495" x2="740.7" y2="495" stroke="#111" stroke-width="1.4"/>
<line x1="725" y1="495" x2="708.3" y2="468.3" stroke="#111" stroke-width="1.4"/>
<text x="668.3" y="530" font-size="18.5">8</text>
<line x1="663.3" y1="535" x2="678.3" y2="535" stroke="#111" stroke-width="1.4"/>
<line x1="663.3" y1="535" x2="643.3" y2="518.3" stroke="#111" stroke-width="1.4"/>
<text x="632.3" y="557.7" font-size="18.5">7</text>
<line x1="627.3" y1="561.7" x2="641.7" y2="561.7" stroke="#111" stroke-width="1.4"/>
<line x1="627.3" y1="561.7" x2="615" y2="545" stroke="#111" stroke-width="1.4"/>
<text x="569.7" y="573.3" font-size="18.5">3</text>
<line x1="567.7" y1="577.7" x2="582.7" y2="577.7" stroke="#111" stroke-width="1.4"/>
<line x1="582.7" y1="577.7" x2="588.3" y2="558.3" stroke="#111" stroke-width="1.4"/>
<text x="535" y="525" font-size="18.5">8</text>
<line x1="533.3" y1="530" x2="548.3" y2="530" stroke="#111" stroke-width="1.4"/>
<line x1="548.3" y1="530" x2="568.3" y2="519.3" stroke="#111" stroke-width="1.4"/>
<text x="513" y="546.7" font-size="18.5">13</text>
<line x1="508.3" y1="550" x2="531.7" y2="550" stroke="#111" stroke-width="1.4"/>
<line x1="508.3" y1="550" x2="492" y2="520" stroke="#111" stroke-width="1.4"/>
<text x="664" y="592.7" font-size="18.5">20</text>
<line x1="660.7" y1="596.7" x2="685" y2="596.7" stroke="#111" stroke-width="1.4"/>
<line x1="660.7" y1="596.7" x2="633.3" y2="613.3" stroke="#111" stroke-width="1.4"/>
<text x="607.3" y="684.3" font-size="18.5">3</text>
<line x1="606" y1="688.3" x2="620.7" y2="688.3" stroke="#111" stroke-width="1.4"/>
<line x1="620.7" y1="688.3" x2="638.3" y2="675" stroke="#111" stroke-width="1.4"/>
<text x="690.7" y="695" font-size="18.5">3</text>
<line x1="688.3" y1="699.3" x2="703.3" y2="699.3" stroke="#111" stroke-width="1.4"/>
<line x1="703.3" y1="699.3" x2="715" y2="705" stroke="#111" stroke-width="1.4"/>
<text x="827.3" y="230" font-size="18.5">7</text>
<line x1="826" y1="234" x2="839.3" y2="234" stroke="#111" stroke-width="1.4"/>
<line x1="826" y1="234" x2="816.7" y2="273.3" stroke="#111" stroke-width="1.4"/>
<text x="898.3" y="256.7" font-size="18.5">10</text>
<line x1="893.3" y1="261.7" x2="918.3" y2="261.7" stroke="#111" stroke-width="1.4"/>
<line x1="893.3" y1="261.7" x2="878.3" y2="235" stroke="#111" stroke-width="1.4"/>
<text x="867.3" y="292.7" font-size="18.5">2</text>
<line x1="865" y1="296.7" x2="880" y2="296.7" stroke="#111" stroke-width="1.4"/>
<line x1="865" y1="296.7" x2="853.3" y2="310" stroke="#111" stroke-width="1.4"/>
<text x="888.3" y="373.3" font-size="18.5">13</text>
<line x1="881.7" y1="377.7" x2="906.7" y2="377.7" stroke="#111" stroke-width="1.4"/>
<line x1="881.7" y1="377.7" x2="853.3" y2="353.3" stroke="#111" stroke-width="1.4"/>
<text x="850.7" y="402.7" font-size="18.5">7</text>
<line x1="848.3" y1="407.3" x2="861.7" y2="407.3" stroke="#111" stroke-width="1.4"/>
<line x1="848.3" y1="407.3" x2="824" y2="390" stroke="#111" stroke-width="1.4"/>
<text x="813" y="429.3" font-size="18.5">12</text>
<line x1="806.7" y1="434" x2="832.3" y2="434" stroke="#111" stroke-width="1.4"/>
<line x1="806.7" y1="434" x2="780" y2="410" stroke="#111" stroke-width="1.4"/>
<text x="839" y="455" font-size="18.5">5</text>
<line x1="824" y1="460" x2="850" y2="460" stroke="#111" stroke-width="1.4"/>
<line x1="824" y1="460" x2="801.7" y2="483.3" stroke="#111" stroke-width="1.4"/>
<text x="929" y="495" font-size="18.5">4</text>
<line x1="925" y1="499.3" x2="939.3" y2="499.3" stroke="#111" stroke-width="1.4"/>
<line x1="925" y1="499.3" x2="902.7" y2="475" stroke="#111" stroke-width="1.4"/>
<text x="836.3" y="574" font-size="18.5">10</text>
<line x1="832.3" y1="578.3" x2="857.3" y2="578.3" stroke="#111" stroke-width="1.4"/>
<line x1="857.3" y1="578.3" x2="865.7" y2="595.7" stroke="#111" stroke-width="1.4"/>
<text x="927.3" y="604" font-size="18.5">6</text>
<line x1="923" y1="609" x2="937.3" y2="609" stroke="#111" stroke-width="1.4"/>
<line x1="923" y1="609" x2="899" y2="630" stroke="#111" stroke-width="1.4"/>
<line x1="236" y1="301.5" x2="253" y2="289" stroke="#111" stroke-width="1.4" stroke-dasharray="8 3"/>
<line x1="222" y1="500" x2="247" y2="481" stroke="#111" stroke-width="1.4" stroke-dasharray="9 3"/>
<line x1="284" y1="453" x2="293" y2="446" stroke="#111" stroke-width="1.4" stroke-dasharray="9 3"/>
<path d="M711.7,287.5 L730,287.5 L730,312 L737.5,312 L720.7,337 L704.5,312 L711.7,312 Z" fill="none" stroke="#e3131b" stroke-width="3.2" stroke-linejoin="miter"/>
</svg>
</body></html>
